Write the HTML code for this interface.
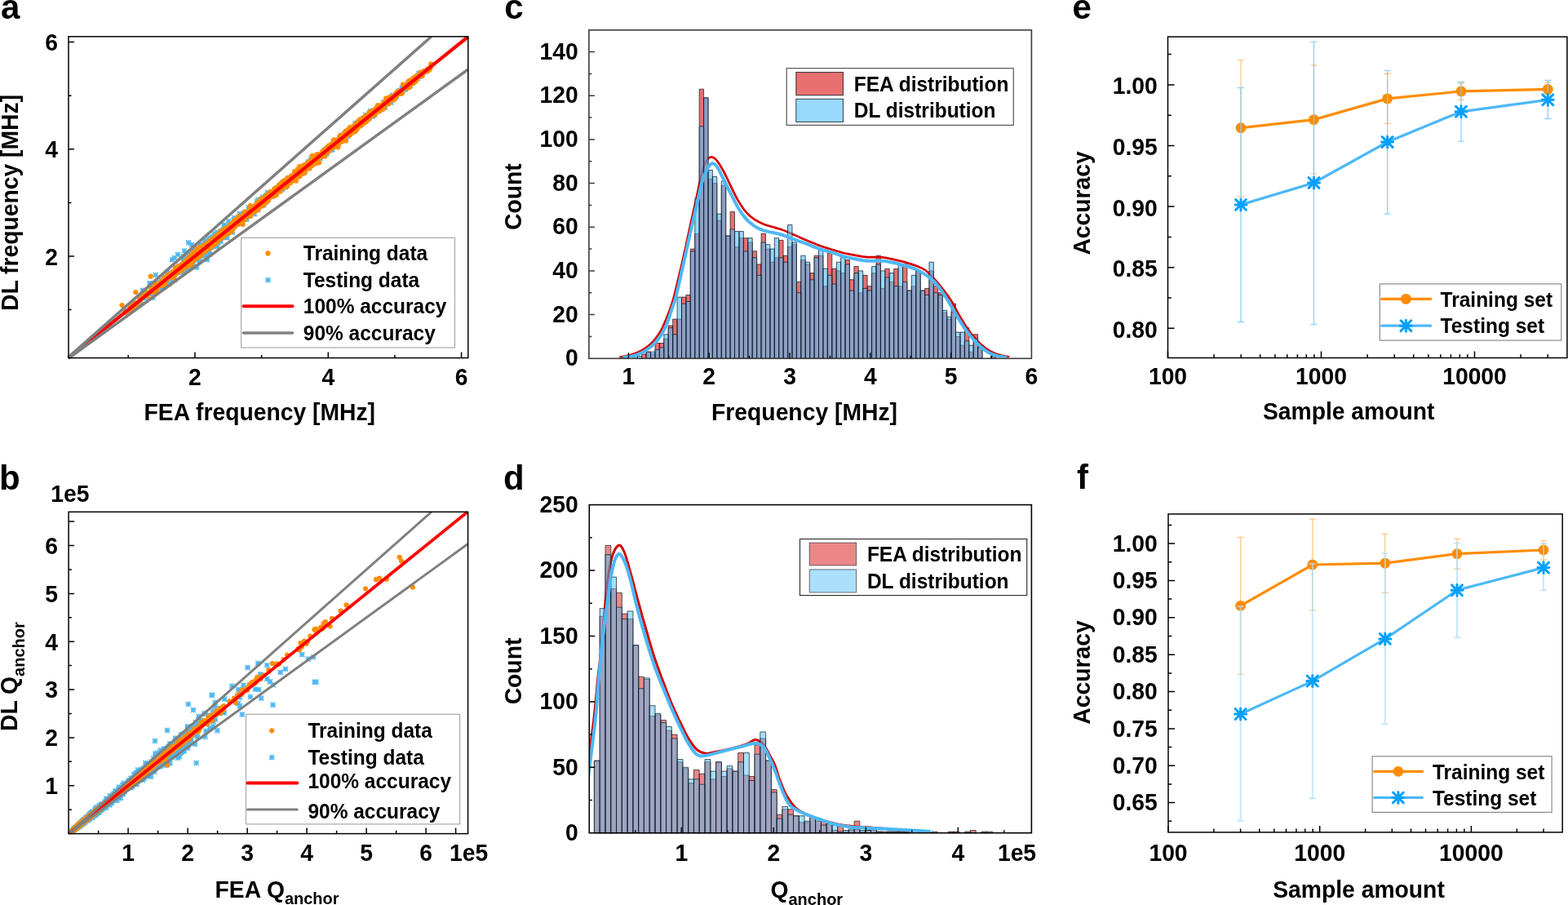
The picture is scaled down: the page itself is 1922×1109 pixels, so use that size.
<!DOCTYPE html>
<html><head><meta charset="utf-8"><title>Figure</title>
<style>html,body{margin:0;padding:0;background:#fff;width:1922px;height:1109px;overflow:hidden}svg{display:block}</style>
</head><body>
<svg width="1922" height="1109" viewBox="0 0 1922 1109" font-family='"Liberation Sans", Arial, Helvetica, sans-serif' font-weight="bold">
<defs><clipPath id="clipC"><rect x="722.7" y="37.6" width="541" height="401"/></clipPath><clipPath id="clipD"><rect x="723.1" y="619.4" width="540.5" height="400.5"/></clipPath></defs>
<rect width="1922" height="1109" fill="#fff"/>
<text font-size="42" text-anchor="start" transform="translate(1 22.7)">a</text>
<text font-size="42" text-anchor="start" transform="translate(-1 599.5)">b</text>
<text font-size="42" text-anchor="start" transform="translate(618.2 22.7)">c</text>
<text font-size="42" text-anchor="start" transform="translate(616.9 599.7)">d</text>
<text font-size="42" text-anchor="start" transform="translate(1314.4 22.7)">e</text>
<text font-size="42" text-anchor="start" transform="translate(1320 599.2)">f</text>
<path d="M432.9 155.4h6.2M436 152.3v6.2M433.1 152.5l5.8 5.8M433.1 158.3l5.8 -5.8M235.5 312.6h6.2M238.6 309.5v6.2M235.7 309.7l5.8 5.8M235.7 315.5l5.8 -5.8M427.5 156.5h6.2M430.6 153.4v6.2M427.7 153.6l5.8 5.8M427.7 159.4l5.8 -5.8M256.5 297.3h6.2M259.6 294.2v6.2M256.7 294.4l5.8 5.8M256.7 300.2l5.8 -5.8M320 247.4h6.2M323.1 244.3v6.2M320.2 244.5l5.8 5.8M320.2 250.3l5.8 -5.8M374.9 198.9h6.2M378 195.8v6.2M375.1 196l5.8 5.8M375.1 201.8l5.8 -5.8M233 319h6.2M236.1 315.9v6.2M233.2 316.1l5.8 5.8M233.2 321.9l5.8 -5.8M465.6 130.5h6.2M468.7 127.4v6.2M465.8 127.6l5.8 5.8M465.8 133.4l5.8 -5.8M471.9 127.1h6.2M475 124v6.2M472.1 124.2l5.8 5.8M472.1 130l5.8 -5.8M477.7 117.6h6.2M480.8 114.5v6.2M477.9 114.7l5.8 5.8M477.9 120.5l5.8 -5.8M177.1 360.3h6.2M180.2 357.2v6.2M177.3 357.4l5.8 5.8M177.3 363.2l5.8 -5.8M356.5 216.1h6.2M359.6 213v6.2M356.7 213.2l5.8 5.8M356.7 219l5.8 -5.8M367 208.3h6.2M370.1 205.2v6.2M367.2 205.4l5.8 5.8M367.2 211.2l5.8 -5.8M437.8 152.1h6.2M440.9 149v6.2M438 149.2l5.8 5.8M438 155l5.8 -5.8M241.3 313.7h6.2M244.4 310.6v6.2M241.5 310.8l5.8 5.8M241.5 316.6l5.8 -5.8M233.4 320.1h6.2M236.5 317v6.2M233.6 317.2l5.8 5.8M233.6 323l5.8 -5.8M415.5 168.9h6.2M418.6 165.8v6.2M415.7 166l5.8 5.8M415.7 171.8l5.8 -5.8M251.2 301.1h6.2M254.3 298v6.2M251.4 298.2l5.8 5.8M251.4 304l5.8 -5.8M221.5 317.4h6.2M224.6 314.3v6.2M221.7 314.5l5.8 5.8M221.7 320.3l5.8 -5.8M228.3 324h6.2M231.4 320.9v6.2M228.5 321.1l5.8 5.8M228.5 326.9l5.8 -5.8M359.9 215.4h6.2M363 212.3v6.2M360.1 212.5l5.8 5.8M360.1 218.3l5.8 -5.8M324.1 245.6h6.2M327.2 242.5v6.2M324.3 242.7l5.8 5.8M324.3 248.5l5.8 -5.8M394.2 184.1h6.2M397.3 181v6.2M394.4 181.2l5.8 5.8M394.4 187l5.8 -5.8M414 173.3h6.2M417.1 170.2v6.2M414.2 170.4l5.8 5.8M414.2 176.2l5.8 -5.8M177.6 358.1h6.2M180.7 355v6.2M177.8 355.2l5.8 5.8M177.8 361l5.8 -5.8M460.2 131h6.2M463.3 127.9v6.2M460.4 128.1l5.8 5.8M460.4 133.9l5.8 -5.8M438.5 151.5h6.2M441.6 148.4v6.2M438.7 148.6l5.8 5.8M438.7 154.4l5.8 -5.8M461.1 131.6h6.2M464.2 128.5v6.2M461.3 128.7l5.8 5.8M461.3 134.5l5.8 -5.8M404.3 182.8h6.2M407.4 179.7v6.2M404.5 179.9l5.8 5.8M404.5 185.7l5.8 -5.8M281.6 278.8h6.2M284.7 275.7v6.2M281.8 275.9l5.8 5.8M281.8 281.7l5.8 -5.8M248.5 312.3h6.2M251.6 309.2v6.2M248.7 309.4l5.8 5.8M248.7 315.2l5.8 -5.8M453 139.2h6.2M456.1 136.1v6.2M453.2 136.3l5.8 5.8M453.2 142.1l5.8 -5.8M289.6 270.8h6.2M292.7 267.7v6.2M289.8 267.9l5.8 5.8M289.8 273.7l5.8 -5.8M310.5 256.2h6.2M313.6 253.1v6.2M310.7 253.3l5.8 5.8M310.7 259.1l5.8 -5.8M374.7 200.6h6.2M377.8 197.5v6.2M374.9 197.7l5.8 5.8M374.9 203.5l5.8 -5.8M370.6 205.1h6.2M373.7 202v6.2M370.8 202.2l5.8 5.8M370.8 208l5.8 -5.8M369.9 207.4h6.2M373 204.3v6.2M370.1 204.5l5.8 5.8M370.1 210.3l5.8 -5.8M348.2 224.8h6.2M351.3 221.7v6.2M348.4 221.9l5.8 5.8M348.4 227.7l5.8 -5.8M318.2 251.7h6.2M321.3 248.6v6.2M318.4 248.8l5.8 5.8M318.4 254.6l5.8 -5.8M401.8 181h6.2M404.9 177.9v6.2M402 178.1l5.8 5.8M402 183.9l5.8 -5.8M284.3 267h6.2M287.4 263.9v6.2M284.5 264.1l5.8 5.8M284.5 269.9l5.8 -5.8M250.9 305.5h6.2M254 302.4v6.2M251.1 302.6l5.8 5.8M251.1 308.4l5.8 -5.8M453.2 138.6h6.2M456.3 135.5v6.2M453.4 135.7l5.8 5.8M453.4 141.5l5.8 -5.8M428 160.7h6.2M431.1 157.6v6.2M428.2 157.8l5.8 5.8M428.2 163.6l5.8 -5.8M380.1 196.5h6.2M383.2 193.4v6.2M380.3 193.6l5.8 5.8M380.3 199.4l5.8 -5.8M235.1 312.4h6.2M238.2 309.3v6.2M235.3 309.5l5.8 5.8M235.3 315.3l5.8 -5.8M217 330.4h6.2M220.1 327.3v6.2M217.2 327.5l5.8 5.8M217.2 333.3l5.8 -5.8M456.1 140.6h6.2M459.2 137.5v6.2M456.3 137.7l5.8 5.8M456.3 143.5l5.8 -5.8M464.6 131.2h6.2M467.7 128.1v6.2M464.8 128.3l5.8 5.8M464.8 134.1l5.8 -5.8M256.7 291.5h6.2M259.8 288.4v6.2M256.9 288.6l5.8 5.8M256.9 294.4l5.8 -5.8M351.4 221.7h6.2M354.5 218.6v6.2M351.6 218.8l5.8 5.8M351.6 224.6l5.8 -5.8M206.3 334.8h6.2M209.4 331.7v6.2M206.5 331.9l5.8 5.8M206.5 337.7l5.8 -5.8M287.4 274.4h6.2M290.5 271.3v6.2M287.6 271.5l5.8 5.8M287.6 277.3l5.8 -5.8M375.6 205.4h6.2M378.7 202.3v6.2M375.8 202.5l5.8 5.8M375.8 208.3l5.8 -5.8M277.4 278.9h6.2M280.5 275.8v6.2M277.6 276l5.8 5.8M277.6 281.8l5.8 -5.8M410.7 172.9h6.2M413.8 169.8v6.2M410.9 170l5.8 5.8M410.9 175.8l5.8 -5.8M451 142.3h6.2M454.1 139.2v6.2M451.2 139.4l5.8 5.8M451.2 145.2l5.8 -5.8M230.6 320.2h6.2M233.7 317.1v6.2M230.8 317.3l5.8 5.8M230.8 323.1l5.8 -5.8M373.3 203h6.2M376.4 199.9v6.2M373.5 200.1l5.8 5.8M373.5 205.9l5.8 -5.8M275.3 284.8h6.2M278.4 281.7v6.2M275.5 281.9l5.8 5.8M275.5 287.7l5.8 -5.8M235.4 312.6h6.2M238.5 309.5v6.2M235.6 309.7l5.8 5.8M235.6 315.5l5.8 -5.8M273.9 284.3h6.2M277 281.2v6.2M274.1 281.4l5.8 5.8M274.1 287.2l5.8 -5.8M308.6 262.4h6.2M311.7 259.3v6.2M308.8 259.5l5.8 5.8M308.8 265.3l5.8 -5.8M447.7 144.1h6.2M450.8 141v6.2M447.9 141.2l5.8 5.8M447.9 147l5.8 -5.8M397.4 185.3h6.2M400.5 182.2v6.2M397.6 182.4l5.8 5.8M397.6 188.2l5.8 -5.8M186.2 357h6.2M189.3 353.9v6.2M186.4 354.1l5.8 5.8M186.4 359.9l5.8 -5.8M220.5 324.4h6.2M223.6 321.3v6.2M220.7 321.5l5.8 5.8M220.7 327.3l5.8 -5.8M499.7 103h6.2M502.8 99.9v6.2M499.9 100.1l5.8 5.8M499.9 105.9l5.8 -5.8M330.2 236.9h6.2M333.3 233.8v6.2M330.4 234l5.8 5.8M330.4 239.8l5.8 -5.8M345.7 223.4h6.2M348.8 220.3v6.2M345.9 220.5l5.8 5.8M345.9 226.3l5.8 -5.8M272 284.4h6.2M275.1 281.3v6.2M272.2 281.5l5.8 5.8M272.2 287.3l5.8 -5.8M422.8 166.8h6.2M425.9 163.7v6.2M423 163.9l5.8 5.8M423 169.7l5.8 -5.8M329.7 240.3h6.2M332.8 237.2v6.2M329.9 237.4l5.8 5.8M329.9 243.2l5.8 -5.8M340.2 228.1h6.2M343.3 225v6.2M340.4 225.2l5.8 5.8M340.4 231l5.8 -5.8M250.7 303.4h6.2M253.8 300.3v6.2M250.9 300.5l5.8 5.8M250.9 306.3l5.8 -5.8M402.8 181.4h6.2M405.9 178.3v6.2M403 178.5l5.8 5.8M403 184.3l5.8 -5.8M242.8 308.9h6.2M245.9 305.8v6.2M243 306l5.8 5.8M243 311.8l5.8 -5.8M230.5 315.7h6.2M233.6 312.6v6.2M230.7 312.8l5.8 5.8M230.7 318.6l5.8 -5.8M344.8 225.9h6.2M347.9 222.8v6.2M345 223l5.8 5.8M345 228.8l5.8 -5.8M422.1 163.1h6.2M425.2 160v6.2M422.3 160.2l5.8 5.8M422.3 166l5.8 -5.8M257.4 300.7h6.2M260.5 297.6v6.2M257.6 297.8l5.8 5.8M257.6 303.6l5.8 -5.8M259.7 296.2h6.2M262.8 293.1v6.2M259.9 293.3l5.8 5.8M259.9 299.1l5.8 -5.8M232.3 318.2h6.2M235.4 315.1v6.2M232.5 315.3l5.8 5.8M232.5 321.1l5.8 -5.8M344.2 227h6.2M347.3 223.9v6.2M344.4 224.1l5.8 5.8M344.4 229.9l5.8 -5.8M403 183.8h6.2M406.1 180.7v6.2M403.2 180.9l5.8 5.8M403.2 186.7l5.8 -5.8M233.1 317.4h6.2M236.2 314.3v6.2M233.3 314.5l5.8 5.8M233.3 320.3l5.8 -5.8M323.1 247.2h6.2M326.2 244.1v6.2M323.3 244.3l5.8 5.8M323.3 250.1l5.8 -5.8M324 239.8h6.2M327.1 236.7v6.2M324.2 236.9l5.8 5.8M324.2 242.7l5.8 -5.8M228.8 311.7h6.2M231.9 308.6v6.2M229 308.8l5.8 5.8M229 314.6l5.8 -5.8M324.4 238.7h6.2M327.5 235.6v6.2M324.6 235.8l5.8 5.8M324.6 241.6l5.8 -5.8M255.7 294.1h6.2M258.8 291v6.2M255.9 291.2l5.8 5.8M255.9 297l5.8 -5.8M240.5 312.8h6.2M243.6 309.7v6.2M240.7 309.9l5.8 5.8M240.7 315.7l5.8 -5.8M486.4 110.9h6.2M489.5 107.8v6.2M486.6 108l5.8 5.8M486.6 113.8l5.8 -5.8M226.2 322.8h6.2M229.3 319.7v6.2M226.4 319.9l5.8 5.8M226.4 325.7l5.8 -5.8M271.9 282.4h6.2M275 279.3v6.2M272.1 279.5l5.8 5.8M272.1 285.3l5.8 -5.8M347.4 226.3h6.2M350.5 223.2v6.2M347.6 223.4l5.8 5.8M347.6 229.2l5.8 -5.8M287.2 274.9h6.2M290.3 271.8v6.2M287.4 272l5.8 5.8M287.4 277.8l5.8 -5.8M202.1 339.1h6.2M205.2 336v6.2M202.3 336.2l5.8 5.8M202.3 342l5.8 -5.8M434.7 150.8h6.2M437.8 147.7v6.2M434.9 147.9l5.8 5.8M434.9 153.7l5.8 -5.8M250 302.8h6.2M253.1 299.7v6.2M250.2 299.9l5.8 5.8M250.2 305.7l5.8 -5.8M290.7 262h6.2M293.8 258.9v6.2M290.9 259.1l5.8 5.8M290.9 264.9l5.8 -5.8M451.1 136h6.2M454.2 132.9v6.2M451.3 133.1l5.8 5.8M451.3 138.9l5.8 -5.8M480.9 119.6h6.2M484 116.5v6.2M481.1 116.7l5.8 5.8M481.1 122.5l5.8 -5.8M450 142h6.2M453.1 138.9v6.2M450.2 139.1l5.8 5.8M450.2 144.9l5.8 -5.8M290 273.9h6.2M293.1 270.8v6.2M290.2 271l5.8 5.8M290.2 276.8l5.8 -5.8M389.7 190.6h6.2M392.8 187.5v6.2M389.9 187.7l5.8 5.8M389.9 193.5l5.8 -5.8M428.3 160.4h6.2M431.4 157.3v6.2M428.5 157.5l5.8 5.8M428.5 163.3l5.8 -5.8M243.1 308.5h6.2M246.2 305.4v6.2M243.3 305.6l5.8 5.8M243.3 311.4l5.8 -5.8M478.9 116.8h6.2M482 113.7v6.2M479.1 113.9l5.8 5.8M479.1 119.7l5.8 -5.8M227.5 315.9h6.2M230.6 312.8v6.2M227.7 313l5.8 5.8M227.7 318.8l5.8 -5.8M360.6 213.3h6.2M363.7 210.2v6.2M360.8 210.4l5.8 5.8M360.8 216.2l5.8 -5.8M249.5 303h6.2M252.6 299.9v6.2M249.7 300.1l5.8 5.8M249.7 305.9l5.8 -5.8M241.9 308.5h6.2M245 305.4v6.2M242.1 305.6l5.8 5.8M242.1 311.4l5.8 -5.8M231.6 316.8h6.2M234.7 313.7v6.2M231.8 313.9l5.8 5.8M231.8 319.7l5.8 -5.8M463.5 130h6.2M466.6 126.9v6.2M463.7 127.1l5.8 5.8M463.7 132.9l5.8 -5.8M232.9 316.3h6.2M236 313.2v6.2M233.1 313.4l5.8 5.8M233.1 319.2l5.8 -5.8M451.3 140h6.2M454.4 136.9v6.2M451.5 137.1l5.8 5.8M451.5 142.9l5.8 -5.8M238.6 318.6h6.2M241.7 315.5v6.2M238.8 315.7l5.8 5.8M238.8 321.5l5.8 -5.8M269.3 283.6h6.2M272.4 280.5v6.2M269.5 280.7l5.8 5.8M269.5 286.5l5.8 -5.8M242.5 299.6h6.2M245.6 296.5v6.2M242.7 296.7l5.8 5.8M242.7 302.5l5.8 -5.8M494.2 106.1h6.2M497.3 103v6.2M494.4 103.2l5.8 5.8M494.4 109l5.8 -5.8M229.5 326.4h6.2M232.6 323.3v6.2M229.7 323.5l5.8 5.8M229.7 329.3l5.8 -5.8M433.4 152.6h6.2M436.5 149.5v6.2M433.6 149.7l5.8 5.8M433.6 155.5l5.8 -5.8M259.8 296.3h6.2M262.9 293.2v6.2M260 293.4l5.8 5.8M260 299.2l5.8 -5.8M469 131.8h6.2M472.1 128.7v6.2M469.2 128.9l5.8 5.8M469.2 134.7l5.8 -5.8M392.5 188.5h6.2M395.6 185.4v6.2M392.7 185.6l5.8 5.8M392.7 191.4l5.8 -5.8M249.2 300.2h6.2M252.3 297.1v6.2M249.4 297.3l5.8 5.8M249.4 303.1l5.8 -5.8M316 248.6h6.2M319.1 245.5v6.2M316.2 245.7l5.8 5.8M316.2 251.5l5.8 -5.8M235.9 307.5h6.2M239 304.4v6.2M236.1 304.6l5.8 5.8M236.1 310.4l5.8 -5.8M289.6 268.6h6.2M292.7 265.5v6.2M289.8 265.7l5.8 5.8M289.8 271.5l5.8 -5.8M206.5 337h6.2M209.6 333.9v6.2M206.7 334.1l5.8 5.8M206.7 339.9l5.8 -5.8M370.4 209.8h6.2M373.5 206.7v6.2M370.6 206.9l5.8 5.8M370.6 212.7l5.8 -5.8M338.1 234.3h6.2M341.2 231.2v6.2M338.3 231.4l5.8 5.8M338.3 237.2l5.8 -5.8M254.6 298h6.2M257.7 294.9v6.2M254.8 295.1l5.8 5.8M254.8 300.9l5.8 -5.8M195.4 343.6h6.2M198.5 340.5v6.2M195.6 340.7l5.8 5.8M195.6 346.5l5.8 -5.8M461.9 134.4h6.2M465 131.3v6.2M462.1 131.5l5.8 5.8M462.1 137.3l5.8 -5.8M231.3 320.8h6.2M234.4 317.7v6.2M231.5 317.9l5.8 5.8M231.5 323.7l5.8 -5.8M268.7 285.5h6.2M271.8 282.4v6.2M268.9 282.6l5.8 5.8M268.9 288.4l5.8 -5.8M204.2 348h6.2M207.3 344.9v6.2M204.4 345.1l5.8 5.8M204.4 350.9l5.8 -5.8M281.8 284.7h6.2M284.9 281.6v6.2M282 281.8l5.8 5.8M282 287.6l5.8 -5.8M288 272.9h6.2M291.1 269.8v6.2M288.2 270l5.8 5.8M288.2 275.8l5.8 -5.8M321.3 244.7h6.2M324.4 241.6v6.2M321.5 241.8l5.8 5.8M321.5 247.6l5.8 -5.8M268.5 289.9h6.2M271.6 286.8v6.2M268.7 287l5.8 5.8M268.7 292.8l5.8 -5.8M250.2 314h6.2M253.3 310.9v6.2M250.4 311.1l5.8 5.8M250.4 316.9l5.8 -5.8M405.4 177.7h6.2M408.5 174.6v6.2M405.6 174.8l5.8 5.8M405.6 180.6l5.8 -5.8M252.8 307h6.2M255.9 303.9v6.2M253 304.1l5.8 5.8M253 309.9l5.8 -5.8M270 283.7h6.2M273.1 280.6v6.2M270.2 280.8l5.8 5.8M270.2 286.6l5.8 -5.8M312.5 252.7h6.2M315.6 249.6v6.2M312.7 249.8l5.8 5.8M312.7 255.6l5.8 -5.8M255.8 296.6h6.2M258.9 293.5v6.2M256 293.7l5.8 5.8M256 299.5l5.8 -5.8M384.5 193.3h6.2M387.6 190.2v6.2M384.7 190.4l5.8 5.8M384.7 196.2l5.8 -5.8M225.1 325.3h6.2M228.2 322.2v6.2M225.3 322.4l5.8 5.8M225.3 328.2l5.8 -5.8M267.1 285.2h6.2M270.2 282.1v6.2M267.3 282.3l5.8 5.8M267.3 288.1l5.8 -5.8M290.8 265.5h6.2M293.9 262.4v6.2M291 262.6l5.8 5.8M291 268.4l5.8 -5.8M250.7 300h6.2M253.8 296.9v6.2M250.9 297.1l5.8 5.8M250.9 302.9l5.8 -5.8M426.6 158.2h6.2M429.7 155.1v6.2M426.8 155.3l5.8 5.8M426.8 161.1l5.8 -5.8M270.8 288.6h6.2M273.9 285.5v6.2M271 285.7l5.8 5.8M271 291.5l5.8 -5.8M290.2 267h6.2M293.3 263.9v6.2M290.4 264.1l5.8 5.8M290.4 269.9l5.8 -5.8M304.2 258.3h6.2M307.3 255.2v6.2M304.4 255.4l5.8 5.8M304.4 261.2l5.8 -5.8M421.2 167h6.2M424.3 163.9v6.2M421.4 164.1l5.8 5.8M421.4 169.9l5.8 -5.8M244.4 307.5h6.2M247.5 304.4v6.2M244.6 304.6l5.8 5.8M244.6 310.4l5.8 -5.8M421 166.3h6.2M424.1 163.2v6.2M421.2 163.4l5.8 5.8M421.2 169.2l5.8 -5.8M466.4 129.8h6.2M469.5 126.7v6.2M466.6 126.9l5.8 5.8M466.6 132.7l5.8 -5.8M256 297.3h6.2M259.1 294.2v6.2M256.2 294.4l5.8 5.8M256.2 300.2l5.8 -5.8M235.8 308.5h6.2M238.9 305.4v6.2M236 305.6l5.8 5.8M236 311.4l5.8 -5.8M407.1 177h6.2M410.2 173.9v6.2M407.3 174.1l5.8 5.8M407.3 179.9l5.8 -5.8M263 291.6h6.2M266.1 288.5v6.2M263.2 288.7l5.8 5.8M263.2 294.5l5.8 -5.8M245.5 313.7h6.2M248.6 310.6v6.2M245.7 310.8l5.8 5.8M245.7 316.6l5.8 -5.8M223 323.8h6.2M226.1 320.7v6.2M223.2 320.9l5.8 5.8M223.2 326.7l5.8 -5.8M351.1 219h6.2M354.2 215.9v6.2M351.3 216.1l5.8 5.8M351.3 221.9l5.8 -5.8M458.9 133.2h6.2M462 130.1v6.2M459.1 130.3l5.8 5.8M459.1 136.1l5.8 -5.8M440.7 148.5h6.2M443.8 145.4v6.2M440.9 145.6l5.8 5.8M440.9 151.4l5.8 -5.8M338 233.1h6.2M341.1 230v6.2M338.2 230.2l5.8 5.8M338.2 236l5.8 -5.8M293.4 271.1h6.2M296.5 268v6.2M293.6 268.2l5.8 5.8M293.6 274l5.8 -5.8M482.2 116.3h6.2M485.3 113.2v6.2M482.4 113.4l5.8 5.8M482.4 119.2l5.8 -5.8M361.6 215.7h6.2M364.7 212.6v6.2M361.8 212.8l5.8 5.8M361.8 218.6l5.8 -5.8M471.7 127h6.2M474.8 123.9v6.2M471.9 124.1l5.8 5.8M471.9 129.9l5.8 -5.8M373 201.9h6.2M376.1 198.8v6.2M373.2 199l5.8 5.8M373.2 204.8l5.8 -5.8M377.9 201.7h6.2M381 198.6v6.2M378.1 198.8l5.8 5.8M378.1 204.6l5.8 -5.8M375.5 198.2h6.2M378.6 195.1v6.2M375.7 195.3l5.8 5.8M375.7 201.1l5.8 -5.8M230.4 325.7h6.2M233.5 322.6v6.2M230.6 322.8l5.8 5.8M230.6 328.6l5.8 -5.8M251.1 299.6h6.2M254.2 296.5v6.2M251.3 296.7l5.8 5.8M251.3 302.5l5.8 -5.8M225.4 328.4h6.2M228.5 325.3v6.2M225.6 325.5l5.8 5.8M225.6 331.3l5.8 -5.8M459.3 134.1h6.2M462.4 131v6.2M459.5 131.2l5.8 5.8M459.5 137l5.8 -5.8M502.9 101.5h6.2M506 98.4v6.2M503.1 98.6l5.8 5.8M503.1 104.4l5.8 -5.8M342.4 228.3h6.2M345.5 225.2v6.2M342.6 225.4l5.8 5.8M342.6 231.2l5.8 -5.8M233.6 316.6h6.2M236.7 313.5v6.2M233.8 313.7l5.8 5.8M233.8 319.5l5.8 -5.8M232.5 319h6.2M235.6 315.9v6.2M232.7 316.1l5.8 5.8M232.7 321.9l5.8 -5.8M301.6 259.5h6.2M304.7 256.4v6.2M301.8 256.6l5.8 5.8M301.8 262.4l5.8 -5.8M283.5 269.8h6.2M286.6 266.7v6.2M283.7 266.9l5.8 5.8M283.7 272.7l5.8 -5.8M239.5 314.1h6.2M242.6 311v6.2M239.7 311.2l5.8 5.8M239.7 317l5.8 -5.8M228.1 315.7h6.2M231.2 312.6v6.2M228.3 312.8l5.8 5.8M228.3 318.6l5.8 -5.8M356.9 216.6h6.2M360 213.5v6.2M357.1 213.7l5.8 5.8M357.1 219.5l5.8 -5.8M407.1 176.5h6.2M410.2 173.4v6.2M407.3 173.6l5.8 5.8M407.3 179.4l5.8 -5.8M221.7 314.3h6.2M224.8 311.2v6.2M221.9 311.4l5.8 5.8M221.9 317.2l5.8 -5.8M263.3 302h6.2M266.4 298.9v6.2M263.5 299.1l5.8 5.8M263.5 304.9l5.8 -5.8M259.1 298.6h6.2M262.2 295.5v6.2M259.3 295.7l5.8 5.8M259.3 301.5l5.8 -5.8M320 251h6.2M323.1 247.9v6.2M320.2 248.1l5.8 5.8M320.2 253.9l5.8 -5.8M344.5 227.4h6.2M347.6 224.3v6.2M344.7 224.5l5.8 5.8M344.7 230.3l5.8 -5.8M292.6 269.2h6.2M295.7 266.1v6.2M292.8 266.3l5.8 5.8M292.8 272.1l5.8 -5.8M432.2 151.1h6.2M435.3 148v6.2M432.4 148.2l5.8 5.8M432.4 154l5.8 -5.8M283.9 274.1h6.2M287 271v6.2M284.1 271.2l5.8 5.8M284.1 277l5.8 -5.8M259.4 286.4h6.2M262.5 283.3v6.2M259.6 283.5l5.8 5.8M259.6 289.3l5.8 -5.8M397.1 181.9h6.2M400.2 178.8v6.2M397.3 179l5.8 5.8M397.3 184.8l5.8 -5.8M427.4 161h6.2M430.5 157.9v6.2M427.6 158.1l5.8 5.8M427.6 163.9l5.8 -5.8M438.6 150.2h6.2M441.7 147.1v6.2M438.8 147.3l5.8 5.8M438.8 153.1l5.8 -5.8M236.8 304.6h6.2M239.9 301.5v6.2M237 301.7l5.8 5.8M237 307.5l5.8 -5.8M241 309h6.2M244.1 305.9v6.2M241.2 306.1l5.8 5.8M241.2 311.9l5.8 -5.8M306 257h6.2M309.1 253.9v6.2M306.2 254.1l5.8 5.8M306.2 259.9l5.8 -5.8M472.9 122.6h6.2M476 119.5v6.2M473.1 119.7l5.8 5.8M473.1 125.5l5.8 -5.8M347.8 227.2h6.2M350.9 224.1v6.2M348 224.3l5.8 5.8M348 230.1l5.8 -5.8M348.1 225.5h6.2M351.2 222.4v6.2M348.3 222.6l5.8 5.8M348.3 228.4l5.8 -5.8M266.5 287.8h6.2M269.6 284.7v6.2M266.7 284.9l5.8 5.8M266.7 290.7l5.8 -5.8M498.5 101.9h6.2M501.6 98.8v6.2M498.7 99l5.8 5.8M498.7 104.8l5.8 -5.8M237 317.8h6.2M240.1 314.7v6.2M237.2 314.9l5.8 5.8M237.2 320.7l5.8 -5.8M331.6 237.8h6.2M334.7 234.7v6.2M331.8 234.9l5.8 5.8M331.8 240.7l5.8 -5.8M368.7 207.5h6.2M371.8 204.4v6.2M368.9 204.6l5.8 5.8M368.9 210.4l5.8 -5.8M416.3 169.3h6.2M419.4 166.2v6.2M416.5 166.4l5.8 5.8M416.5 172.2l5.8 -5.8M415.3 168.5h6.2M418.4 165.4v6.2M415.5 165.6l5.8 5.8M415.5 171.4l5.8 -5.8M282 276.5h6.2M285.1 273.4v6.2M282.2 273.6l5.8 5.8M282.2 279.4l5.8 -5.8M255 297.8h6.2M258.1 294.7v6.2M255.2 294.9l5.8 5.8M255.2 300.7l5.8 -5.8M482.6 118.5h6.2M485.7 115.4v6.2M482.8 115.6l5.8 5.8M482.8 121.4l5.8 -5.8M325.5 244.5h6.2M328.6 241.4v6.2M325.7 241.6l5.8 5.8M325.7 247.4l5.8 -5.8M254.3 297.5h6.2M257.4 294.4v6.2M254.5 294.6l5.8 5.8M254.5 300.4l5.8 -5.8M233.6 324.1h6.2M236.7 321v6.2M233.8 321.2l5.8 5.8M233.8 327l5.8 -5.8M410.3 173.3h6.2M413.4 170.2v6.2M410.5 170.4l5.8 5.8M410.5 176.2l5.8 -5.8M432 157.7h6.2M435.1 154.6v6.2M432.2 154.8l5.8 5.8M432.2 160.6l5.8 -5.8M334.4 236.6h6.2M337.5 233.5v6.2M334.6 233.7l5.8 5.8M334.6 239.5l5.8 -5.8M280.8 275.3h6.2M283.9 272.2v6.2M281 272.4l5.8 5.8M281 278.2l5.8 -5.8M360.8 214.9h6.2M363.9 211.8v6.2M361 212l5.8 5.8M361 217.8l5.8 -5.8M483 117.1h6.2M486.1 114v6.2M483.2 114.2l5.8 5.8M483.2 120l5.8 -5.8M335.1 235.8h6.2M338.2 232.7v6.2M335.3 232.9l5.8 5.8M335.3 238.7l5.8 -5.8M408.1 175.5h6.2M411.2 172.4v6.2M408.3 172.6l5.8 5.8M408.3 178.4l5.8 -5.8M444.9 140.9h6.2M448 137.8v6.2M445.1 138l5.8 5.8M445.1 143.8l5.8 -5.8M397.2 188.5h6.2M400.3 185.4v6.2M397.4 185.6l5.8 5.8M397.4 191.4l5.8 -5.8M310.1 254.4h6.2M313.2 251.3v6.2M310.3 251.5l5.8 5.8M310.3 257.3l5.8 -5.8M236.2 315h6.2M239.3 311.9v6.2M236.4 312.1l5.8 5.8M236.4 317.9l5.8 -5.8M375.5 199.9h6.2M378.6 196.8v6.2M375.7 197l5.8 5.8M375.7 202.8l5.8 -5.8M419.1 167.5h6.2M422.2 164.4v6.2M419.3 164.6l5.8 5.8M419.3 170.4l5.8 -5.8M476.3 125.7h6.2M479.4 122.6v6.2M476.5 122.8l5.8 5.8M476.5 128.6l5.8 -5.8M232 310.2h6.2M235.1 307.1v6.2M232.2 307.3l5.8 5.8M232.2 313.1l5.8 -5.8M229 325.2h6.2M232.1 322.1v6.2M229.2 322.3l5.8 5.8M229.2 328.1l5.8 -5.8M351.4 221.2h6.2M354.5 218.1v6.2M351.6 218.3l5.8 5.8M351.6 224.1l5.8 -5.8M421.7 167.4h6.2M424.8 164.3v6.2M421.9 164.5l5.8 5.8M421.9 170.3l5.8 -5.8M222.4 330.4h6.2M225.5 327.3v6.2M222.6 327.5l5.8 5.8M222.6 333.3l5.8 -5.8M348.9 224.2h6.2M352 221.1v6.2M349.1 221.3l5.8 5.8M349.1 227.1l5.8 -5.8M255.8 293.8h6.2M258.9 290.7v6.2M256 290.9l5.8 5.8M256 296.7l5.8 -5.8M508.9 93h6.2M512 89.9v6.2M509.1 90.1l5.8 5.8M509.1 95.9l5.8 -5.8M277.5 283h6.2M280.6 279.9v6.2M277.7 280.1l5.8 5.8M277.7 285.9l5.8 -5.8M225.1 320.1h6.2M228.2 317v6.2M225.3 317.2l5.8 5.8M225.3 323l5.8 -5.8M405.8 178.2h6.2M408.9 175.1v6.2M406 175.3l5.8 5.8M406 181.1l5.8 -5.8M259.3 294.6h6.2M262.4 291.5v6.2M259.5 291.7l5.8 5.8M259.5 297.5l5.8 -5.8M289.4 270.4h6.2M292.5 267.3v6.2M289.6 267.5l5.8 5.8M289.6 273.3l5.8 -5.8M231 314.7h6.2M234.1 311.6v6.2M231.2 311.8l5.8 5.8M231.2 317.6l5.8 -5.8M268.4 290.7h6.2M271.5 287.6v6.2M268.6 287.8l5.8 5.8M268.6 293.6l5.8 -5.8M232.4 317.5h6.2M235.5 314.4v6.2M232.6 314.6l5.8 5.8M232.6 320.4l5.8 -5.8M251.1 300.7h6.2M254.2 297.6v6.2M251.3 297.8l5.8 5.8M251.3 303.6l5.8 -5.8M337.2 232.3h6.2M340.3 229.2v6.2M337.4 229.4l5.8 5.8M337.4 235.2l5.8 -5.8M260.4 298.1h6.2M263.5 295v6.2M260.6 295.2l5.8 5.8M260.6 301l5.8 -5.8M366.3 205.8h6.2M369.4 202.7v6.2M366.5 202.9l5.8 5.8M366.5 208.7l5.8 -5.8M447.6 144.8h6.2M450.7 141.7v6.2M447.8 141.9l5.8 5.8M447.8 147.7l5.8 -5.8M336.4 231.5h6.2M339.5 228.4v6.2M336.6 228.6l5.8 5.8M336.6 234.4l5.8 -5.8M211.7 332.5h6.2M214.8 329.4v6.2M211.9 329.6l5.8 5.8M211.9 335.4l5.8 -5.8M470.9 122.8h6.2M474 119.7v6.2M471.1 119.9l5.8 5.8M471.1 125.7l5.8 -5.8M241.5 320.8h6.2M244.6 317.7v6.2M241.7 317.9l5.8 5.8M241.7 323.7l5.8 -5.8M271.3 276.6h6.2M274.4 273.5v6.2M271.5 273.7l5.8 5.8M271.5 279.5l5.8 -5.8M323.8 243.8h6.2M326.9 240.7v6.2M324 240.9l5.8 5.8M324 246.7l5.8 -5.8M348.1 226.4h6.2M351.2 223.3v6.2M348.3 223.5l5.8 5.8M348.3 229.3l5.8 -5.8M268 287.6h6.2M271.1 284.5v6.2M268.2 284.7l5.8 5.8M268.2 290.5l5.8 -5.8M301.5 254.2h6.2M304.6 251.1v6.2M301.7 251.3l5.8 5.8M301.7 257.1l5.8 -5.8M347.8 223h6.2M350.9 219.9v6.2M348 220.1l5.8 5.8M348 225.9l5.8 -5.8M306.1 261.2h6.2M309.2 258.1v6.2M306.3 258.3l5.8 5.8M306.3 264.1l5.8 -5.8M253.8 302h6.2M256.9 298.9v6.2M254 299.1l5.8 5.8M254 304.9l5.8 -5.8M289 266.5h6.2M292.1 263.4v6.2M289.2 263.6l5.8 5.8M289.2 269.4l5.8 -5.8M281.9 282.5h6.2M285 279.4v6.2M282.1 279.6l5.8 5.8M282.1 285.4l5.8 -5.8M260.8 294.9h6.2M263.9 291.8v6.2M261 292l5.8 5.8M261 297.8l5.8 -5.8M344.2 227.6h6.2M347.3 224.5v6.2M344.4 224.7l5.8 5.8M344.4 230.5l5.8 -5.8M319.2 241.4h6.2M322.3 238.3v6.2M319.4 238.5l5.8 5.8M319.4 244.3l5.8 -5.8M290.4 271.3h6.2M293.5 268.2v6.2M290.6 268.4l5.8 5.8M290.6 274.2l5.8 -5.8M381.9 194.1h6.2M385 191v6.2M382.1 191.2l5.8 5.8M382.1 197l5.8 -5.8M414.6 171.8h6.2M417.7 168.7v6.2M414.8 168.9l5.8 5.8M414.8 174.7l5.8 -5.8M357.1 218.3h6.2M360.2 215.2v6.2M357.3 215.4l5.8 5.8M357.3 221.2l5.8 -5.8M266.7 284.7h6.2M269.8 281.6v6.2M266.9 281.8l5.8 5.8M266.9 287.6l5.8 -5.8M462.2 131h6.2M465.3 127.9v6.2M462.4 128.1l5.8 5.8M462.4 133.9l5.8 -5.8M228 329.3h6.2M231.1 326.2v6.2M228.2 326.4l5.8 5.8M228.2 332.2l5.8 -5.8M412.5 170.8h6.2M415.6 167.7v6.2M412.7 167.9l5.8 5.8M412.7 173.7l5.8 -5.8M289.7 268.5h6.2M292.8 265.4v6.2M289.9 265.6l5.8 5.8M289.9 271.4l5.8 -5.8M287.4 274.9h6.2M290.5 271.8v6.2M287.6 272l5.8 5.8M287.6 277.8l5.8 -5.8M427.5 159.7h6.2M430.6 156.6v6.2M427.7 156.8l5.8 5.8M427.7 162.6l5.8 -5.8M360.6 213.2h6.2M363.7 210.1v6.2M360.8 210.3l5.8 5.8M360.8 216.1l5.8 -5.8M478.2 120.3h6.2M481.3 117.2v6.2M478.4 117.4l5.8 5.8M478.4 123.2l5.8 -5.8M440.3 150.9h6.2M443.4 147.8v6.2M440.5 148l5.8 5.8M440.5 153.8l5.8 -5.8M229.7 322.5h6.2M232.8 319.4v6.2M229.9 319.6l5.8 5.8M229.9 325.4l5.8 -5.8M314.9 251.2h6.2M318 248.1v6.2M315.1 248.3l5.8 5.8M315.1 254.1l5.8 -5.8M401.6 183.4h6.2M404.7 180.3v6.2M401.8 180.5l5.8 5.8M401.8 186.3l5.8 -5.8M223.9 323.9h6.2M227 320.8v6.2M224.1 321l5.8 5.8M224.1 326.8l5.8 -5.8M320.3 250h6.2M323.4 246.9v6.2M320.5 247.1l5.8 5.8M320.5 252.9l5.8 -5.8M496.6 104.4h6.2M499.7 101.3v6.2M496.8 101.5l5.8 5.8M496.8 107.3l5.8 -5.8M250.8 302.5h6.2M253.9 299.4v6.2M251 299.6l5.8 5.8M251 305.4l5.8 -5.8M227 326.5h6.2M230.1 323.4v6.2M227.2 323.6l5.8 5.8M227.2 329.4l5.8 -5.8M259.1 291.3h6.2M262.2 288.2v6.2M259.3 288.4l5.8 5.8M259.3 294.2l5.8 -5.8M272.3 276.4h6.2M275.4 273.3v6.2M272.5 273.5l5.8 5.8M272.5 279.3l5.8 -5.8M257.6 290.2h6.2M260.7 287.1v6.2M257.8 287.3l5.8 5.8M257.8 293.1l5.8 -5.8M293.4 272.5h6.2M296.5 269.4v6.2M293.6 269.6l5.8 5.8M293.6 275.4l5.8 -5.8M422 162h6.2M425.1 158.9v6.2M422.2 159.1l5.8 5.8M422.2 164.9l5.8 -5.8M315.5 249.5h6.2M318.6 246.4v6.2M315.7 246.6l5.8 5.8M315.7 252.4l5.8 -5.8M342.3 228.6h6.2M345.4 225.5v6.2M342.5 225.7l5.8 5.8M342.5 231.5l5.8 -5.8M229.9 322h6.2M233 318.9v6.2M230.1 319.1l5.8 5.8M230.1 324.9l5.8 -5.8M225.8 322.2h6.2M228.9 319.1v6.2M226 319.3l5.8 5.8M226 325.1l5.8 -5.8M466.9 125.7h6.2M470 122.6v6.2M467.1 122.8l5.8 5.8M467.1 128.6l5.8 -5.8M270.7 283.7h6.2M273.8 280.6v6.2M270.9 280.8l5.8 5.8M270.9 286.6l5.8 -5.8M463.9 131.7h6.2M467 128.6v6.2M464.1 128.8l5.8 5.8M464.1 134.6l5.8 -5.8M267.6 291.6h6.2M270.7 288.5v6.2M267.8 288.7l5.8 5.8M267.8 294.5l5.8 -5.8M352.1 221.5h6.2M355.2 218.4v6.2M352.3 218.6l5.8 5.8M352.3 224.4l5.8 -5.8M360.6 212.6h6.2M363.7 209.5v6.2M360.8 209.7l5.8 5.8M360.8 215.5l5.8 -5.8M230 309.1h6.2M233.1 306v6.2M230.2 306.2l5.8 5.8M230.2 312l5.8 -5.8M225.5 327.9h6.2M228.6 324.8v6.2M225.7 325l5.8 5.8M225.7 330.8l5.8 -5.8M301 261.7h6.2M304.1 258.6v6.2M301.2 258.8l5.8 5.8M301.2 264.6l5.8 -5.8M231.5 319.6h6.2M234.6 316.5v6.2M231.7 316.7l5.8 5.8M231.7 322.5l5.8 -5.8M261 297.4h6.2M264.1 294.3v6.2M261.2 294.5l5.8 5.8M261.2 300.3l5.8 -5.8M243 306.3h6.2M246.1 303.2v6.2M243.2 303.4l5.8 5.8M243.2 309.2l5.8 -5.8M263.2 289.6h6.2M266.3 286.5v6.2M263.4 286.7l5.8 5.8M263.4 292.5l5.8 -5.8M298.1 268.6h6.2M301.2 265.5v6.2M298.3 265.7l5.8 5.8M298.3 271.5l5.8 -5.8M262.3 297.7h6.2M265.4 294.6v6.2M262.5 294.8l5.8 5.8M262.5 300.6l5.8 -5.8M268 282.9h6.2M271.1 279.8v6.2M268.2 280l5.8 5.8M268.2 285.8l5.8 -5.8M310.2 253.4h6.2M313.3 250.3v6.2M310.4 250.5l5.8 5.8M310.4 256.3l5.8 -5.8M369.6 205.5h6.2M372.7 202.4v6.2M369.8 202.6l5.8 5.8M369.8 208.4l5.8 -5.8M214.3 333.8h6.2M217.4 330.7v6.2M214.5 330.9l5.8 5.8M214.5 336.7l5.8 -5.8M505.3 98.4h6.2M508.4 95.3v6.2M505.5 95.5l5.8 5.8M505.5 101.3l5.8 -5.8M297.1 263.3h6.2M300.2 260.2v6.2M297.3 260.4l5.8 5.8M297.3 266.2l5.8 -5.8M455.1 138.9h6.2M458.2 135.8v6.2M455.3 136l5.8 5.8M455.3 141.8l5.8 -5.8M192.9 353h6.2M196 349.9v6.2M193.1 350.1l5.8 5.8M193.1 355.9l5.8 -5.8M218.3 328.1h6.2M221.4 325v6.2M218.5 325.2l5.8 5.8M218.5 331l5.8 -5.8M228.8 315.1h6.2M231.9 312v6.2M229 312.2l5.8 5.8M229 318l5.8 -5.8M453.6 141.1h6.2M456.7 138v6.2M453.8 138.2l5.8 5.8M453.8 144l5.8 -5.8M292.3 265h6.2M295.4 261.9v6.2M292.5 262.1l5.8 5.8M292.5 267.9l5.8 -5.8M431.3 155.7h6.2M434.4 152.6v6.2M431.5 152.8l5.8 5.8M431.5 158.6l5.8 -5.8M370.6 207.5h6.2M373.7 204.4v6.2M370.8 204.6l5.8 5.8M370.8 210.4l5.8 -5.8M227.1 321.1h6.2M230.2 318v6.2M227.3 318.2l5.8 5.8M227.3 324l5.8 -5.8M275.7 282.2h6.2M278.8 279.1v6.2M275.9 279.3l5.8 5.8M275.9 285.1l5.8 -5.8M267.3 285.9h6.2M270.4 282.8v6.2M267.5 283l5.8 5.8M267.5 288.8l5.8 -5.8M298.1 261.9h6.2M301.2 258.8v6.2M298.3 259l5.8 5.8M298.3 264.8l5.8 -5.8M395.2 188.6h6.2M398.3 185.5v6.2M395.4 185.7l5.8 5.8M395.4 191.5l5.8 -5.8M221.6 332.3h6.2M224.7 329.2v6.2M221.8 329.4l5.8 5.8M221.8 335.2l5.8 -5.8M455.2 135.8h6.2M458.3 132.7v6.2M455.4 132.9l5.8 5.8M455.4 138.7l5.8 -5.8M310.1 254.1h6.2M313.2 251v6.2M310.3 251.2l5.8 5.8M310.3 257l5.8 -5.8M278.6 278h6.2M281.7 274.9v6.2M278.8 275.1l5.8 5.8M278.8 280.9l5.8 -5.8M378.1 199.1h6.2M381.2 196v6.2M378.3 196.2l5.8 5.8M378.3 202l5.8 -5.8M254.5 291.6h6.2M257.6 288.5v6.2M254.7 288.7l5.8 5.8M254.7 294.5l5.8 -5.8M378.4 201.9h6.2M381.5 198.8v6.2M378.6 199l5.8 5.8M378.6 204.8l5.8 -5.8M292.2 265h6.2M295.3 261.9v6.2M292.4 262.1l5.8 5.8M292.4 267.9l5.8 -5.8M307.8 258.6h6.2M310.9 255.5v6.2M308 255.7l5.8 5.8M308 261.5l5.8 -5.8M242.8 304.8h6.2M245.9 301.7v6.2M243 301.9l5.8 5.8M243 307.7l5.8 -5.8M239.4 304.3h6.2M242.5 301.2v6.2M239.6 301.4l5.8 5.8M239.6 307.2l5.8 -5.8M432.1 159h6.2M435.2 155.9v6.2M432.3 156.1l5.8 5.8M432.3 161.9l5.8 -5.8M336.1 232.6h6.2M339.2 229.5v6.2M336.3 229.7l5.8 5.8M336.3 235.5l5.8 -5.8M291.7 270.2h6.2M294.8 267.1v6.2M291.9 267.3l5.8 5.8M291.9 273.1l5.8 -5.8M403.1 180.2h6.2M406.2 177.1v6.2M403.3 177.3l5.8 5.8M403.3 183.1l5.8 -5.8M452.3 140.1h6.2M455.4 137v6.2M452.5 137.2l5.8 5.8M452.5 143l5.8 -5.8M233 321.8h6.2M236.1 318.7v6.2M233.2 318.9l5.8 5.8M233.2 324.7l5.8 -5.8M504.3 100.3h6.2M507.4 97.2v6.2M504.5 97.4l5.8 5.8M504.5 103.2l5.8 -5.8M194.8 344.3h6.2M197.9 341.2v6.2M195 341.4l5.8 5.8M195 347.2l5.8 -5.8M348.4 221.8h6.2M351.5 218.7v6.2M348.6 218.9l5.8 5.8M348.6 224.7l5.8 -5.8M250.7 305h6.2M253.8 301.9v6.2M250.9 302.1l5.8 5.8M250.9 307.9l5.8 -5.8M249.4 310.6h6.2M252.5 307.5v6.2M249.6 307.7l5.8 5.8M249.6 313.5l5.8 -5.8M311.8 246.6h6.2M314.9 243.5v6.2M312 243.7l5.8 5.8M312 249.5l5.8 -5.8M344.4 224.5h6.2M347.5 221.4v6.2M344.6 221.6l5.8 5.8M344.6 227.4l5.8 -5.8M294.9 265.4h6.2M298 262.3v6.2M295.1 262.5l5.8 5.8M295.1 268.3l5.8 -5.8M379.4 200.7h6.2M382.5 197.6v6.2M379.6 197.8l5.8 5.8M379.6 203.6l5.8 -5.8M467.5 129.1h6.2M470.6 126v6.2M467.7 126.2l5.8 5.8M467.7 132l5.8 -5.8M239 310.3h6.2M242.1 307.2v6.2M239.2 307.4l5.8 5.8M239.2 313.2l5.8 -5.8M244 312.5h6.2M247.1 309.4v6.2M244.2 309.6l5.8 5.8M244.2 315.4l5.8 -5.8M344.5 223.3h6.2M347.6 220.2v6.2M344.7 220.4l5.8 5.8M344.7 226.2l5.8 -5.8M289.7 270.3h6.2M292.8 267.2v6.2M289.9 267.4l5.8 5.8M289.9 273.2l5.8 -5.8M263.2 290.3h6.2M266.3 287.2v6.2M263.4 287.4l5.8 5.8M263.4 293.2l5.8 -5.8M311.1 256.4h6.2M314.2 253.3v6.2M311.3 253.5l5.8 5.8M311.3 259.3l5.8 -5.8M374.1 204.8h6.2M377.2 201.7v6.2M374.3 201.9l5.8 5.8M374.3 207.7l5.8 -5.8M450 143.5h6.2M453.1 140.4v6.2M450.2 140.6l5.8 5.8M450.2 146.4l5.8 -5.8M459.4 133.9h6.2M462.5 130.8v6.2M459.6 131l5.8 5.8M459.6 136.8l5.8 -5.8M417 169h6.2M420.1 165.9v6.2M417.2 166.1l5.8 5.8M417.2 171.9l5.8 -5.8M271 287.1h6.2M274.1 284v6.2M271.2 284.2l5.8 5.8M271.2 290l5.8 -5.8M444.9 145.5h6.2M448 142.4v6.2M445.1 142.6l5.8 5.8M445.1 148.4l5.8 -5.8M381.8 196.3h6.2M384.9 193.2v6.2M382 193.4l5.8 5.8M382 199.2l5.8 -5.8M236 306.3h6.2M239.1 303.2v6.2M236.2 303.4l5.8 5.8M236.2 309.2l5.8 -5.8M470.9 125.6h6.2M474 122.5v6.2M471.1 122.7l5.8 5.8M471.1 128.5l5.8 -5.8M252.5 305.7h6.2M255.6 302.6v6.2M252.7 302.8l5.8 5.8M252.7 308.6l5.8 -5.8M369.8 206.5h6.2M372.9 203.4v6.2M370 203.6l5.8 5.8M370 209.4l5.8 -5.8M371.8 201.9h6.2M374.9 198.8v6.2M372 199l5.8 5.8M372 204.8l5.8 -5.8M452 141.5h6.2M455.1 138.4v6.2M452.2 138.6l5.8 5.8M452.2 144.4l5.8 -5.8M366.2 209.2h6.2M369.3 206.1v6.2M366.4 206.3l5.8 5.8M366.4 212.1l5.8 -5.8M487 112.9h6.2M490.1 109.8v6.2M487.2 110l5.8 5.8M487.2 115.8l5.8 -5.8M217.3 327h6.2M220.4 323.9v6.2M217.5 324.1l5.8 5.8M217.5 329.9l5.8 -5.8M215.3 329.3h6.2M218.4 326.2v6.2M215.5 326.4l5.8 5.8M215.5 332.2l5.8 -5.8M240.2 314.8h6.2M243.3 311.7v6.2M240.4 311.9l5.8 5.8M240.4 317.7l5.8 -5.8M335.3 234.6h6.2M338.4 231.5v6.2M335.5 231.7l5.8 5.8M335.5 237.5l5.8 -5.8M297.2 261.7h6.2M300.3 258.6v6.2M297.4 258.8l5.8 5.8M297.4 264.6l5.8 -5.8M222.9 318.9h6.2M226 315.8v6.2M223.1 316l5.8 5.8M223.1 321.8l5.8 -5.8M240.7 305.4h6.2M243.8 302.3v6.2M240.9 302.5l5.8 5.8M240.9 308.3l5.8 -5.8M337.6 230.4h6.2M340.7 227.3v6.2M337.8 227.5l5.8 5.8M337.8 233.3l5.8 -5.8M286.7 274.4h6.2M289.8 271.3v6.2M286.9 271.5l5.8 5.8M286.9 277.3l5.8 -5.8M398.7 183.9h6.2M401.8 180.8v6.2M398.9 181l5.8 5.8M398.9 186.8l5.8 -5.8M303 257.2h6.2M306.1 254.1v6.2M303.2 254.3l5.8 5.8M303.2 260.1l5.8 -5.8M439.3 152.8h6.2M442.4 149.7v6.2M439.5 149.9l5.8 5.8M439.5 155.7l5.8 -5.8M397.8 184h6.2M400.9 180.9v6.2M398 181.1l5.8 5.8M398 186.9l5.8 -5.8M313.4 256.8h6.2M316.5 253.7v6.2M313.6 253.9l5.8 5.8M313.6 259.7l5.8 -5.8M272.4 286.3h6.2M275.5 283.2v6.2M272.6 283.4l5.8 5.8M272.6 289.2l5.8 -5.8M239.7 314.7h6.2M242.8 311.6v6.2M239.9 311.8l5.8 5.8M239.9 317.6l5.8 -5.8M261.2 299.4h6.2M264.3 296.3v6.2M261.4 296.5l5.8 5.8M261.4 302.3l5.8 -5.8M273.8 281.2h6.2M276.9 278.1v6.2M274 278.3l5.8 5.8M274 284.1l5.8 -5.8M279.4 282h6.2M282.5 278.9v6.2M279.6 279.1l5.8 5.8M279.6 284.9l5.8 -5.8M236.2 315.7h6.2M239.3 312.6v6.2M236.4 312.8l5.8 5.8M236.4 318.6l5.8 -5.8M303.3 260.6h6.2M306.4 257.5v6.2M303.5 257.7l5.8 5.8M303.5 263.5l5.8 -5.8M226.5 325.4h6.2M229.6 322.3v6.2M226.7 322.5l5.8 5.8M226.7 328.3l5.8 -5.8M433.3 152.6h6.2M436.4 149.5v6.2M433.5 149.7l5.8 5.8M433.5 155.5l5.8 -5.8M325.9 242.9h6.2M329 239.8v6.2M326.1 240l5.8 5.8M326.1 245.8l5.8 -5.8M226.7 320.4h6.2M229.8 317.3v6.2M226.9 317.5l5.8 5.8M226.9 323.3l5.8 -5.8M267.4 294.6h6.2M270.5 291.5v6.2M267.6 291.7l5.8 5.8M267.6 297.5l5.8 -5.8M249.6 305.4h6.2M252.7 302.3v6.2M249.8 302.5l5.8 5.8M249.8 308.3l5.8 -5.8M234.2 317.1h6.2M237.3 314v6.2M234.4 314.2l5.8 5.8M234.4 320l5.8 -5.8M308.5 256.5h6.2M311.6 253.4v6.2M308.7 253.6l5.8 5.8M308.7 259.4l5.8 -5.8M238.5 315h6.2M241.6 311.9v6.2M238.7 312.1l5.8 5.8M238.7 317.9l5.8 -5.8M230.6 317.6h6.2M233.7 314.5v6.2M230.8 314.7l5.8 5.8M230.8 320.5l5.8 -5.8M374.6 199.5h6.2M377.7 196.4v6.2M374.8 196.6l5.8 5.8M374.8 202.4l5.8 -5.8M297.3 265.1h6.2M300.4 262v6.2M297.5 262.2l5.8 5.8M297.5 268l5.8 -5.8M365 210.5h6.2M368.1 207.4v6.2M365.2 207.6l5.8 5.8M365.2 213.4l5.8 -5.8M302.3 261.8h6.2M305.4 258.7v6.2M302.5 258.9l5.8 5.8M302.5 264.7l5.8 -5.8M313.3 244.9h6.2M316.4 241.8v6.2M313.5 242l5.8 5.8M313.5 247.8l5.8 -5.8M263 284.8h6.2M266.1 281.7v6.2M263.2 281.9l5.8 5.8M263.2 287.7l5.8 -5.8M293.9 265.5h6.2M297 262.4v6.2M294.1 262.6l5.8 5.8M294.1 268.4l5.8 -5.8M309.2 253.1h6.2M312.3 250v6.2M309.4 250.2l5.8 5.8M309.4 256l5.8 -5.8M273.4 286.9h6.2M276.5 283.8v6.2M273.6 284l5.8 5.8M273.6 289.8l5.8 -5.8M419.4 166.9h6.2M422.5 163.8v6.2M419.6 164l5.8 5.8M419.6 169.8l5.8 -5.8M250.7 301.1h6.2M253.8 298v6.2M250.9 298.2l5.8 5.8M250.9 304l5.8 -5.8M245.8 305.5h6.2M248.9 302.4v6.2M246 302.6l5.8 5.8M246 308.4l5.8 -5.8M274.5 286.6h6.2M277.6 283.5v6.2M274.7 283.7l5.8 5.8M274.7 289.5l5.8 -5.8M405.4 179.3h6.2M408.5 176.2v6.2M405.6 176.4l5.8 5.8M405.6 182.2l5.8 -5.8M428.5 158.2h6.2M431.6 155.1v6.2M428.7 155.3l5.8 5.8M428.7 161.1l5.8 -5.8M331.4 236.5h6.2M334.5 233.4v6.2M331.6 233.6l5.8 5.8M331.6 239.4l5.8 -5.8M275.3 291.1h6.2M278.4 288v6.2M275.5 288.2l5.8 5.8M275.5 294l5.8 -5.8M359.6 214.4h6.2M362.7 211.3v6.2M359.8 211.5l5.8 5.8M359.8 217.3l5.8 -5.8M422.9 161.3h6.2M426 158.2v6.2M423.1 158.4l5.8 5.8M423.1 164.2l5.8 -5.8M249.7 306.2h6.2M252.8 303.1v6.2M249.9 303.3l5.8 5.8M249.9 309.1l5.8 -5.8M368.2 207.2h6.2M371.3 204.1v6.2M368.4 204.3l5.8 5.8M368.4 210.1l5.8 -5.8M379.3 201.6h6.2M382.4 198.5v6.2M379.5 198.7l5.8 5.8M379.5 204.5l5.8 -5.8M283.9 272.3h6.2M287 269.2v6.2M284.1 269.4l5.8 5.8M284.1 275.2l5.8 -5.8M231.3 323.5h6.2M234.4 320.4v6.2M231.5 320.6l5.8 5.8M231.5 326.4l5.8 -5.8M342.4 231.1h6.2M345.5 228v6.2M342.6 228.2l5.8 5.8M342.6 234l5.8 -5.8M239.6 312.7h6.2M242.7 309.6v6.2M239.8 309.8l5.8 5.8M239.8 315.6l5.8 -5.8M277.2 271.2h6.2M280.3 268.1v6.2M277.4 268.3l5.8 5.8M277.4 274.1l5.8 -5.8M324.6 244.2h6.2M327.7 241.1v6.2M324.8 241.3l5.8 5.8M324.8 247.1l5.8 -5.8M476.7 123h6.2M479.8 119.9v6.2M476.9 120.1l5.8 5.8M476.9 125.9l5.8 -5.8M233.2 313.9h6.2M236.3 310.8v6.2M233.4 311l5.8 5.8M233.4 316.8l5.8 -5.8M223.9 322.5h6.2M227 319.4v6.2M224.1 319.6l5.8 5.8M224.1 325.4l5.8 -5.8M322.8 240.1h6.2M325.9 237v6.2M323 237.2l5.8 5.8M323 243l5.8 -5.8M465.2 132.2h6.2M468.3 129.1v6.2M465.4 129.3l5.8 5.8M465.4 135.1l5.8 -5.8M220.9 334h6.2M224 330.9v6.2M221.1 331.1l5.8 5.8M221.1 336.9l5.8 -5.8M359 215.7h6.2M362.1 212.6v6.2M359.2 212.8l5.8 5.8M359.2 218.6l5.8 -5.8M205.4 336.8h6.2M208.5 333.7v6.2M205.6 333.9l5.8 5.8M205.6 339.7l5.8 -5.8M325.7 241h6.2M328.8 237.9v6.2M325.9 238.1l5.8 5.8M325.9 243.9l5.8 -5.8M226.5 316.1h6.2M229.6 313v6.2M226.7 313.2l5.8 5.8M226.7 319l5.8 -5.8M361.7 215.9h6.2M364.8 212.8v6.2M361.9 213l5.8 5.8M361.9 218.8l5.8 -5.8M276.7 284.6h6.2M279.8 281.5v6.2M276.9 281.7l5.8 5.8M276.9 287.5l5.8 -5.8M360.6 214h6.2M363.7 210.9v6.2M360.8 211.1l5.8 5.8M360.8 216.9l5.8 -5.8M252.4 296.6h6.2M255.5 293.5v6.2M252.6 293.7l5.8 5.8M252.6 299.5l5.8 -5.8M222.5 322.4h6.2M225.6 319.3v6.2M222.7 319.5l5.8 5.8M222.7 325.3l5.8 -5.8M237.2 315.1h6.2M240.3 312v6.2M237.4 312.2l5.8 5.8M237.4 318l5.8 -5.8M253 305.3h6.2M256.1 302.2v6.2M253.2 302.4l5.8 5.8M253.2 308.2l5.8 -5.8M237.3 308.4h6.2M240.4 305.3v6.2M237.5 305.5l5.8 5.8M237.5 311.3l5.8 -5.8M242.2 304.1h6.2M245.3 301v6.2M242.4 301.2l5.8 5.8M242.4 307l5.8 -5.8M324.8 236h6.2M327.9 232.9v6.2M325 233.1l5.8 5.8M325 238.9l5.8 -5.8M297.4 265.1h6.2M300.5 262v6.2M297.6 262.2l5.8 5.8M297.6 268l5.8 -5.8M419.3 163.5h6.2M422.4 160.4v6.2M419.5 160.6l5.8 5.8M419.5 166.4l5.8 -5.8M312.2 256h6.2M315.3 252.9v6.2M312.4 253.1l5.8 5.8M312.4 258.9l5.8 -5.8M323.3 245.1h6.2M326.4 242v6.2M323.5 242.2l5.8 5.8M323.5 248l5.8 -5.8M379.7 199.8h6.2M382.8 196.7v6.2M379.9 196.9l5.8 5.8M379.9 202.7l5.8 -5.8M431.4 157.8h6.2M434.5 154.7v6.2M431.6 154.9l5.8 5.8M431.6 160.7l5.8 -5.8M338.9 233.1h6.2M342 230v6.2M339.1 230.2l5.8 5.8M339.1 236l5.8 -5.8M213.8 334.4h6.2M216.9 331.3v6.2M214 331.5l5.8 5.8M214 337.3l5.8 -5.8M305.1 258.5h6.2M308.2 255.4v6.2M305.3 255.6l5.8 5.8M305.3 261.4l5.8 -5.8M211.8 335.5h6.2M214.9 332.4v6.2M212 332.6l5.8 5.8M212 338.4l5.8 -5.8M346.3 223.9h6.2M349.4 220.8v6.2M346.5 221l5.8 5.8M346.5 226.8l5.8 -5.8M222.7 325.1h6.2M225.8 322v6.2M222.9 322.2l5.8 5.8M222.9 328l5.8 -5.8M322.3 244.5h6.2M325.4 241.4v6.2M322.5 241.6l5.8 5.8M322.5 247.4l5.8 -5.8M232.2 309.5h6.2M235.3 306.4v6.2M232.4 306.6l5.8 5.8M232.4 312.4l5.8 -5.8M430.5 157h6.2M433.6 153.9v6.2M430.7 154.1l5.8 5.8M430.7 159.9l5.8 -5.8M226.9 320.5h6.2M230 317.4v6.2M227.1 317.6l5.8 5.8M227.1 323.4l5.8 -5.8M364 211.1h6.2M367.1 208v6.2M364.2 208.2l5.8 5.8M364.2 214l5.8 -5.8M376.9 200.6h6.2M380 197.5v6.2M377.1 197.7l5.8 5.8M377.1 203.5l5.8 -5.8M253.5 297h6.2M256.6 293.9v6.2M253.7 294.1l5.8 5.8M253.7 299.9l5.8 -5.8M339.3 232.7h6.2M342.4 229.6v6.2M339.5 229.8l5.8 5.8M339.5 235.6l5.8 -5.8M267.7 283.4h6.2M270.8 280.3v6.2M267.9 280.5l5.8 5.8M267.9 286.3l5.8 -5.8M252.4 293h6.2M255.5 289.9v6.2M252.6 290.1l5.8 5.8M252.6 295.9l5.8 -5.8M250.3 296.7h6.2M253.4 293.6v6.2M250.5 293.8l5.8 5.8M250.5 299.6l5.8 -5.8M201.7 343.6h6.2M204.8 340.5v6.2M201.9 340.7l5.8 5.8M201.9 346.5l5.8 -5.8M368.9 210.2h6.2M372 207.1v6.2M369.1 207.3l5.8 5.8M369.1 213.1l5.8 -5.8M223.2 326.5h6.2M226.3 323.4v6.2M223.4 323.6l5.8 5.8M223.4 329.4l5.8 -5.8M243.5 307.1h6.2M246.6 304v6.2M243.7 304.2l5.8 5.8M243.7 310l5.8 -5.8M227.2 316.8h6.2M230.3 313.7v6.2M227.4 313.9l5.8 5.8M227.4 319.7l5.8 -5.8M409.6 174.8h6.2M412.7 171.7v6.2M409.8 171.9l5.8 5.8M409.8 177.7l5.8 -5.8M320.4 246.8h6.2M323.5 243.7v6.2M320.6 243.9l5.8 5.8M320.6 249.7l5.8 -5.8M305.1 253.8h6.2M308.2 250.7v6.2M305.3 250.9l5.8 5.8M305.3 256.7l5.8 -5.8M335.1 235.8h6.2M338.2 232.7v6.2M335.3 232.9l5.8 5.8M335.3 238.7l5.8 -5.8M413.3 169.4h6.2M416.4 166.3v6.2M413.5 166.5l5.8 5.8M413.5 172.3l5.8 -5.8M349.2 221h6.2M352.3 217.9v6.2M349.4 218.1l5.8 5.8M349.4 223.9l5.8 -5.8M318.5 251h6.2M321.6 247.9v6.2M318.7 248.1l5.8 5.8M318.7 253.9l5.8 -5.8M263.3 290.7h6.2M266.4 287.6v6.2M263.5 287.8l5.8 5.8M263.5 293.6l5.8 -5.8M318.1 249.4h6.2M321.2 246.3v6.2M318.3 246.5l5.8 5.8M318.3 252.3l5.8 -5.8M493.4 109h6.2M496.5 105.9v6.2M493.6 106.1l5.8 5.8M493.6 111.9l5.8 -5.8M335.1 238.4h6.2M338.2 235.3v6.2M335.3 235.5l5.8 5.8M335.3 241.3l5.8 -5.8M308.7 260h6.2M311.8 256.9v6.2M308.9 257.1l5.8 5.8M308.9 262.9l5.8 -5.8M444.7 145.4h6.2M447.8 142.3v6.2M444.9 142.5l5.8 5.8M444.9 148.3l5.8 -5.8M221.1 327.9h6.2M224.2 324.8v6.2M221.3 325l5.8 5.8M221.3 330.8l5.8 -5.8M222.9 323.1h6.2M226 320v6.2M223.1 320.2l5.8 5.8M223.1 326l5.8 -5.8M405.4 179.9h6.2M408.5 176.8v6.2M405.6 177l5.8 5.8M405.6 182.8l5.8 -5.8M467.1 128.9h6.2M470.2 125.8v6.2M467.3 126l5.8 5.8M467.3 131.8l5.8 -5.8M218.9 329h6.2M222 325.9v6.2M219.1 326.1l5.8 5.8M219.1 331.9l5.8 -5.8M207.8 343.7h6.2M210.9 340.6v6.2M208 340.8l5.8 5.8M208 346.6l5.8 -5.8M197.9 351.5h6.2M201 348.4v6.2M198.1 348.6l5.8 5.8M198.1 354.4l5.8 -5.8M335 233.3h6.2M338.1 230.2v6.2M335.2 230.4l5.8 5.8M335.2 236.2l5.8 -5.8M234.1 314.7h6.2M237.2 311.6v6.2M234.3 311.8l5.8 5.8M234.3 317.6l5.8 -5.8M331.4 239.4h6.2M334.5 236.3v6.2M331.6 236.5l5.8 5.8M331.6 242.3l5.8 -5.8M363.5 211.7h6.2M366.6 208.6v6.2M363.7 208.8l5.8 5.8M363.7 214.6l5.8 -5.8M202.9 337.5h6.2M206 334.4v6.2M203.1 334.6l5.8 5.8M203.1 340.4l5.8 -5.8M434.6 150.8h6.2M437.7 147.7v6.2M434.8 147.9l5.8 5.8M434.8 153.7l5.8 -5.8M252.5 305.1h6.2M255.6 302v6.2M252.7 302.2l5.8 5.8M252.7 308l5.8 -5.8M330.7 236.4h6.2M333.8 233.3v6.2M330.9 233.5l5.8 5.8M330.9 239.3l5.8 -5.8M272.4 275.7h6.2M275.5 272.6v6.2M272.6 272.8l5.8 5.8M272.6 278.6l5.8 -5.8M273.5 283.5h6.2M276.6 280.4v6.2M273.7 280.6l5.8 5.8M273.7 286.4l5.8 -5.8M285.9 268.4h6.2M289 265.3v6.2M286.1 265.5l5.8 5.8M286.1 271.3l5.8 -5.8M184.2 364.9h6.2M187.3 361.8v6.2M184.4 362l5.8 5.8M184.4 367.8l5.8 -5.8M295.4 261.3h6.2M298.5 258.2v6.2M295.6 258.4l5.8 5.8M295.6 264.2l5.8 -5.8M251.6 301.5h6.2M254.7 298.4v6.2M251.8 298.6l5.8 5.8M251.8 304.4l5.8 -5.8M274.4 291h6.2M277.5 287.9v6.2M274.6 288.1l5.8 5.8M274.6 293.9l5.8 -5.8M237.4 308.8h6.2M240.5 305.7v6.2M237.6 305.9l5.8 5.8M237.6 311.7l5.8 -5.8M270.3 281.8h6.2M273.4 278.7v6.2M270.5 278.9l5.8 5.8M270.5 284.7l5.8 -5.8M377.2 198.1h6.2M380.3 195v6.2M377.4 195.2l5.8 5.8M377.4 201l5.8 -5.8M489.6 107.9h6.2M492.7 104.8v6.2M489.8 105l5.8 5.8M489.8 110.8l5.8 -5.8M239.4 311.4h6.2M242.5 308.3v6.2M239.6 308.5l5.8 5.8M239.6 314.3l5.8 -5.8M432 157.8h6.2M435.1 154.7v6.2M432.2 154.9l5.8 5.8M432.2 160.7l5.8 -5.8M349.7 223.5h6.2M352.8 220.4v6.2M349.9 220.6l5.8 5.8M349.9 226.4l5.8 -5.8M227.3 321.1h6.2M230.4 318v6.2M227.5 318.2l5.8 5.8M227.5 324l5.8 -5.8M202.9 338.7h6.2M206 335.6v6.2M203.1 335.8l5.8 5.8M203.1 341.6l5.8 -5.8M442.7 148.8h6.2M445.8 145.7v6.2M442.9 145.9l5.8 5.8M442.9 151.7l5.8 -5.8M247.1 304.8h6.2M250.2 301.7v6.2M247.3 301.9l5.8 5.8M247.3 307.7l5.8 -5.8M227 316.7h6.2M230.1 313.6v6.2M227.2 313.8l5.8 5.8M227.2 319.6l5.8 -5.8M363.1 211.1h6.2M366.2 208v6.2M363.3 208.2l5.8 5.8M363.3 214l5.8 -5.8M377.8 195.5h6.2M380.9 192.4v6.2M378 192.6l5.8 5.8M378 198.4l5.8 -5.8M449.3 138.4h6.2M452.4 135.3v6.2M449.5 135.5l5.8 5.8M449.5 141.3l5.8 -5.8M312.6 255.5h6.2M315.7 252.4v6.2M312.8 252.6l5.8 5.8M312.8 258.4l5.8 -5.8M263.9 294.2h6.2M267 291.1v6.2M264.1 291.3l5.8 5.8M264.1 297.1l5.8 -5.8M264.1 297.4h6.2M267.2 294.3v6.2M264.3 294.5l5.8 5.8M264.3 300.3l5.8 -5.8M240.8 316h6.2M243.9 312.9v6.2M241 313.1l5.8 5.8M241 318.9l5.8 -5.8M353.5 218.4h6.2M356.6 215.3v6.2M353.7 215.5l5.8 5.8M353.7 221.3l5.8 -5.8M467.7 129.7h6.2M470.8 126.6v6.2M467.9 126.8l5.8 5.8M467.9 132.6l5.8 -5.8M225.3 327.8h6.2M228.4 324.7v6.2M225.5 324.9l5.8 5.8M225.5 330.7l5.8 -5.8M281 278.8h6.2M284.1 275.7v6.2M281.2 275.9l5.8 5.8M281.2 281.7l5.8 -5.8M273.7 280.2h6.2M276.8 277.1v6.2M273.9 277.3l5.8 5.8M273.9 283.1l5.8 -5.8M225.6 324.1h6.2M228.7 321v6.2M225.8 321.2l5.8 5.8M225.8 327l5.8 -5.8M339.5 231.5h6.2M342.6 228.4v6.2M339.7 228.6l5.8 5.8M339.7 234.4l5.8 -5.8M489.5 108.4h6.2M492.6 105.3v6.2M489.7 105.5l5.8 5.8M489.7 111.3l5.8 -5.8M256.3 295.3h6.2M259.4 292.2v6.2M256.5 292.4l5.8 5.8M256.5 298.2l5.8 -5.8M386.7 192h6.2M389.8 188.9v6.2M386.9 189.1l5.8 5.8M386.9 194.9l5.8 -5.8M445.8 143.5h6.2M448.9 140.4v6.2M446 140.6l5.8 5.8M446 146.4l5.8 -5.8M256.9 302.1h6.2M260 299v6.2M257.1 299.2l5.8 5.8M257.1 305l5.8 -5.8M458.8 134.5h6.2M461.9 131.4v6.2M459 131.6l5.8 5.8M459 137.4l5.8 -5.8M392.7 189.2h6.2M395.8 186.1v6.2M392.9 186.3l5.8 5.8M392.9 192.1l5.8 -5.8M358.6 213.3h6.2M361.7 210.2v6.2M358.8 210.4l5.8 5.8M358.8 216.2l5.8 -5.8M239.7 306.8h6.2M242.8 303.7v6.2M239.9 303.9l5.8 5.8M239.9 309.7l5.8 -5.8M255.4 303.4h6.2M258.5 300.3v6.2M255.6 300.5l5.8 5.8M255.6 306.3l5.8 -5.8M229 312.7h6.2M232.1 309.6v6.2M229.2 309.8l5.8 5.8M229.2 315.6l5.8 -5.8M448.8 145.2h6.2M451.9 142.1v6.2M449 142.3l5.8 5.8M449 148.1l5.8 -5.8M417.9 165.5h6.2M421 162.4v6.2M418.1 162.6l5.8 5.8M418.1 168.4l5.8 -5.8M227.2 320h6.2M230.3 316.9v6.2M227.4 317.1l5.8 5.8M227.4 322.9l5.8 -5.8M320.5 248.2h6.2M323.6 245.1v6.2M320.7 245.3l5.8 5.8M320.7 251.1l5.8 -5.8M243 314.1h6.2M246.1 311v6.2M243.2 311.2l5.8 5.8M243.2 317l5.8 -5.8M396.2 185.7h6.2M399.3 182.6v6.2M396.4 182.8l5.8 5.8M396.4 188.6l5.8 -5.8M334.4 234.9h6.2M337.5 231.8v6.2M334.6 232l5.8 5.8M334.6 237.8l5.8 -5.8M464.4 131.8h6.2M467.5 128.7v6.2M464.6 128.9l5.8 5.8M464.6 134.7l5.8 -5.8M386.2 192.2h6.2M389.3 189.1v6.2M386.4 189.3l5.8 5.8M386.4 195.1l5.8 -5.8M227.8 327.7h6.2M230.9 324.6v6.2M228 324.8l5.8 5.8M228 330.6l5.8 -5.8M278.9 279.5h6.2M282 276.4v6.2M279.1 276.6l5.8 5.8M279.1 282.4l5.8 -5.8M336.4 233.2h6.2M339.5 230.1v6.2M336.6 230.3l5.8 5.8M336.6 236.1l5.8 -5.8M453.7 142.7h6.2M456.8 139.6v6.2M453.9 139.8l5.8 5.8M453.9 145.6l5.8 -5.8M278.7 278.4h6.2M281.8 275.3v6.2M278.9 275.5l5.8 5.8M278.9 281.3l5.8 -5.8M238.8 318.2h6.2M241.9 315.1v6.2M239 315.3l5.8 5.8M239 321.1l5.8 -5.8M254 311.8h6.2M257.1 308.7v6.2M254.2 308.9l5.8 5.8M254.2 314.7l5.8 -5.8M249.9 305.9h6.2M253 302.8v6.2M250.1 303l5.8 5.8M250.1 308.8l5.8 -5.8M233.2 317.4h6.2M236.3 314.3v6.2M233.4 314.5l5.8 5.8M233.4 320.3l5.8 -5.8M273.3 280.1h6.2M276.4 277v6.2M273.5 277.2l5.8 5.8M273.5 283l5.8 -5.8M251.7 303.7h6.2M254.8 300.6v6.2M251.9 300.8l5.8 5.8M251.9 306.6l5.8 -5.8M319.1 243.3h6.2M322.2 240.2v6.2M319.3 240.4l5.8 5.8M319.3 246.2l5.8 -5.8M446.8 141.8h6.2M449.9 138.7v6.2M447 138.9l5.8 5.8M447 144.7l5.8 -5.8M468.4 125.1h6.2M471.5 122v6.2M468.6 122.2l5.8 5.8M468.6 128l5.8 -5.8M233.7 309h6.2M236.8 305.9v6.2M233.9 306.1l5.8 5.8M233.9 311.9l5.8 -5.8M336.5 232.4h6.2M339.6 229.3v6.2M336.7 229.5l5.8 5.8M336.7 235.3l5.8 -5.8M366 210.6h6.2M369.1 207.5v6.2M366.2 207.7l5.8 5.8M366.2 213.5l5.8 -5.8M230.6 315h6.2M233.7 311.9v6.2M230.8 312.1l5.8 5.8M230.8 317.9l5.8 -5.8M320.1 243.9h6.2M323.2 240.8v6.2M320.3 241l5.8 5.8M320.3 246.8l5.8 -5.8M240.4 309.2h6.2M243.5 306.1v6.2M240.6 306.3l5.8 5.8M240.6 312.1l5.8 -5.8M276.4 282.5h6.2M279.5 279.4v6.2M276.6 279.6l5.8 5.8M276.6 285.4l5.8 -5.8M267.1 296h6.2M270.2 292.9v6.2M267.3 293.1l5.8 5.8M267.3 298.9l5.8 -5.8M414.3 169.4h6.2M417.4 166.3v6.2M414.5 166.5l5.8 5.8M414.5 172.3l5.8 -5.8M244.5 305.3h6.2M247.6 302.2v6.2M244.7 302.4l5.8 5.8M244.7 308.2l5.8 -5.8M321.5 248.5h6.2M324.6 245.4v6.2M321.7 245.6l5.8 5.8M321.7 251.4l5.8 -5.8M338.3 231.5h6.2M341.4 228.4v6.2M338.5 228.6l5.8 5.8M338.5 234.4l5.8 -5.8M267.1 285.7h6.2M270.2 282.6v6.2M267.3 282.8l5.8 5.8M267.3 288.6l5.8 -5.8M460.8 133.5h6.2M463.9 130.4v6.2M461 130.6l5.8 5.8M461 136.4l5.8 -5.8M270 283.2h6.2M273.1 280.1v6.2M270.2 280.3l5.8 5.8M270.2 286.1l5.8 -5.8M270.1 283.2h6.2M273.2 280.1v6.2M270.3 280.3l5.8 5.8M270.3 286.1l5.8 -5.8M371.1 208.3h6.2M374.2 205.2v6.2M371.3 205.4l5.8 5.8M371.3 211.2l5.8 -5.8M307.1 257.7h6.2M310.2 254.6v6.2M307.3 254.8l5.8 5.8M307.3 260.6l5.8 -5.8M383.9 194.1h6.2M387 191v6.2M384.1 191.2l5.8 5.8M384.1 197l5.8 -5.8M233.4 311.3h6.2M236.5 308.2v6.2M233.6 308.4l5.8 5.8M233.6 314.2l5.8 -5.8M232.2 309.7h6.2M235.3 306.6v6.2M232.4 306.8l5.8 5.8M232.4 312.6l5.8 -5.8M389.7 194.1h6.2M392.8 191v6.2M389.9 191.2l5.8 5.8M389.9 197l5.8 -5.8M282.9 276.5h6.2M286 273.4v6.2M283.1 273.6l5.8 5.8M283.1 279.4l5.8 -5.8M430.4 156.3h6.2M433.5 153.2v6.2M430.6 153.4l5.8 5.8M430.6 159.2l5.8 -5.8M247.6 298.4h6.2M250.7 295.3v6.2M247.8 295.5l5.8 5.8M247.8 301.3l5.8 -5.8M248.6 295.3h6.2M251.7 292.2v6.2M248.8 292.4l5.8 5.8M248.8 298.2l5.8 -5.8M433.3 157.2h6.2M436.4 154.1v6.2M433.5 154.3l5.8 5.8M433.5 160.1l5.8 -5.8M275.3 283.9h6.2M278.4 280.8v6.2M275.5 281l5.8 5.8M275.5 286.8l5.8 -5.8M228.2 325.6h6.2M231.3 322.5v6.2M228.4 322.7l5.8 5.8M228.4 328.5l5.8 -5.8M246.5 301.3h6.2M249.6 298.2v6.2M246.7 298.4l5.8 5.8M246.7 304.2l5.8 -5.8M401.7 183.3h6.2M404.8 180.2v6.2M401.9 180.4l5.8 5.8M401.9 186.2l5.8 -5.8M253 294.4h6.2M256.1 291.3v6.2M253.2 291.5l5.8 5.8M253.2 297.3l5.8 -5.8M331 235.4h6.2M334.1 232.3v6.2M331.2 232.5l5.8 5.8M331.2 238.3l5.8 -5.8M423.8 162.1h6.2M426.9 159v6.2M424 159.2l5.8 5.8M424 165l5.8 -5.8M343.2 232.4h6.2M346.3 229.3v6.2M343.4 229.5l5.8 5.8M343.4 235.3l5.8 -5.8M393.4 188.8h6.2M396.5 185.7v6.2M393.6 185.9l5.8 5.8M393.6 191.7l5.8 -5.8M485.5 112h6.2M488.6 108.9v6.2M485.7 109.1l5.8 5.8M485.7 114.9l5.8 -5.8M258.8 302.4h6.2M261.9 299.3v6.2M259 299.5l5.8 5.8M259 305.3l5.8 -5.8M439.6 150.8h6.2M442.7 147.7v6.2M439.8 147.9l5.8 5.8M439.8 153.7l5.8 -5.8M326.1 241.8h6.2M329.2 238.7v6.2M326.3 238.9l5.8 5.8M326.3 244.7l5.8 -5.8M241.1 305.3h6.2M244.2 302.2v6.2M241.3 302.4l5.8 5.8M241.3 308.2l5.8 -5.8M231 316.5h6.2M234.1 313.4v6.2M231.2 313.6l5.8 5.8M231.2 319.4l5.8 -5.8M267 287.8h6.2M270.1 284.7v6.2M267.2 284.9l5.8 5.8M267.2 290.7l5.8 -5.8M233.8 318h6.2M236.9 314.9v6.2M234 315.1l5.8 5.8M234 320.9l5.8 -5.8M402.5 180.1h6.2M405.6 177v6.2M402.7 177.2l5.8 5.8M402.7 183l5.8 -5.8M330.2 238.5h6.2M333.3 235.4v6.2M330.4 235.6l5.8 5.8M330.4 241.4l5.8 -5.8M216.8 325.8h6.2M219.9 322.7v6.2M217 322.9l5.8 5.8M217 328.7l5.8 -5.8M440.4 150.1h6.2M443.5 147v6.2M440.6 147.2l5.8 5.8M440.6 153l5.8 -5.8M343.5 225.3h6.2M346.6 222.2v6.2M343.7 222.4l5.8 5.8M343.7 228.2l5.8 -5.8M299.5 268.3h6.2M302.6 265.2v6.2M299.7 265.4l5.8 5.8M299.7 271.2l5.8 -5.8M232.9 310.2h6.2M236 307.1v6.2M233.1 307.3l5.8 5.8M233.1 313.1l5.8 -5.8M302.8 260.8h6.2M305.9 257.7v6.2M303 257.9l5.8 5.8M303 263.7l5.8 -5.8M451.8 138.3h6.2M454.9 135.2v6.2M452 135.4l5.8 5.8M452 141.2l5.8 -5.8M339.1 230.8h6.2M342.2 227.7v6.2M339.3 227.9l5.8 5.8M339.3 233.7l5.8 -5.8M305.7 255.4h6.2M308.8 252.3v6.2M305.9 252.5l5.8 5.8M305.9 258.3l5.8 -5.8M342.8 224.9h6.2M345.9 221.8v6.2M343 222l5.8 5.8M343 227.8l5.8 -5.8M328.9 240.6h6.2M332 237.5v6.2M329.1 237.7l5.8 5.8M329.1 243.5l5.8 -5.8M347.9 223.8h6.2M351 220.7v6.2M348.1 220.9l5.8 5.8M348.1 226.7l5.8 -5.8M514.8 90.2h6.2M517.9 87.1v6.2M515 87.3l5.8 5.8M515 93.1l5.8 -5.8M518.1 86.9h6.2M521.2 83.8v6.2M518.3 84l5.8 5.8M518.3 89.8l5.8 -5.8M494 109.8h6.2M497.1 106.7v6.2M494.2 106.9l5.8 5.8M494.2 112.7l5.8 -5.8M517.3 88.3h6.2M520.4 85.2v6.2M517.5 85.4l5.8 5.8M517.5 91.2l5.8 -5.8M510.1 94.2h6.2M513.2 91.1v6.2M510.3 91.3l5.8 5.8M510.3 97.1l5.8 -5.8M508.7 96.4h6.2M511.8 93.3v6.2M508.9 93.5l5.8 5.8M508.9 99.3l5.8 -5.8M497.3 104.4h6.2M500.4 101.3v6.2M497.5 101.5l5.8 5.8M497.5 107.3l5.8 -5.8M499.7 105h6.2M502.8 101.9v6.2M499.9 102.1l5.8 5.8M499.9 107.9l5.8 -5.8M496.7 101.8h6.2M499.8 98.7v6.2M496.9 98.9l5.8 5.8M496.9 104.7l5.8 -5.8M503.4 98.2h6.2M506.5 95.1v6.2M503.6 95.3l5.8 5.8M503.6 101.1l5.8 -5.8M510.2 90h6.2M513.3 86.9v6.2M510.4 87.1l5.8 5.8M510.4 92.9l5.8 -5.8M512.8 93.2h6.2M515.9 90.1v6.2M513 90.3l5.8 5.8M513 96.1l5.8 -5.8M187.5 357.3h6.2M190.6 354.2v6.2M187.7 354.4l5.8 5.8M187.7 360.2l5.8 -5.8M168.4 367.3h6.2M171.5 364.2v6.2M168.6 364.4l5.8 5.8M168.6 370.2l5.8 -5.8M167.9 373.7h6.2M171 370.6v6.2M168.1 370.8l5.8 5.8M168.1 376.6l5.8 -5.8M190.6 349.5h6.2M193.7 346.4v6.2M190.8 346.6l5.8 5.8M190.8 352.4l5.8 -5.8M201.7 344.6h6.2M204.8 341.5v6.2M201.9 341.7l5.8 5.8M201.9 347.5l5.8 -5.8M161.8 374.4h6.2M164.9 371.3v6.2M162 371.5l5.8 5.8M162 377.3l5.8 -5.8M171.9 364.5h6.2M175 361.4v6.2M172.1 361.6l5.8 5.8M172.1 367.4l5.8 -5.8M164.7 371h6.2M167.8 367.9v6.2M164.9 368.1l5.8 5.8M164.9 373.9l5.8 -5.8M201.8 333.2h6.2M204.9 330.1v6.2M202 330.3l5.8 5.8M202 336.1l5.8 -5.8M150.9 380.6h6.2M154 377.5v6.2M151.1 377.7l5.8 5.8M151.1 383.5l5.8 -5.8M197.4 350.4h6.2M200.5 347.3v6.2M197.6 347.5l5.8 5.8M197.6 353.3l5.8 -5.8M190.8 346.4h6.2M193.9 343.3v6.2M191 343.5l5.8 5.8M191 349.3l5.8 -5.8M167.6 372.9h6.2M170.7 369.8v6.2M167.8 370l5.8 5.8M167.8 375.8l5.8 -5.8M186.2 353.6h6.2M189.3 350.5v6.2M186.4 350.7l5.8 5.8M186.4 356.5l5.8 -5.8M169.7 371.1h6.2M172.8 368v6.2M169.9 368.2l5.8 5.8M169.9 374l5.8 -5.8M183.8 358.9h6.2M186.9 355.8v6.2M184 356l5.8 5.8M184 361.8l5.8 -5.8M172.6 360.6h6.2M175.7 357.5v6.2M172.8 357.7l5.8 5.8M172.8 363.5l5.8 -5.8M198.6 346.4h6.2M201.7 343.3v6.2M198.8 343.5l5.8 5.8M198.8 349.3l5.8 -5.8M174.3 365.6h6.2M177.4 362.5v6.2M174.5 362.7l5.8 5.8M174.5 368.5l5.8 -5.8M193.2 350.6h6.2M196.3 347.5v6.2M193.4 347.7l5.8 5.8M193.4 353.5l5.8 -5.8M180.6 359.5h6.2M183.7 356.4v6.2M180.8 356.6l5.8 5.8M180.8 362.4l5.8 -5.8M169.8 362.6h6.2M172.9 359.5v6.2M170 359.7l5.8 5.8M170 365.5l5.8 -5.8M201.4 347h6.2M204.5 343.9v6.2M201.6 344.1l5.8 5.8M201.6 349.9l5.8 -5.8M160.4 378.1h6.2M163.5 375v6.2M160.6 375.2l5.8 5.8M160.6 381l5.8 -5.8M198.2 341.8h6.2M201.3 338.7v6.2M198.4 338.9l5.8 5.8M198.4 344.7l5.8 -5.8M202.1 348.2h6.2M205.2 345.1v6.2M202.3 345.3l5.8 5.8M202.3 351.1l5.8 -5.8M195.1 348.3h6.2M198.2 345.2v6.2M195.3 345.4l5.8 5.8M195.3 351.2l5.8 -5.8M182.4 352.9h6.2M185.5 349.8v6.2M182.6 350l5.8 5.8M182.6 355.8l5.8 -5.8M183.1 356.4h6.2M186.2 353.3v6.2M183.3 353.5l5.8 5.8M183.3 359.3l5.8 -5.8M199.3 345.5h6.2M202.4 342.4v6.2M199.5 342.6l5.8 5.8M199.5 348.4l5.8 -5.8M228 297.3h6.2M231.1 294.2v6.2M228.2 294.4l5.8 5.8M228.2 300.2l5.8 -5.8M207.9 318.2h6.2M211 315.1v6.2M208.1 315.3l5.8 5.8M208.1 321.1l5.8 -5.8M210.7 316h6.2M213.8 312.9v6.2M210.9 313.1l5.8 5.8M210.9 318.9l5.8 -5.8M222.9 307.4h6.2M226 304.3v6.2M223.1 304.5l5.8 5.8M223.1 310.3l5.8 -5.8M187.6 336.9h6.2M190.7 333.8v6.2M187.8 334l5.8 5.8M187.8 339.8l5.8 -5.8M180.4 347h6.2M183.5 343.9v6.2M180.6 344.1l5.8 5.8M180.6 349.9l5.8 -5.8M171.8 355.6h6.2M174.9 352.5v6.2M172 352.7l5.8 5.8M172 358.5l5.8 -5.8M238.1 327.6h6.2M241.2 324.5v6.2M238.3 324.7l5.8 5.8M238.3 330.5l5.8 -5.8M251.1 318.2h6.2M254.2 315.1v6.2M251.3 315.3l5.8 5.8M251.3 321.1l5.8 -5.8M210.7 343.4h6.2M213.8 340.3v6.2M210.9 340.5l5.8 5.8M210.9 346.3l5.8 -5.8M214.9 312h6.2M218 308.9v6.2M215.1 309.1l5.8 5.8M215.1 314.9l5.8 -5.8M231.9 300h6.2M235 296.9v6.2M232.1 297.1l5.8 5.8M232.1 302.9l5.8 -5.8" stroke="#4DB8F5" stroke-width="1.5" fill="none"/>
<path d="M350.8 222.6h0M451.7 140.9h0M404.4 181.6h0M250.8 307.5h0M261.2 297.3h0M442.8 148.9h0M192.4 353.2h0M422.8 168.1h0M413.1 177.5h0M307.8 261.5h0M262.6 293.1h0M258 297.7h0M254.9 304h0M302.7 265.4h0M316.3 253.2h0M334.2 236.2h0M508.8 100.1h0M410 177h0M350.7 229.4h0M499.1 108h0M243.6 309.3h0M234.5 315.4h0M353.4 224.8h0M216 334.3h0M212 333.8h0M320.9 249.1h0M306.5 261h0M458.6 136.4h0M356.1 219.5h0M320.8 245.6h0M317.1 249.4h0M255.7 301.9h0M201.4 344.4h0M244.3 309.8h0M374.4 208.5h0M244.3 312.1h0M279.3 279.3h0M188.4 358.4h0M421.9 164.7h0M234.4 317h0M258.8 298.4h0M442.2 149.5h0M319.8 247.9h0M434.8 153.9h0M360.7 217.2h0M392.9 190.9h0M229.4 322.3h0M331.5 235.2h0M319 247.5h0M436.8 157.3h0M282.2 280.1h0M349.7 226.7h0M224 326h0M286.4 275.4h0M270.3 283.4h0M233.6 322.7h0M419.2 166.8h0M283 277.6h0M488.7 115.1h0M341 232.4h0M346.9 228.5h0M359.8 216.8h0M367.9 208h0M235.7 320.2h0M296.5 264.7h0M255.4 301.7h0M290.3 269.2h0M230.6 319.7h0M479.2 118.2h0M246 307h0M369.3 206.7h0M264.1 293.7h0M443.7 151.5h0M366.2 210.2h0M235 315.5h0M430.1 155.5h0M470.7 132.6h0M450.1 144.9h0M336.9 232.8h0M237.3 318.3h0M245.4 309.4h0M463 129h0M330.1 237.5h0M239.3 315.8h0M448.2 142.6h0M360.4 213.6h0M337.4 233.1h0M278.4 281.4h0M293.2 269.8h0M255.8 302.5h0M216.5 333.2h0M441.6 149.5h0M309.5 257h0M327.6 238.4h0M270.6 289.4h0M398.4 191.6h0M207 340.5h0M282.4 278.4h0M214.8 332.5h0M229.6 321.3h0M478.1 123.9h0M365.9 208.5h0M299.3 267.1h0M324.4 243.6h0M441.3 152.2h0M274.8 288h0M342.3 227.6h0M373.1 212.1h0M277.8 284.8h0M322.5 245.8h0M400.8 184.8h0M456.1 137.8h0M235.6 316.9h0M463.2 134.9h0M190.2 348h0M399.1 185.9h0M418.7 170h0M236 318.9h0M295.9 270h0M418.5 168.2h0M201.2 342.9h0M354.9 220.8h0M411.5 177.1h0M322.2 245.5h0M389.5 197h0M251.2 304.9h0M245.6 309.2h0M282.6 280.9h0M239.2 313.4h0M276.1 285.7h0M467.4 132.4h0M336.9 231.1h0M271.2 286.3h0M259.1 295h0M474.4 124.7h0M300.7 262.1h0M488.6 111.6h0M319.7 246.2h0M319.9 243.4h0M452.2 143.2h0M394.3 188.6h0M339.8 233.1h0M297.7 275.1h0M441.6 154.5h0M295.4 268.5h0M459.1 135.6h0M228.1 324h0M299.7 262.5h0M320.7 245.3h0M470.5 129h0M253.1 299.2h0M416 167.6h0M370.7 207h0M382.8 200.7h0M356.8 215.8h0M482.6 118.6h0M271.7 288.5h0M287.7 274.5h0M246.8 308.9h0M224.3 323.1h0M242.6 309.2h0M457.2 135.7h0M428.5 160.3h0M229.5 323.4h0M349.1 225.8h0M311.5 253.5h0M344.2 230.4h0M367.1 204.1h0M267.2 291.8h0M471.1 128.8h0M308.8 255.1h0M357.5 216.9h0M358.5 218h0M239.1 314.3h0M223.5 325.3h0M295.6 266.4h0M400.8 182.1h0M419 170h0M387.3 193.8h0M229 319.9h0M454 139.4h0M414.2 180.5h0M440 154.5h0M322 249h0M454.9 141h0M222.5 326.7h0M212.3 333.1h0M203.7 340.8h0M254.7 301.5h0M253.5 302.2h0M240.6 308.4h0M333.9 239.1h0M218 330h0M345 225h0M239.1 313h0M370.2 213.3h0M205.1 340.2h0M265.2 293.8h0M466.3 131.6h0M325.3 242.1h0M418.2 168.8h0M366.8 211.9h0M353.6 219.7h0M245.2 307.8h0M340.6 232h0M215.9 331.7h0M415 171.9h0M474.2 125.7h0M434.7 157.8h0M222.9 326.8h0M272 289.6h0M266.5 294.7h0M231.5 316.8h0M356.9 219.7h0M416.7 171.2h0M268.5 290.5h0M438.4 153.7h0M416.8 171h0M233.7 318h0M402.7 184.3h0M446.1 145.3h0M245.8 310.1h0M337.8 232.1h0M361 220.4h0M349.2 227.9h0M229.1 319.5h0M364.7 213.3h0M356.6 221h0M425.4 163.2h0M413.9 175.9h0M273 286.4h0M386.9 200.3h0M436.4 156.4h0M446.5 148.7h0M236.4 314.7h0M210.5 334.7h0M362.8 216.4h0M243.5 306.4h0M335.4 237.9h0M469.3 133.8h0M284.5 283h0M254.8 297.5h0M304.7 261.3h0M365.5 213.8h0M233.1 320.4h0M283.3 280.9h0M234.2 314.6h0M366.8 211.4h0M423 161.9h0M285.3 277.1h0M280.5 286.1h0M323.7 243.8h0M245.8 309.3h0M254.7 301.8h0M269.9 285.3h0M301.8 264h0M228.1 319.9h0M398.8 185.5h0M340.4 234.2h0M262.6 293.7h0M226.1 325.6h0M401.2 180.7h0M234.2 315.4h0M235.7 316.4h0M234.5 316.1h0M225.2 323.6h0M454.7 141.3h0M256.1 298h0M266.9 292h0M429.2 159.6h0M352.9 224.7h0M242.3 311h0M300.1 263.8h0M446.9 148.8h0M282.3 280.1h0M383.3 199.2h0M232.5 317.3h0M387.1 196.7h0M406.1 178.7h0M426 160.1h0M370.5 207.4h0M280.5 284.3h0M228 322.4h0M320 246.4h0M402.9 182.9h0M242.5 308.4h0M256.9 298h0M323.8 244.7h0M395.9 188.5h0M452.8 143.4h0M233.5 318.8h0M239.3 313.5h0M415.2 171.1h0M362 214h0M389.3 193.9h0M508.5 97.3h0M462.9 133.1h0M429.9 164.3h0M404.3 182.9h0M287.5 276.8h0M359.9 217.2h0M240.1 313.6h0M403.4 182.4h0M402.5 184.6h0M388.3 192.3h0M303 261.8h0M285.8 280.1h0M294.5 269.2h0M212.5 337.8h0M426.5 159.2h0M328.4 243.1h0M286.2 276.8h0M330.4 240.3h0M389.4 193.6h0M282.9 278.7h0M425.7 160.3h0M459.2 136.5h0M286.9 273.4h0M236.1 313.5h0M401.7 185.5h0M501.5 99h0M236.2 314.4h0M384.3 194.9h0M422.3 168.6h0M460.2 134.3h0M235 316h0M229.3 322.9h0M493.9 103.7h0M231.1 318.8h0M239.1 314.3h0M339.9 232.3h0M301.2 261.7h0M394.8 186h0M246.9 306.1h0M454.4 138h0M249.2 302.2h0M404.6 183.7h0M225.4 325.9h0M311.4 257.9h0M214.6 333.2h0M265 289.6h0M268.6 288.5h0M385.7 198.4h0M303.2 263h0M221.6 325.4h0M507.8 99.2h0M444.9 148.7h0M454.4 140.1h0M255.2 305.1h0M287.2 273.3h0M250.4 303.9h0M236.4 314.6h0M211.1 338.5h0M314.4 255.1h0M236.7 317.1h0M240.9 311.7h0M436.5 155.1h0M313.5 253.7h0M238.9 309.7h0M369.8 205.7h0M256.4 301.6h0M325.9 245.5h0M260.7 292.3h0M319.4 250h0M357.9 215.1h0M325.3 240.7h0M290.2 274h0M411.5 175.9h0M442.3 150.4h0M238.8 316h0M236.6 318.1h0M229.5 322.4h0M485.6 113.8h0M468.4 130.6h0M247.4 307.6h0M480.4 121.1h0M245.3 312h0M317.4 247.3h0M315.8 257.7h0M454.7 142.1h0M216.4 330.6h0M267.1 294.5h0M348.1 224.8h0M228.7 319.2h0M247.1 309.4h0M309.2 257h0M444 151.8h0M400.8 182.7h0M424.9 164.3h0M402.9 181.7h0M379.7 197.6h0M431.9 157.8h0M375.1 201.3h0M394.2 187.7h0M260.8 299.2h0M240.1 312.4h0M394.8 187.5h0M241.7 315.1h0M461 132.4h0M345.7 228h0M272.6 286h0M465.1 134.4h0M234 317.7h0M320.9 247.3h0M232 320.2h0M476.9 122.6h0M338.8 238.7h0M417 167.6h0M258.7 300.6h0M414.9 177.7h0M377.1 205.2h0M359.4 219.1h0M470.3 126.8h0M299.5 267.4h0M295.4 267.8h0M374.9 206.9h0M428.7 156.3h0M271.7 286.3h0M371.2 203.1h0M243.9 312.3h0M329.8 239.4h0M405.8 182.1h0M227.4 321.8h0M386.8 193.6h0M202.2 347.2h0M471.3 129.9h0M305.9 262.8h0M295.5 272h0M389 195.1h0M321.9 249.5h0M387.8 197.8h0M229.4 321.3h0M334.1 236.2h0M335.9 239.1h0M464.2 134.3h0M218.3 330.4h0M302.3 263.5h0M355.1 222.3h0M330.3 238.6h0M226.6 321.8h0M342.5 229.1h0M248 307.1h0M245.5 303.9h0M441 147.5h0M245 310h0M301.8 263.7h0M398.1 183.2h0M378.5 203.7h0M334.2 236.5h0M416.8 170.9h0M308.3 259.8h0M353.2 222.6h0M418.7 173.3h0M371.6 208.6h0M360.6 220.9h0M291.6 266.2h0M336 232.4h0M290.2 269.9h0M398.5 185.1h0M285.2 274.4h0M308.4 255.1h0M395.3 185.9h0M318.5 247.8h0M272.9 288.8h0M422.3 165.7h0M283.8 279.1h0M428.7 164.3h0M411.6 177.9h0M301.3 262.8h0M385.6 193.6h0M212.6 338.3h0M287.2 271h0M438.4 150.2h0M338.7 234.7h0M333.6 238.9h0M363.8 213.8h0M368.3 207.7h0M343.8 230.6h0M295.2 271.4h0M242 310.7h0M262 300.3h0M264.5 293h0M297.5 264.2h0M515.5 91.1h0M277.9 280.8h0M301.3 262.6h0M282.1 277.5h0M339.6 232.7h0M469.6 130.6h0M447.8 146.7h0M285.1 277h0M258.1 295.6h0M445.7 144h0M318 249.5h0M376.4 205.3h0M225.2 326.7h0M438.5 154.1h0M266 288.9h0M314.9 252.1h0M243.3 310.6h0M294.3 271.3h0M422.9 164.1h0M422.7 165.6h0M310.1 256.9h0M400.7 183.8h0M308.6 254h0M278.3 282.7h0M329.7 237h0M245.1 306h0M265 292.8h0M378.1 200h0M407.8 178.6h0M224.4 327.5h0M389.6 193.6h0M417.9 172.3h0M304.1 260.4h0M222 327.5h0M373.1 204.8h0M253.5 300.3h0M363 221.6h0M286.7 274.9h0M356.2 224h0M251.6 303.3h0M313.6 256h0M327.5 242.6h0M356.7 216.1h0M243.4 314.4h0M477.8 121.6h0M263.4 294.4h0M267 295.9h0M252.9 301.1h0M225.6 324.6h0M293 271.7h0M403.9 183.1h0M382.4 191.1h0M246.7 308.6h0M233.5 322.6h0M268.1 292.7h0M407.2 179.6h0M311.4 256.6h0M460.1 136.5h0M364.4 215.7h0M352.9 221.1h0M402.4 183.8h0M398 189.4h0M276 286.1h0M255.7 301.4h0M300 262.8h0M312.2 254h0M236.5 316.7h0M297.4 266.9h0M363.1 213.7h0M236.3 311.2h0M237.4 316.6h0M239.2 312.6h0M264.7 291.5h0M475.9 125.9h0M208.9 337.6h0M238.4 314h0M238.8 315.2h0M313 253.1h0M197.9 344.5h0M306.8 256.7h0M238.8 314.5h0M259.6 296.8h0M408.6 172.1h0M239.4 316.1h0M353.8 221.2h0M290.3 270.6h0M294.8 268.7h0M421.6 165.7h0M233.5 317.9h0M460.5 134.2h0M451.9 139.9h0M371.2 208.2h0M223.2 326.1h0M363.7 213.9h0M345.8 229h0M407.2 178.9h0M245.1 311.6h0M472.1 124.9h0M444.1 145.1h0M231.3 316h0M265.2 289.8h0M214.4 335.9h0M423.2 162.4h0M456.6 140.8h0M498.2 105.8h0M352.2 218.6h0M363.8 216.2h0M371.4 205.6h0M339 232.9h0M472 127.1h0M349.8 227h0M272.3 286.1h0M320.1 249.9h0M205.9 338h0M387.5 191.7h0M381 203h0M293 271.7h0M435 157.2h0M395 191.4h0M272.6 289.5h0M225.8 324.3h0M235.3 317.3h0M240.8 316.4h0M260.5 297.9h0M301.6 262.3h0M462.4 137.3h0M259.2 299.9h0M449.5 141.1h0M374.6 201.9h0M432.1 162.6h0M288.3 277.5h0M188.3 353.7h0M410.5 179h0M254.3 302.2h0M236.6 316.9h0M416.3 170.1h0M373.5 211.8h0M242.7 316.1h0M257.9 301.6h0M462.7 131.8h0M255.9 300.6h0M380.9 203.9h0M236.2 314.9h0M419 167.6h0M229.6 322h0M322 248h0M213.4 333.4h0M328.3 239.3h0M435 156.1h0M233.2 317.3h0M260 297.1h0M402.9 183.1h0M347.8 228.6h0M266.1 291.5h0M357.3 219.5h0M301.3 264.4h0M437.8 152h0M260.6 295.4h0M399.3 183.1h0M357.6 222.3h0M391.8 189.8h0M285.8 277.6h0M389.3 195.1h0M380.6 202.2h0M285.5 273.7h0M210.3 334.9h0M478.4 123.3h0M385.5 198.9h0M246.4 307.9h0M386 196.9h0M257 295.5h0M306.9 262.8h0M436.2 159.8h0M301.4 264.3h0M264.2 293.6h0M264.9 292.7h0M225.3 323.1h0M250.3 299.9h0M256.8 300.4h0M239.1 315.1h0M228.8 326.2h0M308.5 257.4h0M244.4 307.5h0M390.9 192.5h0M458.7 134.7h0M260.2 296.7h0M340 229.1h0M318.9 248.9h0M227.6 325.5h0M235.1 318.5h0M447.3 150.2h0M310.9 260.2h0M413.3 173.3h0M224.6 323.4h0M342.3 226.3h0M438.9 153.4h0M439.1 153.8h0M191.7 354.5h0M321.9 244.9h0M279.1 280.7h0M400.8 185.3h0M228.5 320.7h0M260.3 295.5h0M419.1 173.6h0M308.6 256.2h0M304.8 260.7h0M479.9 121.3h0M266.1 293.1h0M218.4 326.3h0M284.5 273.7h0M235.5 312.4h0M226.5 326.6h0M337.7 236.1h0M471 125.4h0M339.9 235.7h0M362 216.8h0M273 290.8h0M337.2 230.6h0M395.8 185.4h0M343.6 228.7h0M416.9 170.5h0M329.6 242.1h0M243.3 311.4h0M343.6 228.4h0M318.4 251.8h0M241.8 308.7h0M354 222.7h0M419 171.4h0M234.6 314.3h0M331.4 240h0M389.3 191.8h0M291 273.1h0M257.6 304.3h0M279.5 280h0M328.6 245.1h0M376.2 201.1h0M336.1 239.5h0M230.6 325h0M421.1 166.9h0M459.2 136h0M231 320.1h0M253.9 304.8h0M238.9 311.8h0M431.8 162.5h0M454.2 142.1h0M216.7 333.7h0M271.6 288.6h0M242.8 308.8h0M308.6 259.5h0M458.3 136.4h0M226.5 322.3h0M240.8 316.5h0M310.2 259.4h0M324.9 245.8h0M397.3 188.2h0M298.6 265.3h0M237.4 319.7h0M277.3 281.4h0M484.9 114.6h0M398.5 186.2h0M231.4 323.2h0M420.2 168.3h0M265.5 293.8h0M410.3 175h0M200.7 344.8h0M438.6 151.8h0M237 316.5h0M301.6 260.2h0M367.1 216.4h0M321.1 250.3h0M240.9 311.2h0M237.3 318.8h0M262.1 293.6h0M224.1 328.7h0M246.3 307.8h0M237.1 317.6h0M306.8 260.4h0M276.1 283.6h0M341.8 231.6h0M259.2 298.5h0M215 328h0M270 289h0M398.1 188.4h0M254.5 299.3h0M287.4 273.1h0M398.9 182.6h0M289.4 269.2h0M445.2 150.5h0M457.6 135.8h0M268.3 287.6h0M391.8 191.2h0M253.7 301.5h0M234.3 324.7h0M298.9 267.1h0M347.2 222.7h0M465.6 136.1h0M236.4 317.2h0M384.5 196.3h0M310.7 254.9h0M233.7 314.3h0M483.8 121.4h0M381 199.7h0M236.3 314h0M452.6 145.4h0M232.1 319.5h0M231.7 315.3h0M271.2 284.9h0M463.6 132.3h0M213.2 340.7h0M458.5 137.9h0M351.9 222.3h0M226.7 324.4h0M336.6 235.6h0M306.9 252.1h0M333.3 238.7h0M393.1 192.4h0M371.5 206.9h0M509.5 97.4h0M236.4 316.7h0M419.9 168.8h0M292.8 268.8h0M409.9 176.1h0M447.8 149h0M502 102.9h0M256.7 298.6h0M300.7 265.4h0M470.7 125h0M470.3 126.3h0M281 282.5h0M465.6 131.1h0M289.9 268.3h0M282.3 275.4h0M395.8 188h0M307.1 257h0M303.7 263.5h0M283.7 281.4h0M299.4 264.1h0M234.6 316.8h0M223.2 325.4h0M398.3 186h0M333.9 236.9h0M372.3 208h0M415.5 171h0M250.3 302.9h0M247 307.6h0M256.3 298h0M263.5 298.4h0M403.5 183.7h0M281.1 276.7h0M273.4 282.1h0M354.7 220.4h0M241.9 311.8h0M232.9 321.8h0M379.6 200.1h0M396.7 185.4h0M263.5 297.7h0M355.5 219h0M214 332.8h0M290.3 271.6h0M338.9 236.3h0M252.5 301.7h0M273.8 289.5h0M346.3 224.2h0M344.7 228.7h0M234.4 320.3h0M377.2 199.7h0M225.6 321.9h0M482.2 120.1h0M245 303.8h0M255.3 303.2h0M246.2 307.3h0M502.1 99.7h0M264.3 298.9h0M347.5 224.4h0M498.4 105.7h0M470.7 127.8h0M216.5 334.5h0M321.4 246.9h0M346.6 230h0M380.5 202.5h0M270.2 289.9h0M271.2 290.9h0M185.1 353.4h0M214.9 336.4h0M330.3 242.3h0M227.3 324h0M243.8 310h0M270.1 287h0M228.3 320.5h0M214.5 334.3h0M460.8 136.7h0M300.6 264.3h0M244.9 307.2h0M382.1 197.3h0M195.8 349.8h0M252.6 307.8h0M473.2 120.7h0M450.6 141.7h0M356.9 218.5h0M233.1 317.8h0M268.4 291.5h0M212.9 337.2h0M250.5 305.4h0M210.4 337.4h0M236.9 317h0M356.9 222.6h0M233 319.4h0M235.6 315.2h0M449 146.4h0M270.5 288.5h0M272.2 292.1h0M230.7 321.1h0M410.1 176.8h0M369.7 211.8h0M328.4 246.2h0M350.4 223.5h0M229.2 323.7h0M254.4 300.4h0M342.4 231.8h0M473 124.5h0M421.3 168.2h0M361.7 218.9h0M322.2 247.3h0M201 345.2h0M448.3 144.2h0M224.8 326.4h0M235.2 317.9h0M376.6 201.3h0M419.2 166.4h0M412.4 172.8h0M301.5 261.2h0M238.2 313.5h0M215 331.3h0M432.4 156.4h0M486.6 114h0M255.6 300.4h0M436.1 155.3h0M291.5 266h0M266.6 291.7h0M315.2 253.2h0M194.2 350.7h0M298.5 266.2h0M244.5 308.9h0M385.3 199.1h0M314.3 258.1h0M435.3 155.5h0M449.2 148.8h0M267.5 290.4h0M259.3 297.2h0M464.1 130.4h0M316.8 247.4h0M231.8 318.8h0M215.6 334h0M498.9 107.9h0M341 233.9h0M221.5 327.9h0M322.8 251.4h0M316.3 251.6h0M297.2 267.2h0M466.4 129.7h0M467.4 131.2h0M234.9 316.9h0M235.4 318.5h0M293.7 271h0M428.6 165.8h0M352.1 222.8h0M385.9 192.2h0M337.7 234.2h0M246.7 306.8h0M417.3 173h0M200.9 341.1h0M379 203.3h0M245.6 306.7h0M306.6 259.3h0M486 117.7h0M325.4 242.1h0M224.1 325.8h0M297.6 266.4h0M363.8 212.6h0M220.2 329.1h0M255.3 301.7h0M203.5 341.3h0M323.6 246.9h0M285.4 276.5h0M317.9 252.1h0M263 298.1h0M364.1 215h0M239.7 314.5h0M454.2 141h0M471 124.8h0M318.4 254.1h0M307.2 258.8h0M435.7 161.1h0M264.3 296h0M417.1 172h0M264 299.1h0M382.4 203.1h0M270.1 288.5h0M347.8 226.3h0M460.1 136.6h0M223.9 327.9h0M417 165.8h0M331.6 239.9h0M284.3 279.6h0M276.4 279.9h0M225 323.6h0M253.7 303h0M350.3 221.7h0M229.5 321.2h0M368.4 208.4h0M476.8 122.4h0M485.7 118.1h0M447.2 144.4h0M413 173.7h0M238.4 316.7h0M482.8 119.9h0M245.4 306.5h0M438.3 154.7h0M442.8 150.1h0M352.9 220.8h0M321 247.7h0M245.7 312.1h0M318.9 248.2h0M261.3 293.8h0M236.8 313.6h0M234.3 313.8h0M415 171.6h0M458.6 135.6h0M235.4 313h0M201.3 344.8h0M254.3 297.5h0M235.4 312.6h0M239.1 311.9h0M344.6 224.7h0M294.6 267.2h0M298.1 268.5h0M246.3 305.3h0M366.5 210.7h0M264.7 292.2h0M290.2 272.4h0M309.2 254.3h0M451 142.3h0M254.5 303h0M385.1 195.4h0M265.2 291.1h0M450.6 145.6h0M289.9 274h0M314.3 254.3h0M443.1 151.4h0M371.1 207h0M233.1 316.2h0M235.1 312.5h0M499.9 101.5h0M215.1 330.6h0M262.2 292.6h0M474.7 121.5h0M199.5 346.5h0M234.9 315.5h0M243.6 309.4h0M229.9 321.5h0M307.1 260.3h0M341.7 232.6h0M268.5 290.8h0M233.3 321.4h0M417.6 169.2h0M412.9 174.2h0M332 238.9h0M237.6 314.2h0M327.9 240.8h0M357.5 220.1h0M297.5 267.1h0M436 159.5h0M283.8 283.1h0M321.7 252.1h0M229 318.2h0M335.9 240.4h0M401.8 182h0M386.8 191.6h0M252.3 304.3h0M500.7 99.8h0M384.1 193h0M293.1 268.2h0M293.2 264.8h0M405.8 178.5h0M242 313.2h0M361.3 214.4h0M385.1 197.6h0M321.4 250.7h0M442.1 153.8h0M307.3 253.5h0M308.2 259.6h0M262.5 295h0M460.7 137.3h0M265.6 292.2h0M378.3 202.6h0M295.6 269.4h0M463.7 136.2h0M470.2 131.5h0M215.2 334.7h0M509.4 96h0M345.9 223.1h0M227.9 320.3h0M317.1 246.8h0M221.3 326.9h0M331.4 239.8h0M240.1 316.1h0M278.5 282.1h0M260.6 301.5h0M346.5 228.2h0M424.4 161.1h0M465.6 131.1h0M269.7 286.5h0M336.6 236.3h0M191.4 355.3h0M280.1 282h0M472.9 126.9h0M232.6 316.1h0M439.2 148.4h0M363.2 215.8h0M263.8 294.7h0M403.7 181.9h0M261 297h0M451.1 146.4h0M233.2 318.2h0M229.3 320.7h0M397.1 186h0M302.4 265.7h0M235.3 317.1h0M319.8 253h0M261.5 293.6h0M328.6 244.3h0M390.7 192.6h0M433.1 159h0M222 328.8h0M344.2 231.8h0M491.7 115h0M309.4 253.2h0M405.2 179.7h0M232.9 318.1h0M441.3 146.4h0M343.9 229.8h0M447.6 144.9h0M410 176.4h0M437.1 151.9h0M222.8 325.6h0M381.8 198.4h0M244.8 309.8h0M256.3 299.3h0M270.3 285.9h0M343.8 234.6h0M358.8 217.9h0M466.4 132.1h0M198.8 346.8h0M243.1 315.2h0M280.6 278.7h0M419.1 171.1h0M329.2 241.9h0M322 248.3h0M402.4 186.5h0M365.9 212.9h0M263.1 298.8h0M231.6 322h0M308.2 259h0M443.7 149.4h0M349.7 224.8h0M224.4 325.9h0M300 259.7h0M283.2 277.3h0M343 233.2h0M344.5 230.5h0M467.8 131.6h0M272 287.7h0M291.9 272.7h0M350.8 226h0M445.8 143.8h0M377.1 202.7h0M307 260h0M418.2 170.5h0M313.5 254.5h0M476.8 119.5h0M257.5 297.8h0M237 312.7h0M424.1 172.5h0M260.5 295.7h0M431.6 156.6h0M348.2 221.4h0M319.5 249.1h0M230.1 325h0M411 174.3h0M226.7 325.1h0M476.6 127.2h0M442.1 152.2h0M263.2 291.9h0M233.6 315.3h0M445.3 146.4h0M311 258.4h0M237.4 309.2h0M314.3 256.1h0M252.9 302.8h0M292.6 274.2h0M362 211.9h0M456.6 137.9h0M412.9 172h0M237.3 314.9h0M312.7 254.7h0M315.1 252.3h0M501.9 107.1h0M230.3 318.4h0M322.1 244.9h0M453.3 142.6h0M289.2 273.5h0M253.6 301.3h0M336 232.1h0M268.5 289h0M459.9 136.2h0M229.2 322.9h0M244.3 313h0M230.6 321.9h0M385.8 195.7h0M263.4 294.8h0M450.3 143.9h0M450.1 142.4h0M465.4 130.9h0M251.8 302.8h0M174.4 364.1h0M285.7 275.8h0M477.4 122.4h0M402.4 181.4h0M221.8 331.7h0M377.5 199.6h0M459.3 139.8h0M475.6 121.7h0M381.7 199.1h0M437 152.1h0M429.8 160.4h0M274.7 287.3h0M231.2 317.5h0M390.2 191.9h0M237.1 315h0M286.8 275.2h0M509.8 93.9h0M334.7 235h0M321.2 247.2h0M469.1 132.6h0M262.4 295.9h0M512.9 93.6h0M454.1 136.8h0M278.5 281.1h0M270.9 288.3h0M236.9 312.6h0M455.5 140.2h0M238.7 314.1h0M196.8 347.3h0M444.2 152.5h0M349.6 222.6h0M370.8 206.9h0M388.3 194.5h0M217.4 333.8h0M232.7 318.3h0M314.1 250.1h0M220.1 330.5h0M316.4 254.1h0M391.6 190.2h0M365.2 216.2h0M352.3 228h0M220.2 329.9h0M251.3 305.5h0M451.6 143.7h0M233.9 319.2h0M326.4 242.8h0M222.4 327.6h0M465 133.6h0M241.2 313h0M296.1 266.4h0M328.1 239.9h0M385.8 193.7h0M464.1 131.3h0M391.2 199.3h0M275.4 286.8h0M226.1 324.8h0M380.8 199.3h0M482.2 122.2h0M202.4 339.8h0M406.9 178.2h0M240.1 314.3h0M308.8 257.3h0M318.8 250.5h0M353.8 223.3h0M501.8 101.5h0M372.4 207.7h0M284.9 280.2h0M381.8 200.5h0M307.5 259h0M292.1 273.6h0M282.2 276h0M314.9 255.3h0M258.8 293.6h0M254.3 299.3h0M234.9 319.3h0M297.1 266.7h0M264.4 290.5h0M426.3 163.8h0M431.7 161.8h0M275.2 284.4h0M352.6 217.8h0M450.2 147.6h0M278.7 280.5h0M334.6 236.9h0M303.9 261.9h0M362.1 215.8h0M473.1 126.4h0M234.8 314.6h0M475.4 122.4h0M365.8 214.3h0M411 171.9h0M356.4 222.5h0M439.4 151.2h0M270.2 288.2h0M380.5 197.3h0M259.1 296.8h0M322.6 244.1h0M376.5 203.3h0M243.5 307.8h0M224.1 324.8h0M410 171.3h0M420.2 169.8h0M367.6 207.6h0M267.5 289.7h0M366 211.3h0M229.3 322.9h0M366.1 210.6h0M337.6 238h0M351.7 226.4h0M302.3 261.1h0M251.2 307.5h0M388.6 190.1h0M308.4 258.6h0M395.5 187.4h0M279.6 280.9h0M232.9 317.6h0M328.1 242.8h0M354.2 222h0M459.4 137h0M445.8 145.1h0M222.3 324.4h0M405.7 176.8h0M253.5 301.2h0M378.7 202h0M285.9 280h0M266 290.5h0M310.4 254.4h0M325 245.6h0M377.2 200.8h0M360.9 212.7h0M370.1 208.2h0M286.2 273.3h0M368.3 209.1h0M275.5 288.4h0M349 226.5h0M306.6 260.3h0M335.8 234.7h0M205.3 342.8h0M314.3 254.3h0M248.6 308.3h0M286.2 275.9h0M226.8 323.3h0M366.4 209.1h0M453 140h0M276.8 283h0M231.4 319.2h0M353.7 221.3h0M235.4 316.3h0M444.1 145.3h0M230.2 326.6h0M280.9 280.4h0M318.3 249.2h0M231.7 316.9h0M266.1 294.5h0M260.3 295.8h0M383.1 195.9h0M489.9 113.3h0M280.7 284.7h0M409.7 177.4h0M233.9 320.6h0M339.7 231.3h0M299.3 267.3h0M264.7 288.9h0M422.2 166.2h0M398.8 187.2h0M237 316.5h0M261.5 298.2h0M419.3 168h0M500.6 100h0M351.3 224h0M440 150h0M492.6 112.2h0M391 190.9h0M361.1 210.2h0M248.8 309.1h0M282.3 276h0M352.4 219.8h0M459.4 141.1h0M264.7 296.4h0M288.8 276h0M209.8 334.9h0M377.9 203.2h0M304 261.9h0M416 169.8h0M250.6 304.1h0M365.6 211.5h0M368.9 210.2h0M308 255.7h0M242 313.1h0M288.6 269.9h0M394.8 189.3h0M238.7 315.8h0M233.1 316.9h0M305.2 259.5h0M247.1 311.9h0M413.1 173.3h0M421.1 170.6h0M468.2 131.6h0M429.2 159.1h0M362.1 216.9h0M239.9 312.2h0M424.9 165.3h0M387.9 189.6h0M397.2 186.9h0M378.2 204.7h0M421.6 169.6h0M263 296.6h0M369.1 209h0M319.8 248.8h0M273.2 283.9h0M270.9 287.7h0M233.9 317.5h0M316.9 250.4h0M280.7 280.6h0M291.9 270.5h0M432.2 156.7h0M375.1 202.6h0M373.6 206.9h0M493.3 113.7h0M250.5 306.4h0M320.8 247.3h0M233.1 324.4h0M282.9 279.6h0M467.4 129.2h0M233.1 319.8h0M401.5 185.9h0M435.8 151.5h0M321.1 244.5h0M415.9 172.2h0M298.9 262.5h0M274 282.6h0M314.3 256h0M244.2 303.2h0M264.9 295.2h0M265.2 293.3h0M500.7 106.2h0M271.2 287.7h0M247.3 310.2h0M465.9 131.5h0M235.1 314.3h0M479.4 120.2h0M433.3 158.3h0M361.7 211.6h0M298.1 268.4h0M245.4 306.3h0M230 321.7h0M230.1 320.4h0M277.7 282.6h0M292.6 270.4h0M459.2 137h0M326.4 245.4h0M499.3 106.1h0M387.4 193.5h0M237.5 315.2h0M332.9 241.1h0M234.5 319h0M219.5 331.1h0M467.7 130.2h0M270.8 287.8h0M241.9 311.2h0M230.4 322.2h0M363.4 213.8h0M308.8 260.9h0M201.4 350.8h0M382.3 198.8h0M252.3 307h0M407.1 181h0M313.3 256.9h0M324.1 244h0M301.6 266.4h0M369 208.8h0M498.4 106.6h0M414.6 175.7h0M226.7 327.4h0M316.9 250.1h0M247.1 306.4h0M229.8 319.4h0M242.9 306.3h0M252.6 302.3h0M471.8 126.2h0M398.9 185.7h0M432.3 158.4h0M377.4 203.5h0M267.8 292.8h0M287.1 270.5h0M299.7 269.5h0M263.2 293.8h0M293.4 269.1h0M405.5 179.7h0M225.8 326.7h0M259.5 297.9h0M313.2 255.3h0M370.1 211.1h0M362.8 214.6h0M388.7 194.6h0M232 320.8h0M239.1 312.1h0M265.9 294.8h0M256.9 298.5h0M398.8 186.9h0M505.9 98.5h0M376.4 203.4h0M214.7 332.8h0M263.9 296.2h0M414.6 174.7h0M460.9 137.7h0M346.2 227.4h0M276.7 281.8h0M274 283.3h0M358.7 218.9h0M439 153h0M274.5 289.2h0M245.8 313.6h0M187.8 357h0M233.6 319.8h0M433.1 161.6h0M351.8 227.5h0M500.6 102.6h0M228.4 324.3h0M281.5 283.7h0M409.1 171.8h0M365.9 211.6h0M227 324.3h0M287.3 273.6h0M359.5 218.9h0M374 201.8h0M301.4 267.4h0M239 317h0M478.4 121.9h0M309.4 259.2h0M383.4 194.7h0M325.9 247.9h0M227.9 324.6h0M249.9 304.6h0M227.4 321.9h0M242.4 308.8h0M246.3 307.3h0M292.4 265.9h0M265.6 293.7h0M280.5 280.2h0M419.8 166.7h0M209.9 338h0M230.3 321.7h0M421.4 168.6h0M325.9 245.7h0M299.9 267.7h0M258 300h0M327.9 246.2h0M246.9 306.7h0M437.9 157.9h0M423.5 160.9h0M266.8 287.7h0M208 336.3h0M444.8 149.2h0M262.4 296.5h0M364.5 210.3h0M439.1 152.9h0M413.5 172.5h0M439.4 154.7h0M313.5 251.7h0M427.8 164.2h0M308.6 257.8h0M254 306h0M311.7 257.1h0M272.9 285.6h0M402.9 183.4h0M422.5 167.6h0M237.5 313.3h0M238.1 314.9h0M282.7 275.9h0M307.3 264.8h0M472.3 125.3h0M468.3 128.6h0M477.5 126h0M387.9 197.5h0M371.9 205.2h0M260 299.7h0M279.8 282.7h0M185.4 355.6h0M429 162.1h0M256.7 298.6h0M226.3 326.3h0M268 290h0M269.3 287.1h0M389.2 192.6h0M191.9 357h0M248.6 304.7h0M449.6 144.7h0M433 160.3h0M355.7 217h0M335.7 240.4h0M249.5 301.1h0M440.9 153.3h0M402.8 178.7h0M321.3 248h0M234 321.1h0M244.3 309.6h0M284.9 276.3h0M273.5 285h0M221.4 325.6h0M289.2 275.8h0M305 259.8h0M262.2 293.6h0M286.4 276.5h0M269.7 291.5h0M284.5 279.7h0M350.8 222.5h0M318.1 248.6h0M244.9 311.2h0M409.2 180.5h0M319 246.9h0M307 263h0M381.7 199h0M396.9 189.1h0M433.9 161.6h0M418.5 169.5h0M368.6 210.4h0M387.4 191.4h0M234.2 312.5h0M380.6 200.7h0M251.8 301.3h0M254.7 299h0M230.5 322.1h0M290.5 274.7h0M205.5 337.1h0M364 214.5h0M398.1 186.3h0M407.9 179h0M236 316.7h0M361.8 216.8h0M427.6 160.8h0M211.8 332.9h0M245.7 309.5h0M259.5 300.8h0M306.1 260h0M238.4 318h0M324.6 246.7h0M276.6 280.9h0M365 207.3h0M327.4 242.1h0M375.9 206.6h0M255.5 298.9h0M379.5 206.4h0M393.7 191.4h0M390 189.1h0M224.6 323.8h0M469 132.5h0M337.3 238.9h0M259.4 295.6h0M297.2 267.4h0M321.9 248.8h0M320.1 247.9h0M254.3 303.1h0M258.9 302.6h0M282.3 277.3h0M407.6 180.1h0M298.1 268.9h0M218.6 333.5h0M301.5 263.3h0M242.8 312.8h0M200.8 343.2h0M488.4 114.3h0M263.7 291.7h0M325.4 245.5h0M276.6 285.4h0M223.3 331.3h0M451.1 146.3h0M463.6 131.9h0M241.7 304.6h0M293.3 273.3h0M282.3 281.7h0M241.5 311.2h0M366.9 210.1h0M411.9 176.7h0M403.6 181.6h0M372.3 210.7h0M204.3 342.6h0M248.6 304.2h0M321.9 243.6h0M381.2 200.2h0M285.5 277.2h0M300.8 263.3h0M426.3 161h0M208.6 337.2h0M259.4 299.4h0M264.3 292.8h0M499.5 102.5h0M249.2 307.5h0M222.3 330.6h0M292.1 270.2h0M358.9 216.8h0M235.8 314.3h0M428.4 161.7h0M509.7 98.1h0M502.4 103.5h0M526.4 85.6h0M523.9 87.4h0M502.2 103.9h0M515.4 93.2h0M511.4 92.6h0M517.6 93.1h0M509.9 96.6h0M527.6 83.6h0M506.5 95.7h0M523.7 84.7h0M507.9 98.9h0M518.8 87.3h0M512.5 94.2h0M515.3 93.2h0M515.2 88.6h0M518.2 88.1h0M502.2 98.5h0M502 100.1h0M528 80h0M507.5 98h0M510.5 98.5h0M507.1 97h0M518.7 89.2h0M528.4 80h0M511.8 94.9h0M509.5 98.4h0M510.3 98.5h0M501 101.9h0M502.8 99h0M501.6 103.7h0M509.5 95.6h0M528.4 78.3h0M504.3 102.9h0M516 92.3h0M506.2 102h0M501.3 100.5h0M524.2 84.3h0M503.9 102.3h0M159.2 382h0M189.8 353.9h0M164.1 371.8h0M162.1 376.5h0M195.5 349.9h0M161.9 374.4h0M190.5 355.8h0M166.9 371.7h0M178.5 361.1h0M167.1 373.5h0M168.4 372.6h0M195 348.7h0M193.9 350.4h0M161 377.2h0M185.7 356.3h0M159.4 377.4h0M166.6 374.3h0M156.3 381.9h0M182.2 358.5h0M185.8 354.1h0M186.7 352.8h0M187.9 357h0M170.9 366.1h0M161.1 374.8h0M153.3 382.8h0M172.9 365.9h0M195.1 347.3h0M173.3 362.5h0M180.8 363.2h0M194.3 348.4h0M191.9 352.1h0M186.4 356.7h0M179.7 358.9h0M163.5 372.6h0M186.8 358.3h0M171.9 368.5h0M184.9 356.9h0M163.2 378.2h0M195.4 347h0M160.5 377.2h0M149.5 374h0M166.3 358h0M184.7 338.7h0" stroke="#FF8C00" stroke-width="6.2" stroke-linecap="round" fill="none"/>
<line x1="83.7" y1="438.6" x2="573.8" y2="45" stroke="#FF0000" stroke-width="4.2"/>
<line x1="83.7" y1="437.9" x2="528.5" y2="45" stroke="#808080" stroke-width="3.5"/>
<line x1="83.7" y1="439.3" x2="573.8" y2="85" stroke="#808080" stroke-width="3.5"/>
<rect x="574.6" y="0" width="20" height="438.6" fill="#fff"/>
<rect x="84" y="24" width="499.8" height="20" fill="#fff"/>
<rect x="295.6" y="291.4" width="261.9" height="134.6" fill="#fff" stroke="#A8A8A8" stroke-width="1.2"/>
<path d="M328.4 310.4h0" stroke="#FF8C00" stroke-width="6.2" stroke-linecap="round" fill="none"/>
<path d="M325.3 343.2h6.2M328.4 340.1v6.2M325.5 340.3l5.8 5.8M325.5 346.1l5.8 -5.8" stroke="#4DB8F5" stroke-width="1.5" fill="none"/>
<line x1="298.5" y1="375.2" x2="358.5" y2="375.2" stroke="#FF0000" stroke-width="4" stroke-linecap="round"/>
<line x1="298.5" y1="408" x2="358.5" y2="408" stroke="#808080" stroke-width="3.6" stroke-linecap="round"/>
<text font-size="24.5" text-anchor="start" transform="translate(371.8 318.7) scale(1 1.04)">Training data</text>
<text font-size="24.5" text-anchor="start" transform="translate(371.8 351.8) scale(1 1.04)">Testing data</text>
<text font-size="24.5" text-anchor="start" transform="translate(371.8 384.3) scale(1 1.04)">100% accuracy</text>
<text font-size="24.5" text-anchor="start" transform="translate(371.8 416.9) scale(1 1.04)">90% accuracy</text>
<rect x="84" y="44.8" width="489.8" height="393.8" fill="none" stroke="#000" stroke-width="1.5"/>
<path d="M238.9 438.6v-7M402.3 438.6v-7M565.6 438.6v-7" stroke="#000" stroke-width="1.5" fill="none"/>
<path d="M157.2 438.6v-3.5M320.6 438.6v-3.5M483.9 438.6v-3.5" stroke="#000" stroke-width="1.5" fill="none"/>
<path d="M84 314h7M84 182.8h7M84 51.6h7" stroke="#000" stroke-width="1.5" fill="none"/>
<path d="M84 379.6h3.5M84 248.4h3.5M84 117.2h3.5" stroke="#000" stroke-width="1.5" fill="none"/>
<text font-size="28.3" text-anchor="middle" transform="translate(238.9 471.5) scale(1 1.04)">2</text>
<text font-size="28.3" text-anchor="end" transform="translate(70.9 324.6) scale(1 1.04)">2</text>
<text font-size="28.3" text-anchor="middle" transform="translate(402.3 471.5) scale(1 1.04)">4</text>
<text font-size="28.3" text-anchor="end" transform="translate(70.9 193.4) scale(1 1.04)">4</text>
<text font-size="28.3" text-anchor="middle" transform="translate(565.6 471.5) scale(1 1.04)">6</text>
<text font-size="28.3" text-anchor="end" transform="translate(70.9 62.2) scale(1 1.04)">6</text>
<text font-size="28.3" text-anchor="middle" transform="translate(318.3 515) scale(1 1.04)">FEA frequency [MHz]</text>
<text font-size="28.3" text-anchor="middle" transform="translate(22 248.5) rotate(-90) scale(1 1.04)">DL frequency [MHz]</text>
<path d="M114.1 997h6.4M117.3 993.8v6.4M114.3 994l6 6M114.3 1000l6 -6M188.6 930.9h6.4M191.8 927.7v6.4M188.8 927.9l6 6M188.8 933.9l6 -6M219.6 910.9h6.4M222.8 907.7v6.4M219.8 907.9l6 6M219.8 913.9l6 -6M100 1005.9h6.4M103.2 1002.7v6.4M100.2 1002.9l6 6M100.2 1008.9l6 -6M222.5 919.2h6.4M225.7 916v6.4M222.7 916.2l6 6M222.7 922.2l6 -6M99.1 1008.4h6.4M102.3 1005.2v6.4M99.3 1005.4l6 6M99.3 1011.4l6 -6M91.4 1013.1h6.4M94.6 1009.9v6.4M91.6 1010.1l6 6M91.6 1016.1l6 -6M95.9 1009.7h6.4M99.1 1006.5v6.4M96.1 1006.7l6 6M96.1 1012.7l6 -6M90.4 1014.6h6.4M93.6 1011.4v6.4M90.6 1011.6l6 6M90.6 1017.6l6 -6M104.8 1003.3h6.4M108 1000.1v6.4M105 1000.3l6 6M105 1006.3l6 -6M182 936h6.4M185.2 932.8v6.4M182.2 933l6 6M182.2 939l6 -6M126.1 986.2h6.4M129.3 983v6.4M126.3 983.2l6 6M126.3 989.2l6 -6M191.4 929.2h6.4M194.6 926v6.4M191.6 926.2l6 6M191.6 932.2l6 -6M95.9 1008.2h6.4M99.1 1005v6.4M96.1 1005.2l6 6M96.1 1011.2l6 -6M180.2 939.8h6.4M183.4 936.6v6.4M180.4 936.8l6 6M180.4 942.8l6 -6M93.7 1011.2h6.4M96.9 1008v6.4M93.9 1008.2l6 6M93.9 1014.2l6 -6M108.7 1000.1h6.4M111.9 996.9v6.4M108.9 997.1l6 6M108.9 1003.1l6 -6M221.1 899.7h6.4M224.3 896.5v6.4M221.3 896.7l6 6M221.3 902.7l6 -6M174 953.6h6.4M177.2 950.4v6.4M174.2 950.6l6 6M174.2 956.6l6 -6M175.7 950.7h6.4M178.9 947.5v6.4M175.9 947.7l6 6M175.9 953.7l6 -6M148.9 966.8h6.4M152.1 963.6v6.4M149.1 963.8l6 6M149.1 969.8l6 -6M114.3 997.3h6.4M117.5 994.1v6.4M114.5 994.3l6 6M114.5 1000.3l6 -6M149.7 962.6h6.4M152.9 959.4v6.4M149.9 959.6l6 6M149.9 965.6l6 -6M121.4 990.3h6.4M124.6 987.1v6.4M121.6 987.3l6 6M121.6 993.3l6 -6M187.2 933h6.4M190.4 929.8v6.4M187.4 930l6 6M187.4 936l6 -6M155.7 962.5h6.4M158.9 959.3v6.4M155.9 959.5l6 6M155.9 965.5l6 -6M213.3 916.7h6.4M216.5 913.5v6.4M213.5 913.7l6 6M213.5 919.7l6 -6M201.4 924.4h6.4M204.6 921.2v6.4M201.6 921.4l6 6M201.6 927.4l6 -6M201.7 936.7h6.4M204.9 933.5v6.4M201.9 933.7l6 6M201.9 939.7l6 -6M96.7 1009.8h6.4M99.9 1006.6v6.4M96.9 1006.8l6 6M96.9 1012.8l6 -6M91.6 1013.3h6.4M94.8 1010.1v6.4M91.8 1010.3l6 6M91.8 1016.3l6 -6M115.7 989.6h6.4M118.9 986.4v6.4M115.9 986.6l6 6M115.9 992.6l6 -6M227.8 896.9h6.4M231 893.7v6.4M228 893.9l6 6M228 899.9l6 -6M145.5 967.1h6.4M148.7 963.9v6.4M145.7 964.1l6 6M145.7 970.1l6 -6M141.2 976.3h6.4M144.4 973.1v6.4M141.4 973.3l6 6M141.4 979.3l6 -6M198.8 921.1h6.4M202 917.9v6.4M199 918.1l6 6M199 924.1l6 -6M147.8 963.3h6.4M151 960.1v6.4M148 960.3l6 6M148 966.3l6 -6M95.8 1009h6.4M99 1005.8v6.4M96 1006l6 6M96 1012l6 -6M127 979.2h6.4M130.2 976v6.4M127.2 976.2l6 6M127.2 982.2l6 -6M211 926h6.4M214.2 922.8v6.4M211.2 923l6 6M211.2 929l6 -6M190.1 939.8h6.4M193.3 936.6v6.4M190.3 936.8l6 6M190.3 942.8l6 -6M93.2 1011.9h6.4M96.4 1008.7v6.4M93.4 1008.9l6 6M93.4 1014.9l6 -6M327.7 835.4h6.4M330.9 832.2v6.4M327.9 832.4l6 6M327.9 838.4l6 -6M132.9 979.6h6.4M136.1 976.4v6.4M133.1 976.6l6 6M133.1 982.6l6 -6M110.2 997.2h6.4M113.4 994v6.4M110.4 994.2l6 6M110.4 1000.2l6 -6M121.6 988.8h6.4M124.8 985.6v6.4M121.8 985.8l6 6M121.8 991.8l6 -6M229.2 901.3h6.4M232.4 898.1v6.4M229.4 898.3l6 6M229.4 904.3l6 -6M213.9 911.6h6.4M217.1 908.4v6.4M214.1 908.6l6 6M214.1 914.6l6 -6M111.6 995.6h6.4M114.8 992.4v6.4M111.8 992.6l6 6M111.8 998.6l6 -6M147 970.6h6.4M150.2 967.4v6.4M147.2 967.6l6 6M147.2 973.6l6 -6M91.6 1013.4h6.4M94.8 1010.2v6.4M91.8 1010.4l6 6M91.8 1016.4l6 -6M193.3 924h6.4M196.5 920.8v6.4M193.5 921l6 6M193.5 927l6 -6M90.6 1014h6.4M93.8 1010.8v6.4M90.8 1011l6 6M90.8 1017l6 -6M172.2 952h6.4M175.4 948.8v6.4M172.4 949l6 6M172.4 955l6 -6M107.9 999.5h6.4M111.1 996.3v6.4M108.1 996.5l6 6M108.1 1002.5l6 -6M102.3 1004.8h6.4M105.5 1001.6v6.4M102.5 1001.8l6 6M102.5 1007.8l6 -6M96.4 1009h6.4M99.6 1005.8v6.4M96.6 1006l6 6M96.6 1012l6 -6M250.1 885.8h6.4M253.3 882.6v6.4M250.3 882.8l6 6M250.3 888.8l6 -6M104.1 1002.2h6.4M107.3 999v6.4M104.3 999.2l6 6M104.3 1005.2l6 -6M126.6 982.6h6.4M129.8 979.4v6.4M126.8 979.6l6 6M126.8 985.6l6 -6M99.5 1007.4h6.4M102.7 1004.2v6.4M99.7 1004.4l6 6M99.7 1010.4l6 -6M126.5 987.8h6.4M129.7 984.6v6.4M126.7 984.8l6 6M126.7 990.8l6 -6M198 917.4h6.4M201.2 914.2v6.4M198.2 914.4l6 6M198.2 920.4l6 -6M105.7 1002.5h6.4M108.9 999.3v6.4M105.9 999.5l6 6M105.9 1005.5l6 -6M171.7 955.9h6.4M174.9 952.7v6.4M171.9 952.9l6 6M171.9 958.9l6 -6M112.9 999h6.4M116.1 995.8v6.4M113.1 996l6 6M113.1 1002l6 -6M94.9 1010.3h6.4M98.1 1007.1v6.4M95.1 1007.3l6 6M95.1 1013.3l6 -6M196.9 932h6.4M200.1 928.8v6.4M197.1 929l6 6M197.1 935l6 -6M115.3 997.2h6.4M118.5 994v6.4M115.5 994.2l6 6M115.5 1000.2l6 -6M149.3 969.9h6.4M152.5 966.7v6.4M149.5 966.9l6 6M149.5 972.9l6 -6M230.4 909.5h6.4M233.6 906.3v6.4M230.6 906.5l6 6M230.6 912.5l6 -6M171.5 943.9h6.4M174.7 940.7v6.4M171.7 940.9l6 6M171.7 946.9l6 -6M115 993.7h6.4M118.2 990.5v6.4M115.2 990.7l6 6M115.2 996.7l6 -6M145 970h6.4M148.2 966.8v6.4M145.2 967l6 6M145.2 973l6 -6M180 948.4h6.4M183.2 945.2v6.4M180.2 945.4l6 6M180.2 951.4l6 -6M105.3 1002.2h6.4M108.5 999v6.4M105.5 999.2l6 6M105.5 1005.2l6 -6M236.2 891.1h6.4M239.4 887.9v6.4M236.4 888.1l6 6M236.4 894.1l6 -6M104.1 1002.7h6.4M107.3 999.5v6.4M104.3 999.7l6 6M104.3 1005.7l6 -6M92.4 1011.7h6.4M95.6 1008.5v6.4M92.6 1008.7l6 6M92.6 1014.7l6 -6M130.5 981.5h6.4M133.7 978.3v6.4M130.7 978.5l6 6M130.7 984.5l6 -6M125 984.5h6.4M128.2 981.3v6.4M125.2 981.5l6 6M125.2 987.5l6 -6M101.9 1004.2h6.4M105.1 1001v6.4M102.1 1001.2l6 6M102.1 1007.2l6 -6M128.3 984.9h6.4M131.5 981.7v6.4M128.5 981.9l6 6M128.5 987.9l6 -6M107.3 998.5h6.4M110.5 995.3v6.4M107.5 995.5l6 6M107.5 1001.5l6 -6M197.9 925.2h6.4M201.1 922v6.4M198.1 922.2l6 6M198.1 928.2l6 -6M127 982.5h6.4M130.2 979.3v6.4M127.2 979.5l6 6M127.2 985.5l6 -6M130.1 984.7h6.4M133.3 981.5v6.4M130.3 981.7l6 6M130.3 987.7l6 -6M95 1011h6.4M98.2 1007.8v6.4M95.2 1008l6 6M95.2 1014l6 -6M225.6 906.4h6.4M228.8 903.2v6.4M225.8 903.4l6 6M225.8 909.4l6 -6M104.3 1003.7h6.4M107.5 1000.5v6.4M104.5 1000.7l6 6M104.5 1006.7l6 -6M138.3 973.5h6.4M141.5 970.3v6.4M138.5 970.5l6 6M138.5 976.5l6 -6M188.5 932.6h6.4M191.7 929.4v6.4M188.7 929.6l6 6M188.7 935.6l6 -6M132.8 976.5h6.4M136 973.3v6.4M133 973.5l6 6M133 979.5l6 -6M108 998.9h6.4M111.2 995.7v6.4M108.2 995.9l6 6M108.2 1001.9l6 -6M147.3 972.1h6.4M150.5 968.9v6.4M147.5 969.1l6 6M147.5 975.1l6 -6M170.3 945.1h6.4M173.5 941.9v6.4M170.5 942.1l6 6M170.5 948.1l6 -6M94.1 1011.4h6.4M97.3 1008.2v6.4M94.3 1008.4l6 6M94.3 1014.4l6 -6M103 1004.7h6.4M106.2 1001.5v6.4M103.2 1001.7l6 6M103.2 1007.7l6 -6M98.8 1007.2h6.4M102 1004v6.4M99 1004.2l6 6M99 1010.2l6 -6M92.9 1012h6.4M96.1 1008.8v6.4M93.1 1009l6 6M93.1 1015l6 -6M144 967.4h6.4M147.2 964.2v6.4M144.2 964.4l6 6M144.2 970.4l6 -6M110.4 994.5h6.4M113.6 991.3v6.4M110.6 991.5l6 6M110.6 997.5l6 -6M221.9 904.9h6.4M225.1 901.7v6.4M222.1 901.9l6 6M222.1 907.9l6 -6M116.3 990.4h6.4M119.5 987.2v6.4M116.5 987.4l6 6M116.5 993.4l6 -6M216.5 913.9h6.4M219.7 910.7v6.4M216.7 910.9l6 6M216.7 916.9l6 -6M96.8 1008.5h6.4M100 1005.3v6.4M97 1005.5l6 6M97 1011.5l6 -6M109.1 999.7h6.4M112.3 996.5v6.4M109.3 996.7l6 6M109.3 1002.7l6 -6M206.8 923h6.4M210 919.8v6.4M207 920l6 6M207 926l6 -6M219.1 900.6h6.4M222.3 897.4v6.4M219.3 897.6l6 6M219.3 903.6l6 -6M190.7 930.6h6.4M193.9 927.4v6.4M190.9 927.6l6 6M190.9 933.6l6 -6M157 958.5h6.4M160.2 955.3v6.4M157.2 955.5l6 6M157.2 961.5l6 -6M108.5 1000.5h6.4M111.7 997.3v6.4M108.7 997.5l6 6M108.7 1003.5l6 -6M260.6 860.8h6.4M263.8 857.6v6.4M260.8 857.8l6 6M260.8 863.8l6 -6M138 976.1h6.4M141.2 972.9v6.4M138.2 973.1l6 6M138.2 979.1l6 -6M197.4 931.7h6.4M200.6 928.5v6.4M197.6 928.7l6 6M197.6 934.7l6 -6M118.4 991.4h6.4M121.6 988.2v6.4M118.6 988.4l6 6M118.6 994.4l6 -6M222.5 902.6h6.4M225.7 899.4v6.4M222.7 899.6l6 6M222.7 905.6l6 -6M142.3 969.7h6.4M145.5 966.5v6.4M142.5 966.7l6 6M142.5 972.7l6 -6M169.2 943.7h6.4M172.4 940.5v6.4M169.4 940.7l6 6M169.4 946.7l6 -6M95.5 1010.6h6.4M98.7 1007.4v6.4M95.7 1007.6l6 6M95.7 1013.6l6 -6M118.7 992h6.4M121.9 988.8v6.4M118.9 989l6 6M118.9 995l6 -6M95.4 1008.7h6.4M98.6 1005.5v6.4M95.6 1005.7l6 6M95.6 1011.7l6 -6M114.4 990.8h6.4M117.6 987.6v6.4M114.6 987.8l6 6M114.6 993.8l6 -6M134.6 980.1h6.4M137.8 976.9v6.4M134.8 977.1l6 6M134.8 983.1l6 -6M109.4 998.8h6.4M112.6 995.6v6.4M109.6 995.8l6 6M109.6 1001.8l6 -6M88.1 1016.4h6.4M91.3 1013.2v6.4M88.3 1013.4l6 6M88.3 1019.4l6 -6M121.7 990.5h6.4M124.9 987.3v6.4M121.9 987.5l6 6M121.9 993.5l6 -6M183.3 943.9h6.4M186.5 940.7v6.4M183.5 940.9l6 6M183.5 946.9l6 -6M111.4 997.2h6.4M114.6 994v6.4M111.6 994.2l6 6M111.6 1000.2l6 -6M186.1 943.4h6.4M189.3 940.2v6.4M186.3 940.4l6 6M186.3 946.4l6 -6M118.5 989.5h6.4M121.7 986.3v6.4M118.7 986.5l6 6M118.7 992.5l6 -6M133.4 979.4h6.4M136.6 976.2v6.4M133.6 976.4l6 6M133.6 982.4l6 -6M107.6 1000.5h6.4M110.8 997.3v6.4M107.8 997.5l6 6M107.8 1003.5l6 -6M95.7 1008.9h6.4M98.9 1005.7v6.4M95.9 1005.9l6 6M95.9 1011.9l6 -6M189.6 935.5h6.4M192.8 932.3v6.4M189.8 932.5l6 6M189.8 938.5l6 -6M133 983h6.4M136.2 979.8v6.4M133.2 980l6 6M133.2 986l6 -6M193.4 930.9h6.4M196.6 927.7v6.4M193.6 927.9l6 6M193.6 933.9l6 -6M187.2 923.9h6.4M190.4 920.7v6.4M187.4 920.9l6 6M187.4 926.9l6 -6M186.4 936.1h6.4M189.6 932.9v6.4M186.6 933.1l6 6M186.6 939.1l6 -6M112.9 994.9h6.4M116.1 991.7v6.4M113.1 991.9l6 6M113.1 997.9l6 -6M107 1000.8h6.4M110.2 997.6v6.4M107.2 997.8l6 6M107.2 1003.8l6 -6M103.6 1003.6h6.4M106.8 1000.4v6.4M103.8 1000.6l6 6M103.8 1006.6l6 -6M127.4 982.9h6.4M130.6 979.7v6.4M127.6 979.9l6 6M127.6 985.9l6 -6M144.5 977.5h6.4M147.7 974.3v6.4M144.7 974.5l6 6M144.7 980.5l6 -6M207.2 928.1h6.4M210.4 924.9v6.4M207.4 925.1l6 6M207.4 931.1l6 -6M309.6 844.5h6.4M312.8 841.3v6.4M309.8 841.5l6 6M309.8 847.5l6 -6M174.3 947.7h6.4M177.5 944.5v6.4M174.5 944.7l6 6M174.5 950.7l6 -6M136.2 972.8h6.4M139.4 969.6v6.4M136.4 969.8l6 6M136.4 975.8l6 -6M107.8 996.8h6.4M111 993.6v6.4M108 993.8l6 6M108 999.8l6 -6M138.5 973.3h6.4M141.7 970.1v6.4M138.7 970.3l6 6M138.7 976.3l6 -6M111 996.7h6.4M114.2 993.5v6.4M111.2 993.7l6 6M111.2 999.7l6 -6M209 913.8h6.4M212.2 910.6v6.4M209.2 910.8l6 6M209.2 916.8l6 -6M106.2 999.2h6.4M109.4 996v6.4M106.4 996.2l6 6M106.4 1002.2l6 -6M117.3 994.2h6.4M120.5 991v6.4M117.5 991.2l6 6M117.5 997.2l6 -6M106.3 1001.8h6.4M109.5 998.6v6.4M106.5 998.8l6 6M106.5 1004.8l6 -6M106 1001.2h6.4M109.2 998v6.4M106.2 998.2l6 6M106.2 1004.2l6 -6M182.5 938.2h6.4M185.7 935v6.4M182.7 935.2l6 6M182.7 941.2l6 -6M98.2 1009.4h6.4M101.4 1006.2v6.4M98.4 1006.4l6 6M98.4 1012.4l6 -6M109.7 997.8h6.4M112.9 994.6v6.4M109.9 994.8l6 6M109.9 1000.8l6 -6M90.7 1014.5h6.4M93.9 1011.3v6.4M90.9 1011.5l6 6M90.9 1017.5l6 -6M217.7 905.9h6.4M220.9 902.7v6.4M217.9 902.9l6 6M217.9 908.9l6 -6M219.4 903.9h6.4M222.6 900.7v6.4M219.6 900.9l6 6M219.6 906.9l6 -6M112.9 999.4h6.4M116.1 996.2v6.4M113.1 996.4l6 6M113.1 1002.4l6 -6M217.5 908h6.4M220.7 904.8v6.4M217.7 905l6 6M217.7 911l6 -6M106.1 1001h6.4M109.3 997.8v6.4M106.3 998l6 6M106.3 1004l6 -6M105.8 1002.3h6.4M109 999.1v6.4M106 999.3l6 6M106 1005.3l6 -6M136.6 974h6.4M139.8 970.8v6.4M136.8 971l6 6M136.8 977l6 -6M103.8 1000.8h6.4M107 997.6v6.4M104 997.8l6 6M104 1003.8l6 -6M220.5 905.5h6.4M223.7 902.3v6.4M220.7 902.5l6 6M220.7 908.5l6 -6M249.1 895.7h6.4M252.3 892.5v6.4M249.3 892.7l6 6M249.3 898.7l6 -6M95 1011.3h6.4M98.2 1008.1v6.4M95.2 1008.3l6 6M95.2 1014.3l6 -6M120.5 992.1h6.4M123.7 988.9v6.4M120.7 989.1l6 6M120.7 995.1l6 -6M119 992.9h6.4M122.2 989.7v6.4M119.2 989.9l6 6M119.2 995.9l6 -6M271.9 856.6h6.4M275.1 853.4v6.4M272.1 853.6l6 6M272.1 859.6l6 -6M268.5 867.7h6.4M271.7 864.5v6.4M268.7 864.7l6 6M268.7 870.7l6 -6M89.6 1014.6h6.4M92.8 1011.4v6.4M89.8 1011.6l6 6M89.8 1017.6l6 -6M234 891.3h6.4M237.2 888.1v6.4M234.2 888.3l6 6M234.2 894.3l6 -6M150.1 965.8h6.4M153.3 962.6v6.4M150.3 962.8l6 6M150.3 968.8l6 -6M125.4 985.7h6.4M128.6 982.5v6.4M125.6 982.7l6 6M125.6 988.7l6 -6M121.3 990.8h6.4M124.5 987.6v6.4M121.5 987.8l6 6M121.5 993.8l6 -6M203.7 926.7h6.4M206.9 923.5v6.4M203.9 923.7l6 6M203.9 929.7l6 -6M95.8 1009.6h6.4M99 1006.4v6.4M96 1006.6l6 6M96 1012.6l6 -6M116.4 995.2h6.4M119.6 992v6.4M116.6 992.2l6 6M116.6 998.2l6 -6M93.9 1010h6.4M97.1 1006.8v6.4M94.1 1007l6 6M94.1 1013l6 -6M119.7 990.1h6.4M122.9 986.9v6.4M119.9 987.1l6 6M119.9 993.1l6 -6M190.6 936.4h6.4M193.8 933.2v6.4M190.8 933.4l6 6M190.8 939.4l6 -6M200.3 919.3h6.4M203.5 916.1v6.4M200.5 916.3l6 6M200.5 922.3l6 -6M94.5 1011.4h6.4M97.7 1008.2v6.4M94.7 1008.4l6 6M94.7 1014.4l6 -6M106 1000h6.4M109.2 996.8v6.4M106.2 997l6 6M106.2 1003l6 -6M167.1 951.8h6.4M170.3 948.6v6.4M167.3 948.8l6 6M167.3 954.8l6 -6M102 1002.5h6.4M105.2 999.3v6.4M102.2 999.5l6 6M102.2 1005.5l6 -6M91.3 1013.5h6.4M94.5 1010.3v6.4M91.5 1010.5l6 6M91.5 1016.5l6 -6M210.9 919.6h6.4M214.1 916.4v6.4M211.1 916.6l6 6M211.1 922.6l6 -6M92.8 1012.6h6.4M96 1009.4v6.4M93 1009.6l6 6M93 1015.6l6 -6M215.5 921.9h6.4M218.7 918.7v6.4M215.7 918.9l6 6M215.7 924.9l6 -6M142.5 971.2h6.4M145.7 968v6.4M142.7 968.2l6 6M142.7 974.2l6 -6M117.6 994h6.4M120.8 990.8v6.4M117.8 991l6 6M117.8 997l6 -6M109.6 998h6.4M112.8 994.8v6.4M109.8 995l6 6M109.8 1001l6 -6M116.8 993.9h6.4M120 990.7v6.4M117 990.9l6 6M117 996.9l6 -6M219.7 902.2h6.4M222.9 899v6.4M219.9 899.2l6 6M219.9 905.2l6 -6M140.2 980.5h6.4M143.4 977.3v6.4M140.4 977.5l6 6M140.4 983.5l6 -6M97.1 1008.2h6.4M100.3 1005v6.4M97.3 1005.2l6 6M97.3 1011.2l6 -6M136.3 976.9h6.4M139.5 973.7v6.4M136.5 973.9l6 6M136.5 979.9l6 -6M108.7 999.3h6.4M111.9 996.1v6.4M108.9 996.3l6 6M108.9 1002.3l6 -6M216.8 916.7h6.4M220 913.5v6.4M217 913.7l6 6M217 919.7l6 -6M99 1005.3h6.4M102.2 1002.1v6.4M99.2 1002.3l6 6M99.2 1008.3l6 -6M126.4 985.9h6.4M129.6 982.7v6.4M126.6 982.9l6 6M126.6 988.9l6 -6M93.4 1011.3h6.4M96.6 1008.1v6.4M93.6 1008.3l6 6M93.6 1014.3l6 -6M103.3 1003.9h6.4M106.5 1000.7v6.4M103.5 1000.9l6 6M103.5 1006.9l6 -6M167.3 953.7h6.4M170.5 950.5v6.4M167.5 950.7l6 6M167.5 956.7l6 -6M142.9 971.4h6.4M146.1 968.2v6.4M143.1 968.4l6 6M143.1 974.4l6 -6M218.8 905.7h6.4M222 902.5v6.4M219 902.7l6 6M219 908.7l6 -6M101.9 1005.9h6.4M105.1 1002.7v6.4M102.1 1002.9l6 6M102.1 1008.9l6 -6M121.8 989.6h6.4M125 986.4v6.4M122 986.6l6 6M122 992.6l6 -6M94.6 1011.6h6.4M97.8 1008.4v6.4M94.8 1008.6l6 6M94.8 1014.6l6 -6M160.7 955.7h6.4M163.9 952.5v6.4M160.9 952.7l6 6M160.9 958.7l6 -6M96.9 1009.5h6.4M100.1 1006.3v6.4M97.1 1006.5l6 6M97.1 1012.5l6 -6M223.6 912.3h6.4M226.8 909.1v6.4M223.8 909.3l6 6M223.8 915.3l6 -6M127 982.9h6.4M130.2 979.7v6.4M127.2 979.9l6 6M127.2 985.9l6 -6M134 978.9h6.4M137.2 975.7v6.4M134.2 975.9l6 6M134.2 981.9l6 -6M114.4 993.9h6.4M117.6 990.7v6.4M114.6 990.9l6 6M114.6 996.9l6 -6M119.2 991.1h6.4M122.4 987.9v6.4M119.4 988.1l6 6M119.4 994.1l6 -6M209.5 915.3h6.4M212.7 912.1v6.4M209.7 912.3l6 6M209.7 918.3l6 -6M182.4 939.4h6.4M185.6 936.2v6.4M182.6 936.4l6 6M182.6 942.4l6 -6M118.2 993.8h6.4M121.4 990.6v6.4M118.4 990.8l6 6M118.4 996.8l6 -6M197.8 926.2h6.4M201 923v6.4M198 923.2l6 6M198 929.2l6 -6M113.1 996.2h6.4M116.3 993v6.4M113.3 993.2l6 6M113.3 999.2l6 -6M96.1 1009.6h6.4M99.3 1006.4v6.4M96.3 1006.6l6 6M96.3 1012.6l6 -6M105.6 1001.3h6.4M108.8 998.1v6.4M105.8 998.3l6 6M105.8 1004.3l6 -6M119.5 991.6h6.4M122.7 988.4v6.4M119.7 988.6l6 6M119.7 994.6l6 -6M120.2 992.1h6.4M123.4 988.9v6.4M120.4 989.1l6 6M120.4 995.1l6 -6M101 1004.2h6.4M104.2 1001v6.4M101.2 1001.2l6 6M101.2 1007.2l6 -6M164 946.7h6.4M167.2 943.5v6.4M164.2 943.7l6 6M164.2 949.7l6 -6M103.5 1003.8h6.4M106.7 1000.6v6.4M103.7 1000.8l6 6M103.7 1006.8l6 -6M153.5 958.8h6.4M156.7 955.6v6.4M153.7 955.8l6 6M153.7 961.8l6 -6M129.4 981.6h6.4M132.6 978.4v6.4M129.6 978.6l6 6M129.6 984.6l6 -6M149.1 969h6.4M152.3 965.8v6.4M149.3 966l6 6M149.3 972l6 -6M215.3 919.3h6.4M218.5 916.1v6.4M215.5 916.3l6 6M215.5 922.3l6 -6M171 950.3h6.4M174.2 947.1v6.4M171.2 947.3l6 6M171.2 953.3l6 -6M145.4 971.1h6.4M148.6 967.9v6.4M145.6 968.1l6 6M145.6 974.1l6 -6M157.6 961.2h6.4M160.8 958v6.4M157.8 958.2l6 6M157.8 964.2l6 -6M130.8 981.7h6.4M134 978.5v6.4M131 978.7l6 6M131 984.7l6 -6M290.6 865.1h6.4M293.8 861.9v6.4M290.8 862.1l6 6M290.8 868.1l6 -6M195.8 923.9h6.4M199 920.7v6.4M196 920.9l6 6M196 926.9l6 -6M98.7 1008.3h6.4M101.9 1005.1v6.4M98.9 1005.3l6 6M98.9 1011.3l6 -6M100.1 1007.2h6.4M103.3 1004v6.4M100.3 1004.2l6 6M100.3 1010.2l6 -6M122.4 986.1h6.4M125.6 982.9v6.4M122.6 983.1l6 6M122.6 989.1l6 -6M217.8 905.9h6.4M221 902.7v6.4M218 902.9l6 6M218 908.9l6 -6M97.8 1006.7h6.4M101 1003.5v6.4M98 1003.7l6 6M98 1009.7l6 -6M103.8 1003h6.4M107 999.8v6.4M104 1000l6 6M104 1006l6 -6M179.2 945.8h6.4M182.4 942.6v6.4M179.4 942.8l6 6M179.4 948.8l6 -6M134 975.7h6.4M137.2 972.5v6.4M134.2 972.7l6 6M134.2 978.7l6 -6M100.7 1005.7h6.4M103.9 1002.5v6.4M100.9 1002.7l6 6M100.9 1008.7l6 -6M90.5 1013.9h6.4M93.7 1010.7v6.4M90.7 1010.9l6 6M90.7 1016.9l6 -6M112.7 997.4h6.4M115.9 994.2v6.4M112.9 994.4l6 6M112.9 1000.4l6 -6M101 1005h6.4M104.2 1001.8v6.4M101.2 1002l6 6M101.2 1008l6 -6M214.8 928.7h6.4M218 925.5v6.4M215 925.7l6 6M215 931.7l6 -6M128.8 981.7h6.4M132 978.5v6.4M129 978.7l6 6M129 984.7l6 -6M131.1 986.4h6.4M134.3 983.2v6.4M131.3 983.4l6 6M131.3 989.4l6 -6M144.3 967.7h6.4M147.5 964.5v6.4M144.5 964.7l6 6M144.5 970.7l6 -6M125.8 989.1h6.4M129 985.9v6.4M126 986.1l6 6M126 992.1l6 -6M104 1002.2h6.4M107.2 999v6.4M104.2 999.2l6 6M104.2 1005.2l6 -6M175.1 935h6.4M178.3 931.8v6.4M175.3 932l6 6M175.3 938l6 -6M175.9 946.5h6.4M179.1 943.3v6.4M176.1 943.5l6 6M176.1 949.5l6 -6M219.7 918.4h6.4M222.9 915.2v6.4M219.9 915.4l6 6M219.9 921.4l6 -6M128 978.9h6.4M131.2 975.7v6.4M128.2 975.9l6 6M128.2 981.9l6 -6M95.9 1009.8h6.4M99.1 1006.6v6.4M96.1 1006.8l6 6M96.1 1012.8l6 -6M239.3 903.3h6.4M242.5 900.1v6.4M239.5 900.3l6 6M239.5 906.3l6 -6M88.1 1015.4h6.4M91.3 1012.2v6.4M88.3 1012.4l6 6M88.3 1018.4l6 -6M98.7 1009.3h6.4M101.9 1006.1v6.4M98.9 1006.3l6 6M98.9 1012.3l6 -6M163.8 961.3h6.4M167 958.1v6.4M164 958.3l6 6M164 964.3l6 -6M203.7 931.2h6.4M206.9 928v6.4M203.9 928.2l6 6M203.9 934.2l6 -6M225.2 910.6h6.4M228.4 907.4v6.4M225.4 907.6l6 6M225.4 913.6l6 -6M139.3 980.8h6.4M142.5 977.6v6.4M139.5 977.8l6 6M139.5 983.8l6 -6M108.5 998.2h6.4M111.7 995v6.4M108.7 995.2l6 6M108.7 1001.2l6 -6M93.4 1010.8h6.4M96.6 1007.6v6.4M93.6 1007.8l6 6M93.6 1013.8l6 -6M176.2 945.2h6.4M179.4 942v6.4M176.4 942.2l6 6M176.4 948.2l6 -6M149.8 967.6h6.4M153 964.4v6.4M150 964.6l6 6M150 970.6l6 -6M96.8 1010.1h6.4M100 1006.9v6.4M97 1007.1l6 6M97 1013.1l6 -6M177.6 941.4h6.4M180.8 938.2v6.4M177.8 938.4l6 6M177.8 944.4l6 -6M225.7 910.4h6.4M228.9 907.2v6.4M225.9 907.4l6 6M225.9 913.4l6 -6M101.6 1004.3h6.4M104.8 1001.1v6.4M101.8 1001.3l6 6M101.8 1007.3l6 -6M145.1 966.5h6.4M148.3 963.3v6.4M145.3 963.5l6 6M145.3 969.5l6 -6M115.7 993.5h6.4M118.9 990.3v6.4M115.9 990.5l6 6M115.9 996.5l6 -6M143.6 978.1h6.4M146.8 974.9v6.4M143.8 975.1l6 6M143.8 981.1l6 -6M94.8 1011.1h6.4M98 1007.9v6.4M95 1008.1l6 6M95 1014.1l6 -6M218.7 900.8h6.4M221.9 897.6v6.4M218.9 897.8l6 6M218.9 903.8l6 -6M108.7 998.8h6.4M111.9 995.6v6.4M108.9 995.8l6 6M108.9 1001.8l6 -6M148.2 962.4h6.4M151.4 959.2v6.4M148.4 959.4l6 6M148.4 965.4l6 -6M105.1 1004.8h6.4M108.3 1001.6v6.4M105.3 1001.8l6 6M105.3 1007.8l6 -6M101.4 1005.2h6.4M104.6 1002v6.4M101.6 1002.2l6 6M101.6 1008.2l6 -6M237.7 896.8h6.4M240.9 893.6v6.4M237.9 893.8l6 6M237.9 899.8l6 -6M104.5 1004.6h6.4M107.7 1001.4v6.4M104.7 1001.6l6 6M104.7 1007.6l6 -6M231 905.8h6.4M234.2 902.6v6.4M231.2 902.8l6 6M231.2 908.8l6 -6M206.8 913.7h6.4M210 910.5v6.4M207 910.7l6 6M207 916.7l6 -6M133.1 978.1h6.4M136.3 974.9v6.4M133.3 975.1l6 6M133.3 981.1l6 -6M136.4 978.5h6.4M139.6 975.3v6.4M136.6 975.5l6 6M136.6 981.5l6 -6M89.5 1014.6h6.4M92.7 1011.4v6.4M89.7 1011.6l6 6M89.7 1017.6l6 -6M182.5 933.5h6.4M185.7 930.3v6.4M182.7 930.5l6 6M182.7 936.5l6 -6M159 963.2h6.4M162.2 960v6.4M159.2 960.2l6 6M159.2 966.2l6 -6M138.8 974.1h6.4M142 970.9v6.4M139 971.1l6 6M139 977.1l6 -6M194.6 923.9h6.4M197.8 920.7v6.4M194.8 920.9l6 6M194.8 926.9l6 -6M124.8 987.8h6.4M128 984.6v6.4M125 984.8l6 6M125 990.8l6 -6M119.7 987.7h6.4M122.9 984.5v6.4M119.9 984.7l6 6M119.9 990.7l6 -6M174.2 946.9h6.4M177.4 943.7v6.4M174.4 943.9l6 6M174.4 949.9l6 -6M125.9 982.8h6.4M129.1 979.6v6.4M126.1 979.8l6 6M126.1 985.8l6 -6M145.7 966.2h6.4M148.9 963v6.4M145.9 963.2l6 6M145.9 969.2l6 -6M101.7 1004.6h6.4M104.9 1001.4v6.4M101.9 1001.6l6 6M101.9 1007.6l6 -6M99.1 1007.3h6.4M102.3 1004.1v6.4M99.3 1004.3l6 6M99.3 1010.3l6 -6M98.5 1008h6.4M101.7 1004.8v6.4M98.7 1005l6 6M98.7 1011l6 -6M193.9 929.6h6.4M197.1 926.4v6.4M194.1 926.6l6 6M194.1 932.6l6 -6M288 852.5h6.4M291.2 849.3v6.4M288.2 849.5l6 6M288.2 855.5l6 -6M248.9 873.9h6.4M252.1 870.7v6.4M249.1 870.9l6 6M249.1 876.9l6 -6M133.7 979.3h6.4M136.9 976.1v6.4M133.9 976.3l6 6M133.9 982.3l6 -6M187.4 933.9h6.4M190.6 930.7v6.4M187.6 930.9l6 6M187.6 936.9l6 -6M97.5 1006.8h6.4M100.7 1003.6v6.4M97.7 1003.8l6 6M97.7 1009.8l6 -6M115.1 993.5h6.4M118.3 990.3v6.4M115.3 990.5l6 6M115.3 996.5l6 -6M221.5 905h6.4M224.7 901.8v6.4M221.7 902l6 6M221.7 908l6 -6M109.6 996.1h6.4M112.8 992.9v6.4M109.8 993.1l6 6M109.8 999.1l6 -6M98.6 1007.3h6.4M101.8 1004.1v6.4M98.8 1004.3l6 6M98.8 1010.3l6 -6M122.1 987.6h6.4M125.3 984.4v6.4M122.3 984.6l6 6M122.3 990.6l6 -6M184.6 933.9h6.4M187.8 930.7v6.4M184.8 930.9l6 6M184.8 936.9l6 -6M265.6 874h6.4M268.8 870.8v6.4M265.8 871l6 6M265.8 877l6 -6M91.8 1013.5h6.4M95 1010.3v6.4M92 1010.5l6 6M92 1016.5l6 -6M147 973.4h6.4M150.2 970.2v6.4M147.2 970.4l6 6M147.2 976.4l6 -6M199.9 927h6.4M203.1 923.8v6.4M200.1 924l6 6M200.1 930l6 -6M197.1 921.1h6.4M200.3 917.9v6.4M197.3 918.1l6 6M197.3 924.1l6 -6M217.7 904.3h6.4M220.9 901.1v6.4M217.9 901.3l6 6M217.9 907.3l6 -6M147.1 962.6h6.4M150.3 959.4v6.4M147.3 959.6l6 6M147.3 965.6l6 -6M204.5 916.2h6.4M207.7 913v6.4M204.7 913.2l6 6M204.7 919.2l6 -6M118.8 992.3h6.4M122 989.1v6.4M119 989.3l6 6M119 995.3l6 -6M139.2 979.1h6.4M142.4 975.9v6.4M139.4 976.1l6 6M139.4 982.1l6 -6M135.7 979h6.4M138.9 975.8v6.4M135.9 976l6 6M135.9 982l6 -6M121 989.8h6.4M124.2 986.6v6.4M121.2 986.8l6 6M121.2 992.8l6 -6M122.6 989.6h6.4M125.8 986.4v6.4M122.8 986.6l6 6M122.8 992.6l6 -6M163.9 950.8h6.4M167.1 947.6v6.4M164.1 947.8l6 6M164.1 953.8l6 -6M98.2 1008.4h6.4M101.4 1005.2v6.4M98.4 1005.4l6 6M98.4 1011.4l6 -6M199.7 922.3h6.4M202.9 919.1v6.4M199.9 919.3l6 6M199.9 925.3l6 -6M167.1 948.6h6.4M170.3 945.4v6.4M167.3 945.6l6 6M167.3 951.6l6 -6M98.7 1008.9h6.4M101.9 1005.7v6.4M98.9 1005.9l6 6M98.9 1011.9l6 -6M113 996.5h6.4M116.2 993.3v6.4M113.2 993.5l6 6M113.2 999.5l6 -6M203.1 915.2h6.4M206.3 912v6.4M203.3 912.2l6 6M203.3 918.2l6 -6M116.5 991.3h6.4M119.7 988.1v6.4M116.7 988.3l6 6M116.7 994.3l6 -6M203.7 921.9h6.4M206.9 918.7v6.4M203.9 918.9l6 6M203.9 924.9l6 -6M116.7 994.8h6.4M119.9 991.6v6.4M116.9 991.8l6 6M116.9 997.8l6 -6M288.7 861.9h6.4M291.9 858.7v6.4M288.9 858.9l6 6M288.9 864.9l6 -6M119.4 990.4h6.4M122.6 987.2v6.4M119.6 987.4l6 6M119.6 993.4l6 -6M260.2 865.4h6.4M263.4 862.2v6.4M260.4 862.4l6 6M260.4 868.4l6 -6M117.8 990.9h6.4M121 987.7v6.4M118 987.9l6 6M118 993.9l6 -6M115.6 993.8h6.4M118.8 990.6v6.4M115.8 990.8l6 6M115.8 996.8l6 -6M102.3 1004.1h6.4M105.5 1000.9v6.4M102.5 1001.1l6 6M102.5 1007.1l6 -6M187.6 931.3h6.4M190.8 928.1v6.4M187.8 928.3l6 6M187.8 934.3l6 -6M96.6 1010.4h6.4M99.8 1007.2v6.4M96.8 1007.4l6 6M96.8 1013.4l6 -6M186.7 941.9h6.4M189.9 938.7v6.4M186.9 938.9l6 6M186.9 944.9l6 -6M126.3 984.9h6.4M129.5 981.7v6.4M126.5 981.9l6 6M126.5 987.9l6 -6M206.7 912.3h6.4M209.9 909.1v6.4M206.9 909.3l6 6M206.9 915.3l6 -6M142.3 968.7h6.4M145.5 965.5v6.4M142.5 965.7l6 6M142.5 971.7l6 -6M225.9 910.7h6.4M229.1 907.5v6.4M226.1 907.7l6 6M226.1 913.7l6 -6M130 982h6.4M133.2 978.8v6.4M130.2 979l6 6M130.2 985l6 -6M106 1002.4h6.4M109.2 999.2v6.4M106.2 999.4l6 6M106.2 1005.4l6 -6M224.6 908.9h6.4M227.8 905.7v6.4M224.8 905.9l6 6M224.8 911.9l6 -6M215.1 912.5h6.4M218.3 909.3v6.4M215.3 909.5l6 6M215.3 915.5l6 -6M199.8 928.1h6.4M203 924.9v6.4M200 925.1l6 6M200 931.1l6 -6M143.2 973.3h6.4M146.4 970.1v6.4M143.4 970.3l6 6M143.4 976.3l6 -6M105.6 1003.2h6.4M108.8 1000v6.4M105.8 1000.2l6 6M105.8 1006.2l6 -6M86.8 1017.3h6.4M90 1014.1v6.4M87 1014.3l6 6M87 1020.3l6 -6M195.9 930.2h6.4M199.1 927v6.4M196.1 927.2l6 6M196.1 933.2l6 -6M154.9 961.3h6.4M158.1 958.1v6.4M155.1 958.3l6 6M155.1 964.3l6 -6M121 988h6.4M124.2 984.8v6.4M121.2 985l6 6M121.2 991l6 -6M132.1 982.6h6.4M135.3 979.4v6.4M132.3 979.6l6 6M132.3 985.6l6 -6M186.4 940.7h6.4M189.6 937.5v6.4M186.6 937.7l6 6M186.6 943.7l6 -6M106.4 999.4h6.4M109.6 996.2v6.4M106.6 996.4l6 6M106.6 1002.4l6 -6M90.5 1013.7h6.4M93.7 1010.5v6.4M90.7 1010.7l6 6M90.7 1016.7l6 -6M97.6 1007.3h6.4M100.8 1004.1v6.4M97.8 1004.3l6 6M97.8 1010.3l6 -6M271.9 873.5h6.4M275.1 870.3v6.4M272.1 870.5l6 6M272.1 876.5l6 -6M101.8 1005.5h6.4M105 1002.3v6.4M102 1002.5l6 6M102 1008.5l6 -6M254.1 892.6h6.4M257.3 889.4v6.4M254.3 889.6l6 6M254.3 895.6l6 -6M89.7 1014.1h6.4M92.9 1010.9v6.4M89.9 1011.1l6 6M89.9 1017.1l6 -6M156.7 965.1h6.4M159.9 961.9v6.4M156.9 962.1l6 6M156.9 968.1l6 -6M132.9 984.4h6.4M136.1 981.2v6.4M133.1 981.4l6 6M133.1 987.4l6 -6M124.8 988h6.4M128 984.8v6.4M125 985l6 6M125 991l6 -6M87.2 1016.1h6.4M90.4 1012.9v6.4M87.4 1013.1l6 6M87.4 1019.1l6 -6M135.3 977.7h6.4M138.5 974.5v6.4M135.5 974.7l6 6M135.5 980.7l6 -6M143.7 970.3h6.4M146.9 967.1v6.4M143.9 967.3l6 6M143.9 973.3l6 -6M199.9 925h6.4M203.1 921.8v6.4M200.1 922l6 6M200.1 928l6 -6M200.1 925.9h6.4M203.3 922.7v6.4M200.3 922.9l6 6M200.3 928.9l6 -6M195.2 930.5h6.4M198.4 927.3v6.4M195.4 927.5l6 6M195.4 933.5l6 -6M90.4 1014.7h6.4M93.6 1011.5v6.4M90.6 1011.7l6 6M90.6 1017.7l6 -6M212 904.6h6.4M215.2 901.4v6.4M212.2 901.6l6 6M212.2 907.6l6 -6M131.9 980.9h6.4M135.1 977.7v6.4M132.1 977.9l6 6M132.1 983.9l6 -6M211.4 908.3h6.4M214.6 905.1v6.4M211.6 905.3l6 6M211.6 911.3l6 -6M217.2 923h6.4M220.4 919.8v6.4M217.4 920l6 6M217.4 926l6 -6M93.9 1010.8h6.4M97.1 1007.6v6.4M94.1 1007.8l6 6M94.1 1013.8l6 -6M117.2 994.6h6.4M120.4 991.4v6.4M117.4 991.6l6 6M117.4 997.6l6 -6M129.1 986h6.4M132.3 982.8v6.4M129.3 983l6 6M129.3 989l6 -6M143.6 970.2h6.4M146.8 967v6.4M143.8 967.2l6 6M143.8 973.2l6 -6M221.7 900.6h6.4M224.9 897.4v6.4M221.9 897.6l6 6M221.9 903.6l6 -6M91.7 1012.1h6.4M94.9 1008.9v6.4M91.9 1009.1l6 6M91.9 1015.1l6 -6M145 965.5h6.4M148.2 962.3v6.4M145.2 962.5l6 6M145.2 968.5l6 -6M128.1 984.3h6.4M131.3 981.1v6.4M128.3 981.3l6 6M128.3 987.3l6 -6M96.7 1008.2h6.4M99.9 1005v6.4M96.9 1005.2l6 6M96.9 1011.2l6 -6M162.9 958.1h6.4M166.1 954.9v6.4M163.1 955.1l6 6M163.1 961.1l6 -6M176.8 947.1h6.4M180 943.9v6.4M177 944.1l6 6M177 950.1l6 -6M95.4 1009.8h6.4M98.6 1006.6v6.4M95.6 1006.8l6 6M95.6 1012.8l6 -6M94.3 1010.9h6.4M97.5 1007.7v6.4M94.5 1007.9l6 6M94.5 1013.9l6 -6M125 984.1h6.4M128.2 980.9v6.4M125.2 981.1l6 6M125.2 987.1l6 -6M235.8 911.7h6.4M239 908.5v6.4M236 908.7l6 6M236 914.7l6 -6M201.8 917.1h6.4M205 913.9v6.4M202 914.1l6 6M202 920.1l6 -6M154.2 964.8h6.4M157.4 961.6v6.4M154.4 961.8l6 6M154.4 967.8l6 -6M116.2 990.4h6.4M119.4 987.2v6.4M116.4 987.4l6 6M116.4 993.4l6 -6M231.7 891.2h6.4M234.9 888v6.4M231.9 888.2l6 6M231.9 894.2l6 -6M124.6 989h6.4M127.8 985.8v6.4M124.8 986l6 6M124.8 992l6 -6M96.1 1009.4h6.4M99.3 1006.2v6.4M96.3 1006.4l6 6M96.3 1012.4l6 -6M145.6 967.2h6.4M148.8 964v6.4M145.8 964.2l6 6M145.8 970.2l6 -6M95.1 1010.7h6.4M98.3 1007.5v6.4M95.3 1007.7l6 6M95.3 1013.7l6 -6M210.4 922.3h6.4M213.6 919.1v6.4M210.6 919.3l6 6M210.6 925.3l6 -6M127 985.2h6.4M130.2 982v6.4M127.2 982.2l6 6M127.2 988.2l6 -6M175.3 941.9h6.4M178.5 938.7v6.4M175.5 938.9l6 6M175.5 944.9l6 -6M203.9 916.7h6.4M207.1 913.5v6.4M204.1 913.7l6 6M204.1 919.7l6 -6M187.8 937.9h6.4M191 934.7v6.4M188 934.9l6 6M188 940.9l6 -6M185.8 932.6h6.4M189 929.4v6.4M186 929.6l6 6M186 935.6l6 -6M187.4 927.7h6.4M190.6 924.5v6.4M187.6 924.7l6 6M187.6 930.7l6 -6M115.7 991.9h6.4M118.9 988.7v6.4M115.9 988.9l6 6M115.9 994.9l6 -6M93.4 1012h6.4M96.6 1008.8v6.4M93.6 1009l6 6M93.6 1015l6 -6M103.9 1004.1h6.4M107.1 1000.9v6.4M104.1 1001.1l6 6M104.1 1007.1l6 -6M151.6 963.6h6.4M154.8 960.4v6.4M151.8 960.6l6 6M151.8 966.6l6 -6M110.7 996.3h6.4M113.9 993.1v6.4M110.9 993.3l6 6M110.9 999.3l6 -6M266.3 868.1h6.4M269.5 864.9v6.4M266.5 865.1l6 6M266.5 871.1l6 -6M109 999.5h6.4M112.2 996.3v6.4M109.2 996.5l6 6M109.2 1002.5l6 -6M167.5 956.1h6.4M170.7 952.9v6.4M167.7 953.1l6 6M167.7 959.1l6 -6M95.9 1008.5h6.4M99.1 1005.3v6.4M96.1 1005.5l6 6M96.1 1011.5l6 -6M121.6 989.1h6.4M124.8 985.9v6.4M121.8 986.1l6 6M121.8 992.1l6 -6M193.2 920.2h6.4M196.4 917v6.4M193.4 917.2l6 6M193.4 923.2l6 -6M217.6 919.7h6.4M220.8 916.5v6.4M217.8 916.7l6 6M217.8 922.7l6 -6M89.9 1014.5h6.4M93.1 1011.3v6.4M90.1 1011.5l6 6M90.1 1017.5l6 -6M193.1 935h6.4M196.3 931.8v6.4M193.3 932l6 6M193.3 938l6 -6M240.3 877.9h6.4M243.5 874.7v6.4M240.5 874.9l6 6M240.5 880.9l6 -6M93.6 1010.6h6.4M96.8 1007.4v6.4M93.8 1007.6l6 6M93.8 1013.6l6 -6M196.7 931.3h6.4M199.9 928.1v6.4M196.9 928.3l6 6M196.9 934.3l6 -6M93.1 1013h6.4M96.3 1009.8v6.4M93.3 1010l6 6M93.3 1016l6 -6M155.1 957.4h6.4M158.3 954.2v6.4M155.3 954.4l6 6M155.3 960.4l6 -6M268.9 868.9h6.4M272.1 865.7v6.4M269.1 865.9l6 6M269.1 871.9l6 -6M95.1 1011h6.4M98.3 1007.8v6.4M95.3 1008l6 6M95.3 1014l6 -6M180.5 949.2h6.4M183.7 946v6.4M180.7 946.2l6 6M180.7 952.2l6 -6M95.7 1009.4h6.4M98.9 1006.2v6.4M95.9 1006.4l6 6M95.9 1012.4l6 -6M140.1 974.6h6.4M143.3 971.4v6.4M140.3 971.6l6 6M140.3 977.6l6 -6M112.7 995.7h6.4M115.9 992.5v6.4M112.9 992.7l6 6M112.9 998.7l6 -6M134.5 977.3h6.4M137.7 974.1v6.4M134.7 974.3l6 6M134.7 980.3l6 -6M182.6 941.6h6.4M185.8 938.4v6.4M182.8 938.6l6 6M182.8 944.6l6 -6M99.2 1007.1h6.4M102.4 1003.9v6.4M99.4 1004.1l6 6M99.4 1010.1l6 -6M106.9 999.8h6.4M110.1 996.6v6.4M107.1 996.8l6 6M107.1 1002.8l6 -6M96.6 1009.1h6.4M99.8 1005.9v6.4M96.8 1006.1l6 6M96.8 1012.1l6 -6M116.9 993.2h6.4M120.1 990v6.4M117.1 990.2l6 6M117.1 996.2l6 -6M97.6 1007.6h6.4M100.8 1004.4v6.4M97.8 1004.6l6 6M97.8 1010.6l6 -6M91.8 1013.9h6.4M95 1010.7v6.4M92 1010.9l6 6M92 1016.9l6 -6M173.1 941.3h6.4M176.3 938.1v6.4M173.3 938.3l6 6M173.3 944.3l6 -6M165 951.9h6.4M168.2 948.7v6.4M165.2 948.9l6 6M165.2 954.9l6 -6M90 1014.6h6.4M93.2 1011.4v6.4M90.2 1011.6l6 6M90.2 1017.6l6 -6M153.8 963.5h6.4M157 960.3v6.4M154 960.5l6 6M154 966.5l6 -6M156 956.3h6.4M159.2 953.1v6.4M156.2 953.3l6 6M156.2 959.3l6 -6M113.6 994.3h6.4M116.8 991.1v6.4M113.8 991.3l6 6M113.8 997.3l6 -6M108.6 1001.8h6.4M111.8 998.6v6.4M108.8 998.8l6 6M108.8 1004.8l6 -6M104 1004.2h6.4M107.2 1001v6.4M104.2 1001.2l6 6M104.2 1007.2l6 -6M145.6 968.9h6.4M148.8 965.7v6.4M145.8 965.9l6 6M145.8 971.9l6 -6M95.8 1008.2h6.4M99 1005v6.4M96 1005.2l6 6M96 1011.2l6 -6M134.4 976.4h6.4M137.6 973.2v6.4M134.6 973.4l6 6M134.6 979.4l6 -6M116.2 993.5h6.4M119.4 990.3v6.4M116.4 990.5l6 6M116.4 996.5l6 -6M129.9 980.6h6.4M133.1 977.4v6.4M130.1 977.6l6 6M130.1 983.6l6 -6M182 940h6.4M185.2 936.8v6.4M182.2 937l6 6M182.2 943l6 -6M105.3 1002.3h6.4M108.5 999.1v6.4M105.5 999.3l6 6M105.5 1005.3l6 -6M110 997.6h6.4M113.2 994.4v6.4M110.2 994.6l6 6M110.2 1000.6l6 -6M126.9 989.7h6.4M130.1 986.5v6.4M127.1 986.7l6 6M127.1 992.7l6 -6M114.2 993h6.4M117.4 989.8v6.4M114.4 990l6 6M114.4 996l6 -6M158.2 957.1h6.4M161.4 953.9v6.4M158.4 954.1l6 6M158.4 960.1l6 -6M96.1 1009.7h6.4M99.3 1006.5v6.4M96.3 1006.7l6 6M96.3 1012.7l6 -6M217.1 917.9h6.4M220.3 914.7v6.4M217.3 914.9l6 6M217.3 920.9l6 -6M227.8 912.4h6.4M231 909.2v6.4M228 909.4l6 6M228 915.4l6 -6M93.7 1011.1h6.4M96.9 1007.9v6.4M93.9 1008.1l6 6M93.9 1014.1l6 -6M126.3 984.6h6.4M129.5 981.4v6.4M126.5 981.6l6 6M126.5 987.6l6 -6M111.8 996.4h6.4M115 993.2v6.4M112 993.4l6 6M112 999.4l6 -6M114.2 991.8h6.4M117.4 988.6v6.4M114.4 988.8l6 6M114.4 994.8l6 -6M100.9 1007.7h6.4M104.1 1004.5v6.4M101.1 1004.7l6 6M101.1 1010.7l6 -6M134.5 980.4h6.4M137.7 977.2v6.4M134.7 977.4l6 6M134.7 983.4l6 -6M192.5 936.1h6.4M195.7 932.9v6.4M192.7 933.1l6 6M192.7 939.1l6 -6M105.5 1000.6h6.4M108.7 997.4v6.4M105.7 997.6l6 6M105.7 1003.6l6 -6M187.8 936.8h6.4M191 933.6v6.4M188 933.8l6 6M188 939.8l6 -6M177.9 948.1h6.4M181.1 944.9v6.4M178.1 945.1l6 6M178.1 951.1l6 -6M146.7 967.9h6.4M149.9 964.7v6.4M146.9 964.9l6 6M146.9 970.9l6 -6M215.7 910.1h6.4M218.9 906.9v6.4M215.9 907.1l6 6M215.9 913.1l6 -6M142.2 967.1h6.4M145.4 963.9v6.4M142.4 964.1l6 6M142.4 970.1l6 -6M190.8 931.5h6.4M194 928.3v6.4M191 928.5l6 6M191 934.5l6 -6M237.2 899.2h6.4M240.4 896v6.4M237.4 896.2l6 6M237.4 902.2l6 -6M203.3 926.1h6.4M206.5 922.9v6.4M203.5 923.1l6 6M203.5 929.1l6 -6M138 978h6.4M141.2 974.8v6.4M138.2 975l6 6M138.2 981l6 -6M108.4 998.8h6.4M111.6 995.6v6.4M108.6 995.8l6 6M108.6 1001.8l6 -6M142.4 969.4h6.4M145.6 966.2v6.4M142.6 966.4l6 6M142.6 972.4l6 -6M168.2 952.2h6.4M171.4 949v6.4M168.4 949.2l6 6M168.4 955.2l6 -6M171.5 949.2h6.4M174.7 946v6.4M171.7 946.2l6 6M171.7 952.2l6 -6M116.3 990.6h6.4M119.5 987.4v6.4M116.5 987.6l6 6M116.5 993.6l6 -6M180.8 940.5h6.4M184 937.3v6.4M181 937.5l6 6M181 943.5l6 -6M111.3 996.3h6.4M114.5 993.1v6.4M111.5 993.3l6 6M111.5 999.3l6 -6M94.8 1011.2h6.4M98 1008v6.4M95 1008.2l6 6M95 1014.2l6 -6M236.3 901.2h6.4M239.5 898v6.4M236.5 898.2l6 6M236.5 904.2l6 -6M216.7 927.2h6.4M219.9 924v6.4M216.9 924.2l6 6M216.9 930.2l6 -6M117.6 994.6h6.4M120.8 991.4v6.4M117.8 991.6l6 6M117.8 997.6l6 -6M135.2 976.8h6.4M138.4 973.6v6.4M135.4 973.8l6 6M135.4 979.8l6 -6M87.5 1015.9h6.4M90.7 1012.7v6.4M87.7 1012.9l6 6M87.7 1018.9l6 -6M233.4 900.7h6.4M236.6 897.5v6.4M233.6 897.7l6 6M233.6 903.7l6 -6M112.9 997.8h6.4M116.1 994.6v6.4M113.1 994.8l6 6M113.1 1000.8l6 -6M145.8 969h6.4M149 965.8v6.4M146 966l6 6M146 972l6 -6M94.6 1009.8h6.4M97.8 1006.6v6.4M94.8 1006.8l6 6M94.8 1012.8l6 -6M96.5 1009.2h6.4M99.7 1006v6.4M96.7 1006.2l6 6M96.7 1012.2l6 -6M139.3 971.7h6.4M142.5 968.5v6.4M139.5 968.7l6 6M139.5 974.7l6 -6M158.3 959.4h6.4M161.5 956.2v6.4M158.5 956.4l6 6M158.5 962.4l6 -6M257.9 890.2h6.4M261.1 887v6.4M258.1 887.2l6 6M258.1 893.2l6 -6M167.4 955.9h6.4M170.6 952.7v6.4M167.6 952.9l6 6M167.6 958.9l6 -6M142.5 972.8h6.4M145.7 969.6v6.4M142.7 969.8l6 6M142.7 975.8l6 -6M142.9 964.6h6.4M146.1 961.4v6.4M143.1 961.6l6 6M143.1 967.6l6 -6M109.1 998h6.4M112.3 994.8v6.4M109.3 995l6 6M109.3 1001l6 -6M113.9 995.4h6.4M117.1 992.2v6.4M114.1 992.4l6 6M114.1 998.4l6 -6M147.8 966.6h6.4M151 963.4v6.4M148 963.6l6 6M148 969.6l6 -6M97.1 1008.3h6.4M100.3 1005.1v6.4M97.3 1005.3l6 6M97.3 1011.3l6 -6M108.4 1000.1h6.4M111.6 996.9v6.4M108.6 997.1l6 6M108.6 1003.1l6 -6M102.1 1004.6h6.4M105.3 1001.4v6.4M102.3 1001.6l6 6M102.3 1007.6l6 -6M93.3 1011.8h6.4M96.5 1008.6v6.4M93.5 1008.8l6 6M93.5 1014.8l6 -6M120.1 988.5h6.4M123.3 985.3v6.4M120.3 985.5l6 6M120.3 991.5l6 -6M113.9 992.3h6.4M117.1 989.1v6.4M114.1 989.3l6 6M114.1 995.3l6 -6M136.8 972.7h6.4M140 969.5v6.4M137 969.7l6 6M137 975.7l6 -6M115.7 994.1h6.4M118.9 990.9v6.4M115.9 991.1l6 6M115.9 997.1l6 -6M92.5 1012h6.4M95.7 1008.8v6.4M92.7 1009l6 6M92.7 1015l6 -6M205.7 925.7h6.4M208.9 922.5v6.4M205.9 922.7l6 6M205.9 928.7l6 -6M91.5 1013.7h6.4M94.7 1010.5v6.4M91.7 1010.7l6 6M91.7 1016.7l6 -6M90.4 1013.9h6.4M93.6 1010.7v6.4M90.6 1010.9l6 6M90.6 1016.9l6 -6M92.4 1011.9h6.4M95.6 1008.7v6.4M92.6 1008.9l6 6M92.6 1014.9l6 -6M186.5 936.8h6.4M189.7 933.6v6.4M186.7 933.8l6 6M186.7 939.8l6 -6M111.9 995.3h6.4M115.1 992.1v6.4M112.1 992.3l6 6M112.1 998.3l6 -6M226.5 897.9h6.4M229.7 894.7v6.4M226.7 894.9l6 6M226.7 900.9l6 -6M111.1 996.1h6.4M114.3 992.9v6.4M111.3 993.1l6 6M111.3 999.1l6 -6M117.3 992.6h6.4M120.5 989.4v6.4M117.5 989.6l6 6M117.5 995.6l6 -6M164.3 960.2h6.4M167.5 957v6.4M164.5 957.2l6 6M164.5 963.2l6 -6M226.8 890.4h6.4M230 887.2v6.4M227 887.4l6 6M227 893.4l6 -6M219.6 913.2h6.4M222.8 910v6.4M219.8 910.2l6 6M219.8 916.2l6 -6M113.9 993.8h6.4M117.1 990.6v6.4M114.1 990.8l6 6M114.1 996.8l6 -6M158.1 957.4h6.4M161.3 954.2v6.4M158.3 954.4l6 6M158.3 960.4l6 -6M92.8 1012.2h6.4M96 1009v6.4M93 1009.2l6 6M93 1015.2l6 -6M138.7 969.5h6.4M141.9 966.3v6.4M138.9 966.5l6 6M138.9 972.5l6 -6M147.7 965.4h6.4M150.9 962.2v6.4M147.9 962.4l6 6M147.9 968.4l6 -6M110.5 997.8h6.4M113.7 994.6v6.4M110.7 994.8l6 6M110.7 1000.8l6 -6M152.2 965.6h6.4M155.4 962.4v6.4M152.4 962.6l6 6M152.4 968.6l6 -6M109 1000.4h6.4M112.2 997.2v6.4M109.2 997.4l6 6M109.2 1003.4l6 -6M184.8 944.6h6.4M188 941.4v6.4M185 941.6l6 6M185 947.6l6 -6M92 1012.3h6.4M95.2 1009.1v6.4M92.2 1009.3l6 6M92.2 1015.3l6 -6M132.6 981.1h6.4M135.8 977.9v6.4M132.8 978.1l6 6M132.8 984.1l6 -6M225.1 908.8h6.4M228.3 905.6v6.4M225.3 905.8l6 6M225.3 911.8l6 -6M148.9 965h6.4M152.1 961.8v6.4M149.1 962l6 6M149.1 968l6 -6M222.9 909.7h6.4M226.1 906.5v6.4M223.1 906.7l6 6M223.1 912.7l6 -6M226.8 899h6.4M230 895.8v6.4M227 896l6 6M227 902l6 -6M182.5 943.1h6.4M185.7 939.9v6.4M182.7 940.1l6 6M182.7 946.1l6 -6M191.6 935.3h6.4M194.8 932.1v6.4M191.8 932.3l6 6M191.8 938.3l6 -6M176 940.4h6.4M179.2 937.2v6.4M176.2 937.4l6 6M176.2 943.4l6 -6M130.7 983.2h6.4M133.9 980v6.4M130.9 980.2l6 6M130.9 986.2l6 -6M186.5 933.1h6.4M189.7 929.9v6.4M186.7 930.1l6 6M186.7 936.1l6 -6M188.6 931.9h6.4M191.8 928.7v6.4M188.8 928.9l6 6M188.8 934.9l6 -6M206.7 920.1h6.4M209.9 916.9v6.4M206.9 917.1l6 6M206.9 923.1l6 -6M86.6 1017.5h6.4M89.8 1014.3v6.4M86.8 1014.5l6 6M86.8 1020.5l6 -6M89.8 1015h6.4M93 1011.8v6.4M90 1012l6 6M90 1018l6 -6M123.1 989.9h6.4M126.3 986.7v6.4M123.3 986.9l6 6M123.3 992.9l6 -6M171.1 954.9h6.4M174.3 951.7v6.4M171.3 951.9l6 6M171.3 957.9l6 -6M118.5 989.6h6.4M121.7 986.4v6.4M118.7 986.6l6 6M118.7 992.6l6 -6M115.6 995.2h6.4M118.8 992v6.4M115.8 992.2l6 6M115.8 998.2l6 -6M89.7 1015h6.4M92.9 1011.8v6.4M89.9 1012l6 6M89.9 1018l6 -6M146 970.8h6.4M149.2 967.6v6.4M146.2 967.8l6 6M146.2 973.8l6 -6M236.2 897.2h6.4M239.4 894v6.4M236.4 894.2l6 6M236.4 900.2l6 -6M142.9 977h6.4M146.1 973.8v6.4M143.1 974l6 6M143.1 980l6 -6M102.6 1003.4h6.4M105.8 1000.2v6.4M102.8 1000.4l6 6M102.8 1006.4l6 -6M148.2 964.8h6.4M151.4 961.6v6.4M148.4 961.8l6 6M148.4 967.8l6 -6M112.5 997.1h6.4M115.7 993.9v6.4M112.7 994.1l6 6M112.7 1000.1l6 -6M111.8 995.4h6.4M115 992.2v6.4M112 992.4l6 6M112 998.4l6 -6M92 1013.5h6.4M95.2 1010.3v6.4M92.2 1010.5l6 6M92.2 1016.5l6 -6M168.8 953.2h6.4M172 950v6.4M169 950.2l6 6M169 956.2l6 -6M89 1015.1h6.4M92.2 1011.9v6.4M89.2 1012.1l6 6M89.2 1018.1l6 -6M199.7 925.4h6.4M202.9 922.2v6.4M199.9 922.4l6 6M199.9 928.4l6 -6M88.7 1014.8h6.4M91.9 1011.6v6.4M88.9 1011.8l6 6M88.9 1017.8l6 -6M187.1 937.8h6.4M190.3 934.6v6.4M187.3 934.8l6 6M187.3 940.8l6 -6M112.4 997.9h6.4M115.6 994.7v6.4M112.6 994.9l6 6M112.6 1000.9l6 -6M114.4 994.2h6.4M117.6 991v6.4M114.6 991.2l6 6M114.6 997.2l6 -6M126.5 984.5h6.4M129.7 981.3v6.4M126.7 981.5l6 6M126.7 987.5l6 -6M98.6 1006.9h6.4M101.8 1003.7v6.4M98.8 1003.9l6 6M98.8 1009.9l6 -6M101.7 1005.2h6.4M104.9 1002v6.4M101.9 1002.2l6 6M101.9 1008.2l6 -6M170.5 948.6h6.4M173.7 945.4v6.4M170.7 945.6l6 6M170.7 951.6l6 -6M218.7 914.6h6.4M221.9 911.4v6.4M218.9 911.6l6 6M218.9 917.6l6 -6M95.3 1009.6h6.4M98.5 1006.4v6.4M95.5 1006.6l6 6M95.5 1012.6l6 -6M110.4 998.9h6.4M113.6 995.7v6.4M110.6 995.9l6 6M110.6 1001.9l6 -6M258.4 884.2h6.4M261.6 881v6.4M258.6 881.2l6 6M258.6 887.2l6 -6M159.6 953.4h6.4M162.8 950.2v6.4M159.8 950.4l6 6M159.8 956.4l6 -6M220.1 914.8h6.4M223.3 911.6v6.4M220.3 911.8l6 6M220.3 917.8l6 -6M118 991.7h6.4M121.2 988.5v6.4M118.2 988.7l6 6M118.2 994.7l6 -6M182.4 936.8h6.4M185.6 933.6v6.4M182.6 933.8l6 6M182.6 939.8l6 -6M163.9 956.1h6.4M167.1 952.9v6.4M164.1 953.1l6 6M164.1 959.1l6 -6M177 939.6h6.4M180.2 936.4v6.4M177.2 936.6l6 6M177.2 942.6l6 -6M124.8 987.5h6.4M128 984.3v6.4M125 984.5l6 6M125 990.5l6 -6M107.9 998.4h6.4M111.1 995.2v6.4M108.1 995.4l6 6M108.1 1001.4l6 -6M113.4 998h6.4M116.6 994.8v6.4M113.6 995l6 6M113.6 1001l6 -6M94.6 1011.5h6.4M97.8 1008.3v6.4M94.8 1008.5l6 6M94.8 1014.5l6 -6M97.1 1008.5h6.4M100.3 1005.3v6.4M97.3 1005.5l6 6M97.3 1011.5l6 -6M113.4 993h6.4M116.6 989.8v6.4M113.6 990l6 6M113.6 996l6 -6M205 911.3h6.4M208.2 908.1v6.4M205.2 908.3l6 6M205.2 914.3l6 -6M113 997.1h6.4M116.2 993.9v6.4M113.2 994.1l6 6M113.2 1000.1l6 -6M134.1 978.8h6.4M137.3 975.6v6.4M134.3 975.8l6 6M134.3 981.8l6 -6M196.7 931.2h6.4M199.9 928v6.4M196.9 928.2l6 6M196.9 934.2l6 -6M94.6 1012.1h6.4M97.8 1008.9v6.4M94.8 1009.1l6 6M94.8 1015.1l6 -6M112.5 994.9h6.4M115.7 991.7v6.4M112.7 991.9l6 6M112.7 997.9l6 -6M113.4 996.1h6.4M116.6 992.9v6.4M113.6 993.1l6 6M113.6 999.1l6 -6M170.8 942.8h6.4M174 939.6v6.4M171 939.8l6 6M171 945.8l6 -6M217.7 909.4h6.4M220.9 906.2v6.4M217.9 906.4l6 6M217.9 912.4l6 -6M88 1016.1h6.4M91.2 1012.9v6.4M88.2 1013.1l6 6M88.2 1019.1l6 -6M134.6 980.2h6.4M137.8 977v6.4M134.8 977.2l6 6M134.8 983.2l6 -6M88.8 1015.3h6.4M92 1012.1v6.4M89 1012.3l6 6M89 1018.3l6 -6M107.4 999.6h6.4M110.6 996.4v6.4M107.6 996.6l6 6M107.6 1002.6l6 -6M118 992.6h6.4M121.2 989.4v6.4M118.2 989.6l6 6M118.2 995.6l6 -6M108.3 996.4h6.4M111.5 993.2v6.4M108.5 993.4l6 6M108.5 999.4l6 -6M117.5 991.7h6.4M120.7 988.5v6.4M117.7 988.7l6 6M117.7 994.7l6 -6M111.6 998.6h6.4M114.8 995.4v6.4M111.8 995.6l6 6M111.8 1001.6l6 -6M125.7 985.3h6.4M128.9 982.1v6.4M125.9 982.3l6 6M125.9 988.3l6 -6M103.2 1002.3h6.4M106.4 999.1v6.4M103.4 999.3l6 6M103.4 1005.3l6 -6M118.5 990.5h6.4M121.7 987.3v6.4M118.7 987.5l6 6M118.7 993.5l6 -6M105.8 1002h6.4M109 998.8v6.4M106 999l6 6M106 1005l6 -6M118.9 992.2h6.4M122.1 989v6.4M119.1 989.2l6 6M119.1 995.2l6 -6M167.7 955.2h6.4M170.9 952v6.4M167.9 952.2l6 6M167.9 958.2l6 -6M90.9 1014.2h6.4M94.1 1011v6.4M91.1 1011.2l6 6M91.1 1017.2l6 -6M324.2 832h6.4M327.4 828.8v6.4M324.4 829l6 6M324.4 835l6 -6M102.2 1004.2h6.4M105.4 1001v6.4M102.4 1001.2l6 6M102.4 1007.2l6 -6M192.1 935.2h6.4M195.3 932v6.4M192.3 932.2l6 6M192.3 938.2l6 -6M109 996.6h6.4M112.2 993.4v6.4M109.2 993.6l6 6M109.2 999.6l6 -6M92.1 1012.4h6.4M95.3 1009.2v6.4M92.3 1009.4l6 6M92.3 1015.4l6 -6M185.7 939.5h6.4M188.9 936.3v6.4M185.9 936.5l6 6M185.9 942.5l6 -6M136.7 976.7h6.4M139.9 973.5v6.4M136.9 973.7l6 6M136.9 979.7l6 -6M104.2 1001.1h6.4M107.4 997.9v6.4M104.4 998.1l6 6M104.4 1004.1l6 -6M114.4 997.5h6.4M117.6 994.3v6.4M114.6 994.5l6 6M114.6 1000.5l6 -6M208.1 917.5h6.4M211.3 914.3v6.4M208.3 914.5l6 6M208.3 920.5l6 -6M165.8 943.5h6.4M169 940.3v6.4M166 940.5l6 6M166 946.5l6 -6M109.2 997.3h6.4M112.4 994.1v6.4M109.4 994.3l6 6M109.4 1000.3l6 -6M105.7 1002.7h6.4M108.9 999.5v6.4M105.9 999.7l6 6M105.9 1005.7l6 -6M135.6 977.1h6.4M138.8 973.9v6.4M135.8 974.1l6 6M135.8 980.1l6 -6M96.3 1009.4h6.4M99.5 1006.2v6.4M96.5 1006.4l6 6M96.5 1012.4l6 -6M106.4 998.2h6.4M109.6 995v6.4M106.6 995.2l6 6M106.6 1001.2l6 -6M191.1 936.6h6.4M194.3 933.4v6.4M191.3 933.6l6 6M191.3 939.6l6 -6M174.4 947.5h6.4M177.6 944.3v6.4M174.6 944.5l6 6M174.6 950.5l6 -6M93.1 1012h6.4M96.3 1008.8v6.4M93.3 1009l6 6M93.3 1015l6 -6M121.9 991.6h6.4M125.1 988.4v6.4M122.1 988.6l6 6M122.1 994.6l6 -6M118.1 995.8h6.4M121.3 992.6v6.4M118.3 992.8l6 6M118.3 998.8l6 -6M174.7 947.2h6.4M177.9 944v6.4M174.9 944.2l6 6M174.9 950.2l6 -6M119.8 989.2h6.4M123 986v6.4M120 986.2l6 6M120 992.2l6 -6M105.3 1002.4h6.4M108.5 999.2v6.4M105.5 999.4l6 6M105.5 1005.4l6 -6M202.1 920.8h6.4M205.3 917.6v6.4M202.3 917.8l6 6M202.3 923.8l6 -6M98.1 1007.1h6.4M101.3 1003.9v6.4M98.3 1004.1l6 6M98.3 1010.1l6 -6M147.9 965.2h6.4M151.1 962v6.4M148.1 962.2l6 6M148.1 968.2l6 -6M110 1000.7h6.4M113.2 997.5v6.4M110.2 997.7l6 6M110.2 1003.7l6 -6M142.5 967.1h6.4M145.7 963.9v6.4M142.7 964.1l6 6M142.7 970.1l6 -6M101.4 1004.2h6.4M104.6 1001v6.4M101.6 1001.2l6 6M101.6 1007.2l6 -6M211.5 910.9h6.4M214.7 907.7v6.4M211.7 907.9l6 6M211.7 913.9l6 -6M114.5 994.5h6.4M117.7 991.3v6.4M114.7 991.5l6 6M114.7 997.5l6 -6M158.1 959.4h6.4M161.3 956.2v6.4M158.3 956.4l6 6M158.3 962.4l6 -6M178 946h6.4M181.2 942.8v6.4M178.2 943l6 6M178.2 949l6 -6M124.8 985.3h6.4M128 982.1v6.4M125 982.3l6 6M125 988.3l6 -6M137.1 973.6h6.4M140.3 970.4v6.4M137.3 970.6l6 6M137.3 976.6l6 -6M95.4 1010.3h6.4M98.6 1007.1v6.4M95.6 1007.3l6 6M95.6 1013.3l6 -6M137 974h6.4M140.2 970.8v6.4M137.2 971l6 6M137.2 977l6 -6M131.6 982h6.4M134.8 978.8v6.4M131.8 979l6 6M131.8 985l6 -6M215.9 908.6h6.4M219.1 905.4v6.4M216.1 905.6l6 6M216.1 911.6l6 -6M111.2 997.4h6.4M114.4 994.2v6.4M111.4 994.4l6 6M111.4 1000.4l6 -6M101.5 1004.1h6.4M104.7 1000.9v6.4M101.7 1001.1l6 6M101.7 1007.1l6 -6M118.7 987.3h6.4M121.9 984.1v6.4M118.9 984.3l6 6M118.9 990.3l6 -6M188 934h6.4M191.2 930.8v6.4M188.2 931l6 6M188.2 937l6 -6M85.6 1018h6.4M88.8 1014.8v6.4M85.8 1015l6 6M85.8 1021l6 -6M90.1 1014.4h6.4M93.3 1011.2v6.4M90.3 1011.4l6 6M90.3 1017.4l6 -6M134.7 976.5h6.4M137.9 973.3v6.4M134.9 973.5l6 6M134.9 979.5l6 -6M171.4 951h6.4M174.6 947.8v6.4M171.6 948l6 6M171.6 954l6 -6M128.5 980.8h6.4M131.7 977.6v6.4M128.7 977.8l6 6M128.7 983.8l6 -6M99 1006.7h6.4M102.2 1003.5v6.4M99.2 1003.7l6 6M99.2 1009.7l6 -6M155.2 958.2h6.4M158.4 955v6.4M155.4 955.2l6 6M155.4 961.2l6 -6M102.5 1004.8h6.4M105.7 1001.6v6.4M102.7 1001.8l6 6M102.7 1007.8l6 -6M121.8 990.7h6.4M125 987.5v6.4M122 987.7l6 6M122 993.7l6 -6M101.6 1005.7h6.4M104.8 1002.5v6.4M101.8 1002.7l6 6M101.8 1008.7l6 -6M219.7 906.8h6.4M222.9 903.6v6.4M219.9 903.8l6 6M219.9 909.8l6 -6M118.1 993.1h6.4M121.3 989.9v6.4M118.3 990.1l6 6M118.3 996.1l6 -6M159.3 955.6h6.4M162.5 952.4v6.4M159.5 952.6l6 6M159.5 958.6l6 -6M99.1 1008.9h6.4M102.3 1005.7v6.4M99.3 1005.9l6 6M99.3 1011.9l6 -6M142.4 974.1h6.4M145.6 970.9v6.4M142.6 971.1l6 6M142.6 977.1l6 -6M107.4 1000.4h6.4M110.6 997.2v6.4M107.6 997.4l6 6M107.6 1003.4l6 -6M94.2 1012.1h6.4M97.4 1008.9v6.4M94.4 1009.1l6 6M94.4 1015.1l6 -6M106.9 1001.5h6.4M110.1 998.3v6.4M107.1 998.5l6 6M107.1 1004.5l6 -6M91.4 1013.9h6.4M94.6 1010.7v6.4M91.6 1010.9l6 6M91.6 1016.9l6 -6M143.3 971.5h6.4M146.5 968.3v6.4M143.5 968.5l6 6M143.5 974.5l6 -6M134.6 979h6.4M137.8 975.8v6.4M134.8 976l6 6M134.8 982l6 -6M204.3 917.4h6.4M207.5 914.2v6.4M204.5 914.4l6 6M204.5 920.4l6 -6M92.7 1012.6h6.4M95.9 1009.4v6.4M92.9 1009.6l6 6M92.9 1015.6l6 -6M116.8 995.7h6.4M120 992.5v6.4M117 992.7l6 6M117 998.7l6 -6M260.7 881.7h6.4M263.9 878.5v6.4M260.9 878.7l6 6M260.9 884.7l6 -6M112.4 996h6.4M115.6 992.8v6.4M112.6 993l6 6M112.6 999l6 -6M90.3 1014h6.4M93.5 1010.8v6.4M90.5 1011l6 6M90.5 1017l6 -6M191.5 931.5h6.4M194.7 928.3v6.4M191.7 928.5l6 6M191.7 934.5l6 -6M95.3 1009.1h6.4M98.5 1005.9v6.4M95.5 1006.1l6 6M95.5 1012.1l6 -6M169.1 952.1h6.4M172.3 948.9v6.4M169.3 949.1l6 6M169.3 955.1l6 -6M131.4 981.4h6.4M134.6 978.2v6.4M131.6 978.4l6 6M131.6 984.4l6 -6M212.5 921.2h6.4M215.7 918v6.4M212.7 918.2l6 6M212.7 924.2l6 -6M132.6 981.5h6.4M135.8 978.3v6.4M132.8 978.5l6 6M132.8 984.5l6 -6M158.8 954.6h6.4M162 951.4v6.4M159 951.6l6 6M159 957.6l6 -6M104.5 1002.1h6.4M107.7 998.9v6.4M104.7 999.1l6 6M104.7 1005.1l6 -6M263.2 895.2h6.4M266.4 892v6.4M263.4 892.2l6 6M263.4 898.2l6 -6M98.9 1005.9h6.4M102.1 1002.7v6.4M99.1 1002.9l6 6M99.1 1008.9l6 -6M200 937.8h6.4M203.2 934.6v6.4M200.2 934.8l6 6M200.2 940.8l6 -6M158.9 960.4h6.4M162.1 957.2v6.4M159.1 957.4l6 6M159.1 963.4l6 -6M126.3 982.7h6.4M129.5 979.5v6.4M126.5 979.7l6 6M126.5 985.7l6 -6M114.4 994.4h6.4M117.6 991.2v6.4M114.6 991.4l6 6M114.6 997.4l6 -6M97.2 1008h6.4M100.4 1004.8v6.4M97.4 1005l6 6M97.4 1011l6 -6M193 926.1h6.4M196.2 922.9v6.4M193.2 923.1l6 6M193.2 929.1l6 -6M104.3 1002.3h6.4M107.5 999.1v6.4M104.5 999.3l6 6M104.5 1005.3l6 -6M209.1 926.5h6.4M212.3 923.3v6.4M209.3 923.5l6 6M209.3 929.5l6 -6M212.1 913.3h6.4M215.3 910.1v6.4M212.3 910.3l6 6M212.3 916.3l6 -6M101.8 1005.5h6.4M105 1002.3v6.4M102 1002.5l6 6M102 1008.5l6 -6M109.8 1001.6h6.4M113 998.4v6.4M110 998.6l6 6M110 1004.6l6 -6M168.3 952.4h6.4M171.5 949.2v6.4M168.5 949.4l6 6M168.5 955.4l6 -6M184.9 934.8h6.4M188.1 931.6v6.4M185.1 931.8l6 6M185.1 937.8l6 -6M90.5 1013.8h6.4M93.7 1010.6v6.4M90.7 1010.8l6 6M90.7 1016.8l6 -6M202.4 923.5h6.4M205.6 920.3v6.4M202.6 920.5l6 6M202.6 926.5l6 -6M195 919.3h6.4M198.2 916.1v6.4M195.2 916.3l6 6M195.2 922.3l6 -6M141.9 971.6h6.4M145.1 968.4v6.4M142.1 968.6l6 6M142.1 974.6l6 -6M215.6 906.6h6.4M218.8 903.4v6.4M215.8 903.6l6 6M215.8 909.6l6 -6M255.2 878.1h6.4M258.4 874.9v6.4M255.4 875.1l6 6M255.4 881.1l6 -6M100.1 1004.4h6.4M103.3 1001.2v6.4M100.3 1001.4l6 6M100.3 1007.4l6 -6M229 905h6.4M232.2 901.8v6.4M229.2 902l6 6M229.2 908l6 -6M203.5 915.3h6.4M206.7 912.1v6.4M203.7 912.3l6 6M203.7 918.3l6 -6M138.1 970.1h6.4M141.3 966.9v6.4M138.3 967.1l6 6M138.3 973.1l6 -6M97.9 1008.3h6.4M101.1 1005.1v6.4M98.1 1005.3l6 6M98.1 1011.3l6 -6M242.3 882.7h6.4M245.5 879.5v6.4M242.5 879.7l6 6M242.5 885.7l6 -6M179.9 948.7h6.4M183.1 945.5v6.4M180.1 945.7l6 6M180.1 951.7l6 -6M112.6 995.5h6.4M115.8 992.3v6.4M112.8 992.5l6 6M112.8 998.5l6 -6M109.9 997.1h6.4M113.1 993.9v6.4M110.1 994.1l6 6M110.1 1000.1l6 -6M225 911.5h6.4M228.2 908.3v6.4M225.2 908.5l6 6M225.2 914.5l6 -6M103.9 1005.2h6.4M107.1 1002v6.4M104.1 1002.2l6 6M104.1 1008.2l6 -6M198.1 926.8h6.4M201.3 923.6v6.4M198.3 923.8l6 6M198.3 929.8l6 -6M120.9 990h6.4M124.1 986.8v6.4M121.1 987l6 6M121.1 993l6 -6M159.9 957.1h6.4M163.1 953.9v6.4M160.1 954.1l6 6M160.1 960.1l6 -6M196.5 926.6h6.4M199.7 923.4v6.4M196.7 923.6l6 6M196.7 929.6l6 -6M96.6 1008.3h6.4M99.8 1005.1v6.4M96.8 1005.3l6 6M96.8 1011.3l6 -6M103.7 1001.3h6.4M106.9 998.1v6.4M103.9 998.3l6 6M103.9 1004.3l6 -6M97.2 1008.1h6.4M100.4 1004.9v6.4M97.4 1005.1l6 6M97.4 1011.1l6 -6M119.5 993.5h6.4M122.7 990.3v6.4M119.7 990.5l6 6M119.7 996.5l6 -6M94.6 1010.1h6.4M97.8 1006.9v6.4M94.8 1007.1l6 6M94.8 1013.1l6 -6M217.9 908.3h6.4M221.1 905.1v6.4M218.1 905.3l6 6M218.1 911.3l6 -6M189.2 933.3h6.4M192.4 930.1v6.4M189.4 930.3l6 6M189.4 936.3l6 -6M139.6 969.4h6.4M142.8 966.2v6.4M139.8 966.4l6 6M139.8 972.4l6 -6M101.3 1004.9h6.4M104.5 1001.7v6.4M101.5 1001.9l6 6M101.5 1007.9l6 -6M99.4 1007h6.4M102.6 1003.8v6.4M99.6 1004l6 6M99.6 1010l6 -6M141 971.7h6.4M144.2 968.5v6.4M141.2 968.7l6 6M141.2 974.7l6 -6M219.9 920.9h6.4M223.1 917.7v6.4M220.1 917.9l6 6M220.1 923.9l6 -6M224 899h6.4M227.2 895.8v6.4M224.2 896l6 6M224.2 902l6 -6M224.5 905.2h6.4M227.7 902v6.4M224.7 902.2l6 6M224.7 908.2l6 -6M108.5 996.9h6.4M111.7 993.7v6.4M108.7 993.9l6 6M108.7 999.9l6 -6M165.9 949.9h6.4M169.1 946.7v6.4M166.1 946.9l6 6M166.1 952.9l6 -6M132.2 979.2h6.4M135.4 976v6.4M132.4 976.2l6 6M132.4 982.2l6 -6M136.2 976.4h6.4M139.4 973.2v6.4M136.4 973.4l6 6M136.4 979.4l6 -6M157.3 964.6h6.4M160.5 961.4v6.4M157.5 961.6l6 6M157.5 967.6l6 -6M106.9 1000.7h6.4M110.1 997.5v6.4M107.1 997.7l6 6M107.1 1003.7l6 -6M103.3 1003.2h6.4M106.5 1000v6.4M103.5 1000.2l6 6M103.5 1006.2l6 -6M117.5 990.2h6.4M120.7 987v6.4M117.7 987.2l6 6M117.7 993.2l6 -6M105.7 1001.1h6.4M108.9 997.9v6.4M105.9 998.1l6 6M105.9 1004.1l6 -6M207.1 915.2h6.4M210.3 912v6.4M207.3 912.2l6 6M207.3 918.2l6 -6M115.4 992.5h6.4M118.6 989.3v6.4M115.6 989.5l6 6M115.6 995.5l6 -6M90.9 1013.8h6.4M94.1 1010.6v6.4M91.1 1010.8l6 6M91.1 1016.8l6 -6M150.4 964.4h6.4M153.6 961.2v6.4M150.6 961.4l6 6M150.6 967.4l6 -6M266.1 874.1h6.4M269.3 870.9v6.4M266.3 871.1l6 6M266.3 877.1l6 -6M133.8 982.3h6.4M137 979.1v6.4M134 979.3l6 6M134 985.3l6 -6M110.8 999.8h6.4M114 996.6v6.4M111 996.8l6 6M111 1002.8l6 -6M216.7 906.1h6.4M219.9 902.9v6.4M216.9 903.1l6 6M216.9 909.1l6 -6M148.2 962.2h6.4M151.4 959v6.4M148.4 959.2l6 6M148.4 965.2l6 -6M145.2 965h6.4M148.4 961.8v6.4M145.4 962l6 6M145.4 968l6 -6M122.6 989.7h6.4M125.8 986.5v6.4M122.8 986.7l6 6M122.8 992.7l6 -6M184.9 929.5h6.4M188.1 926.3v6.4M185.1 926.5l6 6M185.1 932.5l6 -6M157.2 953.8h6.4M160.4 950.6v6.4M157.4 950.8l6 6M157.4 956.8l6 -6M135 980h6.4M138.2 976.8v6.4M135.2 977l6 6M135.2 983l6 -6M112.6 995.2h6.4M115.8 992v6.4M112.8 992.2l6 6M112.8 998.2l6 -6M188.3 925.3h6.4M191.5 922.1v6.4M188.5 922.3l6 6M188.5 928.3l6 -6M218.7 909.6h6.4M221.9 906.4v6.4M218.9 906.6l6 6M218.9 912.6l6 -6M95.8 1008.6h6.4M99 1005.4v6.4M96 1005.6l6 6M96 1011.6l6 -6M92.2 1012.8h6.4M95.4 1009.6v6.4M92.4 1009.8l6 6M92.4 1015.8l6 -6M95.8 1009.8h6.4M99 1006.6v6.4M96 1006.8l6 6M96 1012.8l6 -6M210.5 911h6.4M213.7 907.8v6.4M210.7 908l6 6M210.7 914l6 -6M144 971.2h6.4M147.2 968v6.4M144.2 968.2l6 6M144.2 974.2l6 -6M118.9 990.6h6.4M122.1 987.4v6.4M119.1 987.6l6 6M119.1 993.6l6 -6M252.2 882.4h6.4M255.4 879.2v6.4M252.4 879.4l6 6M252.4 885.4l6 -6M226.6 911.6h6.4M229.8 908.4v6.4M226.8 908.6l6 6M226.8 914.6l6 -6M116.8 989.8h6.4M120 986.6v6.4M117 986.8l6 6M117 992.8l6 -6M115 994.3h6.4M118.2 991.1v6.4M115.2 991.3l6 6M115.2 997.3l6 -6M131.2 981.8h6.4M134.4 978.6v6.4M131.4 978.8l6 6M131.4 984.8l6 -6M141.5 974h6.4M144.7 970.8v6.4M141.7 971l6 6M141.7 977l6 -6M201.2 924h6.4M204.4 920.8v6.4M201.4 921l6 6M201.4 927l6 -6M216 918.9h6.4M219.2 915.7v6.4M216.2 915.9l6 6M216.2 921.9l6 -6M110 996.8h6.4M113.2 993.6v6.4M110.2 993.8l6 6M110.2 999.8l6 -6M207 921.9h6.4M210.2 918.7v6.4M207.2 918.9l6 6M207.2 924.9l6 -6M94.9 1009.7h6.4M98.1 1006.5v6.4M95.1 1006.7l6 6M95.1 1012.7l6 -6M102.3 1005.2h6.4M105.5 1002v6.4M102.5 1002.2l6 6M102.5 1008.2l6 -6M116.8 994.5h6.4M120 991.3v6.4M117 991.5l6 6M117 997.5l6 -6M96.9 1009.4h6.4M100.1 1006.2v6.4M97.1 1006.4l6 6M97.1 1012.4l6 -6M113.8 994.6h6.4M117 991.4v6.4M114 991.6l6 6M114 997.6l6 -6M90.8 1014.3h6.4M94 1011.1v6.4M91 1011.3l6 6M91 1017.3l6 -6M190.4 928.3h6.4M193.6 925.1v6.4M190.6 925.3l6 6M190.6 931.3l6 -6M155.1 962.9h6.4M158.3 959.7v6.4M155.3 959.9l6 6M155.3 965.9l6 -6M102.4 1003.2h6.4M105.6 1000v6.4M102.6 1000.2l6 6M102.6 1006.2l6 -6M131.1 982.1h6.4M134.3 978.9v6.4M131.3 979.1l6 6M131.3 985.1l6 -6M118 990.1h6.4M121.2 986.9v6.4M118.2 987.1l6 6M118.2 993.1l6 -6M194.8 935.6h6.4M198 932.4v6.4M195 932.6l6 6M195 938.6l6 -6M106.9 1002.1h6.4M110.1 998.9v6.4M107.1 999.1l6 6M107.1 1005.1l6 -6M102.4 1003.5h6.4M105.6 1000.3v6.4M102.6 1000.5l6 6M102.6 1006.5l6 -6M188.1 938h6.4M191.3 934.8v6.4M188.3 935l6 6M188.3 941l6 -6M180.1 936h6.4M183.3 932.8v6.4M180.3 933l6 6M180.3 939l6 -6M167.6 954.6h6.4M170.8 951.4v6.4M167.8 951.6l6 6M167.8 957.6l6 -6M91.3 1012.9h6.4M94.5 1009.7v6.4M91.5 1009.9l6 6M91.5 1015.9l6 -6M92.5 1012.7h6.4M95.7 1009.5v6.4M92.7 1009.7l6 6M92.7 1015.7l6 -6M221.7 920.5h6.4M224.9 917.3v6.4M221.9 917.5l6 6M221.9 923.5l6 -6M247.1 875h6.4M250.3 871.8v6.4M247.3 872l6 6M247.3 878l6 -6M100.5 1006h6.4M103.7 1002.8v6.4M100.7 1003l6 6M100.7 1009l6 -6M125.7 983.2h6.4M128.9 980v6.4M125.9 980.2l6 6M125.9 986.2l6 -6M121.6 988.3h6.4M124.8 985.1v6.4M121.8 985.3l6 6M121.8 991.3l6 -6M107.2 1002.7h6.4M110.4 999.5v6.4M107.4 999.7l6 6M107.4 1005.7l6 -6M96.6 1008.6h6.4M99.8 1005.4v6.4M96.8 1005.6l6 6M96.8 1011.6l6 -6M106.2 999.7h6.4M109.4 996.5v6.4M106.4 996.7l6 6M106.4 1002.7l6 -6M237 885.1h6.4M240.2 881.9v6.4M237.2 882.1l6 6M237.2 888.1l6 -6M120.5 986.3h6.4M123.7 983.1v6.4M120.7 983.3l6 6M120.7 989.3l6 -6M99.2 1006.5h6.4M102.4 1003.3v6.4M99.4 1003.5l6 6M99.4 1009.5l6 -6M90.1 1014.2h6.4M93.3 1011v6.4M90.3 1011.2l6 6M90.3 1017.2l6 -6M150.5 965.1h6.4M153.7 961.9v6.4M150.7 962.1l6 6M150.7 968.1l6 -6M200.4 932.3h6.4M203.6 929.1v6.4M200.6 929.3l6 6M200.6 935.3l6 -6M103 1002.9h6.4M106.2 999.7v6.4M103.2 999.9l6 6M103.2 1005.9l6 -6M180.4 937.5h6.4M183.6 934.3v6.4M180.6 934.5l6 6M180.6 940.5l6 -6M90.2 1014h6.4M93.4 1010.8v6.4M90.4 1011l6 6M90.4 1017l6 -6M93.9 1011.6h6.4M97.1 1008.4v6.4M94.1 1008.6l6 6M94.1 1014.6l6 -6M147.8 965.4h6.4M151 962.2v6.4M148 962.4l6 6M148 968.4l6 -6M93.8 1011.6h6.4M97 1008.4v6.4M94 1008.6l6 6M94 1014.6l6 -6M121.9 985.9h6.4M125.1 982.7v6.4M122.1 982.9l6 6M122.1 988.9l6 -6M126.2 986.5h6.4M129.4 983.3v6.4M126.4 983.5l6 6M126.4 989.5l6 -6M90.6 1014h6.4M93.8 1010.8v6.4M90.8 1011l6 6M90.8 1017l6 -6M196.8 929.9h6.4M200 926.7v6.4M197 926.9l6 6M197 932.9l6 -6M175.9 950h6.4M179.1 946.8v6.4M176.1 947l6 6M176.1 953l6 -6M187.1 940.8h6.4M190.3 937.6v6.4M187.3 937.8l6 6M187.3 943.8l6 -6M151.7 965.4h6.4M154.9 962.2v6.4M151.9 962.4l6 6M151.9 968.4l6 -6M109.5 1001.8h6.4M112.7 998.6v6.4M109.7 998.8l6 6M109.7 1004.8l6 -6M161.1 948.5h6.4M164.3 945.3v6.4M161.3 945.5l6 6M161.3 951.5l6 -6M138.5 974h6.4M141.7 970.8v6.4M138.7 971l6 6M138.7 977l6 -6M145.9 968.1h6.4M149.1 964.9v6.4M146.1 965.1l6 6M146.1 971.1l6 -6M177.7 947.8h6.4M180.9 944.6v6.4M177.9 944.8l6 6M177.9 950.8l6 -6M108.5 999.1h6.4M111.7 995.9v6.4M108.7 996.1l6 6M108.7 1002.1l6 -6M217.5 911.4h6.4M220.7 908.2v6.4M217.7 908.4l6 6M217.7 914.4l6 -6M123.4 987.1h6.4M126.6 983.9v6.4M123.6 984.1l6 6M123.6 990.1l6 -6M109.7 1000.6h6.4M112.9 997.4v6.4M109.9 997.6l6 6M109.9 1003.6l6 -6M132.6 980.2h6.4M135.8 977v6.4M132.8 977.2l6 6M132.8 983.2l6 -6M248.1 903h6.4M251.3 899.8v6.4M248.3 900l6 6M248.3 906l6 -6M167.3 952.8h6.4M170.5 949.6v6.4M167.5 949.8l6 6M167.5 955.8l6 -6M96.5 1009.7h6.4M99.7 1006.5v6.4M96.7 1006.7l6 6M96.7 1012.7l6 -6M107.2 1001.2h6.4M110.4 998v6.4M107.4 998.2l6 6M107.4 1004.2l6 -6M156 962.2h6.4M159.2 959v6.4M156.2 959.2l6 6M156.2 965.2l6 -6M237.4 888.5h6.4M240.6 885.3v6.4M237.6 885.5l6 6M237.6 891.5l6 -6M134.9 974.6h6.4M138.1 971.4v6.4M135.1 971.6l6 6M135.1 977.6l6 -6M133.7 978.9h6.4M136.9 975.7v6.4M133.9 975.9l6 6M133.9 981.9l6 -6M85.4 1018.2h6.4M88.6 1015v6.4M85.6 1015.2l6 6M85.6 1021.2l6 -6M99.3 1005.4h6.4M102.5 1002.2v6.4M99.5 1002.4l6 6M99.5 1008.4l6 -6M192.8 939.4h6.4M196 936.2v6.4M193 936.4l6 6M193 942.4l6 -6M103 1004.4h6.4M106.2 1001.2v6.4M103.2 1001.4l6 6M103.2 1007.4l6 -6M129.3 983.1h6.4M132.5 979.9v6.4M129.5 980.1l6 6M129.5 986.1l6 -6M158.7 961.8h6.4M161.9 958.6v6.4M158.9 958.8l6 6M158.9 964.8l6 -6M138.6 971.1h6.4M141.8 967.9v6.4M138.8 968.1l6 6M138.8 974.1l6 -6M184.2 936.1h6.4M187.4 932.9v6.4M184.4 933.1l6 6M184.4 939.1l6 -6M149.8 962.2h6.4M153 959v6.4M150 959.2l6 6M150 965.2l6 -6M110 998.6h6.4M113.2 995.4v6.4M110.2 995.6l6 6M110.2 1001.6l6 -6M140.1 971.1h6.4M143.3 967.9v6.4M140.3 968.1l6 6M140.3 974.1l6 -6M161.3 957.4h6.4M164.5 954.2v6.4M161.5 954.4l6 6M161.5 960.4l6 -6M92.3 1012.5h6.4M95.5 1009.3v6.4M92.5 1009.5l6 6M92.5 1015.5l6 -6M239.7 891h6.4M242.9 887.8v6.4M239.9 888l6 6M239.9 894l6 -6M145.1 968.5h6.4M148.3 965.3v6.4M145.3 965.5l6 6M145.3 971.5l6 -6M254.3 876.6h6.4M257.5 873.4v6.4M254.5 873.6l6 6M254.5 879.6l6 -6M203.6 924h6.4M206.8 920.8v6.4M203.8 921l6 6M203.8 927l6 -6M89.3 1015.5h6.4M92.5 1012.3v6.4M89.5 1012.5l6 6M89.5 1018.5l6 -6M96.5 1009.3h6.4M99.7 1006.1v6.4M96.7 1006.3l6 6M96.7 1012.3l6 -6M205.2 935.4h6.4M208.4 932.2v6.4M205.4 932.4l6 6M205.4 938.4l6 -6M105 1002.5h6.4M108.2 999.3v6.4M105.2 999.5l6 6M105.2 1005.5l6 -6M219.2 915.9h6.4M222.4 912.7v6.4M219.4 912.9l6 6M219.4 918.9l6 -6M257.7 871.5h6.4M260.9 868.3v6.4M257.9 868.5l6 6M257.9 874.5l6 -6M181.8 951.7h6.4M185 948.5v6.4M182 948.7l6 6M182 954.7l6 -6M148.7 959.9h6.4M151.9 956.7v6.4M148.9 956.9l6 6M148.9 962.9l6 -6M121.1 989.9h6.4M124.3 986.7v6.4M121.3 986.9l6 6M121.3 992.9l6 -6M218.4 922.1h6.4M221.6 918.9v6.4M218.6 919.1l6 6M218.6 925.1l6 -6M146.3 967.4h6.4M149.5 964.2v6.4M146.5 964.4l6 6M146.5 970.4l6 -6M97.8 1007.5h6.4M101 1004.3v6.4M98 1004.5l6 6M98 1010.5l6 -6M173.2 945.1h6.4M176.4 941.9v6.4M173.4 942.1l6 6M173.4 948.1l6 -6M115.5 989.8h6.4M118.7 986.6v6.4M115.7 986.8l6 6M115.7 992.8l6 -6M97.1 1009.3h6.4M100.3 1006.1v6.4M97.3 1006.3l6 6M97.3 1012.3l6 -6M112.8 995.4h6.4M116 992.2v6.4M113 992.4l6 6M113 998.4l6 -6M205.6 920.1h6.4M208.8 916.9v6.4M205.8 917.1l6 6M205.8 923.1l6 -6M177.8 946.9h6.4M181 943.7v6.4M178 943.9l6 6M178 949.9l6 -6M111.2 996.7h6.4M114.4 993.5v6.4M111.4 993.7l6 6M111.4 999.7l6 -6M196.5 920.8h6.4M199.7 917.6v6.4M196.7 917.8l6 6M196.7 923.8l6 -6M133.3 981.6h6.4M136.5 978.4v6.4M133.5 978.6l6 6M133.5 984.6l6 -6M111.9 995.9h6.4M115.1 992.7v6.4M112.1 992.9l6 6M112.1 998.9l6 -6M93.9 1010.5h6.4M97.1 1007.3v6.4M94.1 1007.5l6 6M94.1 1013.5l6 -6M157.3 957.4h6.4M160.5 954.2v6.4M157.5 954.4l6 6M157.5 960.4l6 -6M105.3 1004h6.4M108.5 1000.8v6.4M105.5 1001l6 6M105.5 1007l6 -6M132.9 979h6.4M136.1 975.8v6.4M133.1 976l6 6M133.1 982l6 -6M103.4 1003.9h6.4M106.6 1000.7v6.4M103.6 1000.9l6 6M103.6 1006.9l6 -6M149.8 961.6h6.4M153 958.4v6.4M150 958.6l6 6M150 964.6l6 -6M91.8 1012.9h6.4M95 1009.7v6.4M92 1009.9l6 6M92 1015.9l6 -6M106.8 998.1h6.4M110 994.9v6.4M107 995.1l6 6M107 1001.1l6 -6M147.8 972h6.4M151 968.8v6.4M148 969l6 6M148 975l6 -6M207.4 916.3h6.4M210.6 913.1v6.4M207.6 913.3l6 6M207.6 919.3l6 -6M175.6 949.5h6.4M178.8 946.3v6.4M175.8 946.5l6 6M175.8 952.5l6 -6M109.7 995.8h6.4M112.9 992.6v6.4M109.9 992.8l6 6M109.9 998.8l6 -6M118.6 988.2h6.4M121.8 985v6.4M118.8 985.2l6 6M118.8 991.2l6 -6M128.5 985.5h6.4M131.7 982.3v6.4M128.7 982.5l6 6M128.7 988.5l6 -6M227.4 897.8h6.4M230.6 894.6v6.4M227.6 894.8l6 6M227.6 900.8l6 -6M98.6 1007.4h6.4M101.8 1004.2v6.4M98.8 1004.4l6 6M98.8 1010.4l6 -6M185.8 945.9h6.4M189 942.7v6.4M186 942.9l6 6M186 948.9l6 -6M96.1 1010.2h6.4M99.3 1007v6.4M96.3 1007.2l6 6M96.3 1013.2l6 -6M199.5 925.4h6.4M202.7 922.2v6.4M199.7 922.4l6 6M199.7 928.4l6 -6M97.7 1007.6h6.4M100.9 1004.4v6.4M97.9 1004.6l6 6M97.9 1010.6l6 -6M119.8 991h6.4M123 987.8v6.4M120 988l6 6M120 994l6 -6M113.6 994.7h6.4M116.8 991.5v6.4M113.8 991.7l6 6M113.8 997.7l6 -6M157.6 958.5h6.4M160.8 955.3v6.4M157.8 955.5l6 6M157.8 961.5l6 -6M107.3 999.9h6.4M110.5 996.7v6.4M107.5 996.9l6 6M107.5 1002.9l6 -6M193.5 937.7h6.4M196.7 934.5v6.4M193.7 934.7l6 6M193.7 940.7l6 -6M261.9 874.4h6.4M265.1 871.2v6.4M262.1 871.4l6 6M262.1 877.4l6 -6M171.4 946.2h6.4M174.6 943v6.4M171.6 943.2l6 6M171.6 949.2l6 -6M91.1 1014.2h6.4M94.3 1011v6.4M91.3 1011.2l6 6M91.3 1017.2l6 -6M97.1 1007.2h6.4M100.3 1004v6.4M97.3 1004.2l6 6M97.3 1010.2l6 -6M190.5 924.9h6.4M193.7 921.7v6.4M190.7 921.9l6 6M190.7 927.9l6 -6M119.8 989.9h6.4M123 986.7v6.4M120 986.9l6 6M120 992.9l6 -6M131.6 975.2h6.4M134.8 972v6.4M131.8 972.2l6 6M131.8 978.2l6 -6M204.6 927h6.4M207.8 923.8v6.4M204.8 924l6 6M204.8 930l6 -6M169.9 954.2h6.4M173.1 951v6.4M170.1 951.2l6 6M170.1 957.2l6 -6M129.6 983.9h6.4M132.8 980.7v6.4M129.8 980.9l6 6M129.8 986.9l6 -6M109 1000h6.4M112.2 996.8v6.4M109.2 997l6 6M109.2 1003l6 -6M97.5 1006.6h6.4M100.7 1003.4v6.4M97.7 1003.6l6 6M97.7 1009.6l6 -6M95.7 1009.6h6.4M98.9 1006.4v6.4M95.9 1006.6l6 6M95.9 1012.6l6 -6M90.7 1013.7h6.4M93.9 1010.5v6.4M90.9 1010.7l6 6M90.9 1016.7l6 -6M117.5 991.4h6.4M120.7 988.2v6.4M117.7 988.4l6 6M117.7 994.4l6 -6M226.8 891.9h6.4M230 888.7v6.4M227 888.9l6 6M227 894.9l6 -6M95.5 1009.7h6.4M98.7 1006.5v6.4M95.7 1006.7l6 6M95.7 1012.7l6 -6M130.9 982.3h6.4M134.1 979.1v6.4M131.1 979.3l6 6M131.1 985.3l6 -6M144.9 969.1h6.4M148.1 965.9v6.4M145.1 966.1l6 6M145.1 972.1l6 -6M228.1 893.2h6.4M231.3 890v6.4M228.3 890.2l6 6M228.3 896.2l6 -6M290.8 854.5h6.4M294 851.3v6.4M291 851.5l6 6M291 857.5l6 -6M154.7 956.7h6.4M157.9 953.5v6.4M154.9 953.7l6 6M154.9 959.7l6 -6M138.9 973.9h6.4M142.1 970.7v6.4M139.1 970.9l6 6M139.1 976.9l6 -6M165.6 954.1h6.4M168.8 950.9v6.4M165.8 951.1l6 6M165.8 957.1l6 -6M122.1 987.3h6.4M125.3 984.1v6.4M122.3 984.3l6 6M122.3 990.3l6 -6M189.6 922.8h6.4M192.8 919.6v6.4M189.8 919.8l6 6M189.8 925.8l6 -6M198.9 927.9h6.4M202.1 924.7v6.4M199.1 924.9l6 6M199.1 930.9l6 -6M106.1 999.5h6.4M109.3 996.3v6.4M106.3 996.5l6 6M106.3 1002.5l6 -6M131.6 979.2h6.4M134.8 976v6.4M131.8 976.2l6 6M131.8 982.2l6 -6M109.1 998.6h6.4M112.3 995.4v6.4M109.3 995.6l6 6M109.3 1001.6l6 -6M95.4 1009.9h6.4M98.6 1006.7v6.4M95.6 1006.9l6 6M95.6 1012.9l6 -6M117.8 990.2h6.4M121 987v6.4M118 987.2l6 6M118 993.2l6 -6M144.8 968h6.4M148 964.8v6.4M145 965l6 6M145 971l6 -6M130.6 980.5h6.4M133.8 977.3v6.4M130.8 977.5l6 6M130.8 983.5l6 -6M119.6 989.1h6.4M122.8 985.9v6.4M119.8 986.1l6 6M119.8 992.1l6 -6M135.5 980h6.4M138.7 976.8v6.4M135.7 977l6 6M135.7 983l6 -6M126.3 986.5h6.4M129.5 983.3v6.4M126.5 983.5l6 6M126.5 989.5l6 -6M93.2 1012.3h6.4M96.4 1009.1v6.4M93.4 1009.3l6 6M93.4 1015.3l6 -6M159.4 959.7h6.4M162.6 956.5v6.4M159.6 956.7l6 6M159.6 962.7l6 -6M189.5 935.2h6.4M192.7 932v6.4M189.7 932.2l6 6M189.7 938.2l6 -6M122 989.2h6.4M125.2 986v6.4M122.2 986.2l6 6M122.2 992.2l6 -6M151.1 963h6.4M154.3 959.8v6.4M151.3 960l6 6M151.3 966l6 -6M105.4 1003h6.4M108.6 999.8v6.4M105.6 1000l6 6M105.6 1006l6 -6M173.5 948.1h6.4M176.7 944.9v6.4M173.7 945.1l6 6M173.7 951.1l6 -6M122 986.6h6.4M125.2 983.4v6.4M122.2 983.6l6 6M122.2 989.6l6 -6M148.5 961.2h6.4M151.7 958v6.4M148.7 958.2l6 6M148.7 964.2l6 -6M159.2 958.3h6.4M162.4 955.1v6.4M159.4 955.3l6 6M159.4 961.3l6 -6M122.9 985.1h6.4M126.1 981.9v6.4M123.1 982.1l6 6M123.1 988.1l6 -6M100 1004.9h6.4M103.2 1001.7v6.4M100.2 1001.9l6 6M100.2 1007.9l6 -6M223.5 914.1h6.4M226.7 910.9v6.4M223.7 911.1l6 6M223.7 917.1l6 -6M201.6 922.8h6.4M204.8 919.6v6.4M201.8 919.8l6 6M201.8 925.8l6 -6M116.2 995.1h6.4M119.4 991.9v6.4M116.4 992.1l6 6M116.4 998.1l6 -6M112.8 996.5h6.4M116 993.3v6.4M113 993.5l6 6M113 999.5l6 -6M203.9 919.8h6.4M207.1 916.6v6.4M204.1 916.8l6 6M204.1 922.8l6 -6M177.3 950.1h6.4M180.5 946.9v6.4M177.5 947.1l6 6M177.5 953.1l6 -6M108.2 998.8h6.4M111.4 995.6v6.4M108.4 995.8l6 6M108.4 1001.8l6 -6M194.5 930.8h6.4M197.7 927.6v6.4M194.7 927.8l6 6M194.7 933.8l6 -6M111.9 997h6.4M115.1 993.8v6.4M112.1 994l6 6M112.1 1000l6 -6M199.5 922.7h6.4M202.7 919.5v6.4M199.7 919.7l6 6M199.7 925.7l6 -6M96 1010.1h6.4M99.2 1006.9v6.4M96.2 1007.1l6 6M96.2 1013.1l6 -6M226.9 916.7h6.4M230.1 913.5v6.4M227.1 913.7l6 6M227.1 919.7l6 -6M111.6 996.8h6.4M114.8 993.6v6.4M111.8 993.8l6 6M111.8 999.8l6 -6M220.6 914.1h6.4M223.8 910.9v6.4M220.8 911.1l6 6M220.8 917.1l6 -6M105.7 1001.9h6.4M108.9 998.7v6.4M105.9 998.9l6 6M105.9 1004.9l6 -6M114.1 996.7h6.4M117.3 993.5v6.4M114.3 993.7l6 6M114.3 999.7l6 -6M105.2 1003.2h6.4M108.4 1000v6.4M105.4 1000.2l6 6M105.4 1006.2l6 -6M140.6 976.6h6.4M143.8 973.4v6.4M140.8 973.6l6 6M140.8 979.6l6 -6M103.2 1005.1h6.4M106.4 1001.9v6.4M103.4 1002.1l6 6M103.4 1008.1l6 -6M367 802.1h6.4M370.2 798.9v6.4M367.2 799.1l6 6M367.2 805.1l6 -6M374.5 807.5h6.4M377.7 804.3v6.4M374.7 804.5l6 6M374.7 810.5l6 -6M381 805.2h6.4M384.2 802v6.4M381.2 802.2l6 6M381.2 808.2l6 -6M384.3 835.7h6.4M387.5 832.5v6.4M384.5 832.7l6 6M384.5 838.7l6 -6M382.4 835.7h6.4M385.6 832.5v6.4M382.6 832.7l6 6M382.6 838.7l6 -6M300.4 818.1h6.4M303.6 814.9v6.4M300.6 815.1l6 6M300.6 821.1l6 -6M313.1 812.9h6.4M316.3 809.7v6.4M313.3 809.9l6 6M313.3 815.9l6 -6M324.1 815.3h6.4M327.3 812.1v6.4M324.3 812.3l6 6M324.3 818.3l6 -6M340.5 823.9h6.4M343.7 820.7v6.4M340.7 820.9l6 6M340.7 826.9l6 -6M346.8 819.7h6.4M350 816.5v6.4M347 816.7l6 6M347 822.7l6 -6M315.9 826.3h6.4M319.1 823.1v6.4M316.1 823.3l6 6M316.1 829.3l6 -6M331.8 839.2h6.4M335 836v6.4M332 836.2l6 6M332 842.2l6 -6M281.2 840.8h6.4M284.4 837.6v6.4M281.4 837.8l6 6M281.4 843.8l6 -6M295.2 839.9h6.4M298.4 836.7v6.4M295.4 836.9l6 6M295.4 842.9l6 -6M256.8 852.1h6.4M260 848.9v6.4M257 849.1l6 6M257 855.1l6 -6M303.7 853.7h6.4M306.9 850.5v6.4M303.9 850.7l6 6M303.9 856.7l6 -6M317 855.6h6.4M320.2 852.4v6.4M317.2 852.6l6 6M317.2 858.6l6 -6M331.3 863.8h6.4M334.5 860.6v6.4M331.5 860.8l6 6M331.5 866.8l6 -6M293.6 875.5h6.4M296.8 872.3v6.4M293.8 872.5l6 6M293.8 878.5l6 -6M288.9 845h6.4M292.1 841.8v6.4M289.1 842l6 6M289.1 848l6 -6M314 845h6.4M317.2 841.8v6.4M314.2 842l6 6M314.2 848l6 -6M256.4 851.6h6.4M259.6 848.4v6.4M256.6 848.6l6 6M256.6 854.6l6 -6M227.5 863h6.4M230.7 859.8v6.4M227.7 860l6 6M227.7 866l6 -6M233.8 870h6.4M237 866.8v6.4M234 867l6 6M234 873l6 -6M201.8 895h6.4M205 891.8v6.4M202 892l6 6M202 898l6 -6M186.8 908h6.4M190 904.8v6.4M187 905l6 6M187 911l6 -6M237.4 935h6.4M240.6 931.8v6.4M237.6 932l6 6M237.6 938l6 -6" stroke="#4DB8F5" stroke-width="1.5" fill="none"/>
<path d="M123.5 988.7h0M161.8 958.9h0M99 1009.4h0M119.7 992.5h0M204.1 924.3h0M129.6 984.5h0M139.8 977h0M137.2 977.2h0M230.4 899.3h0M103.1 1006h0M158.6 960.3h0M123.7 990.6h0M106.6 1002.5h0M94.3 1014.3h0M147.4 969.9h0M104.4 1003.6h0M144.6 973.2h0M123.5 990.9h0M123 988.5h0M216.9 914h0M100.2 1008.5h0M137.7 978.4h0M121.9 990.8h0M104.2 1004.3h0M118.8 992.6h0M214.5 914.4h0M101.4 1008.2h0M160.3 958.4h0M106.5 1004.1h0M134.4 980.3h0M137 979.8h0M95.1 1012.9h0M200.9 925.4h0M116.9 995.8h0M109.2 1002.2h0M102.9 1006.2h0M270.5 871.7h0M230.2 901.5h0M131.5 983.4h0M106 1002.1h0M170.7 952.7h0M92.5 1015h0M214.4 916.1h0M88.4 1018.8h0M95.5 1012.3h0M114.8 996.9h0M126.5 987.5h0M89 1016.8h0M110.2 1001.2h0M271.4 869.3h0M186.9 938h0M96.1 1009.5h0M218.5 913.5h0M123.5 989.7h0M281.2 859.4h0M113.1 998.2h0M113.6 996.7h0M158.9 960.6h0M131.3 984.1h0M110.1 1000.3h0M135.2 980.9h0M152.1 967.5h0M111.6 1000.3h0M203.6 922.9h0M181.4 944.6h0M182.1 942.9h0M155.9 961.7h0M106.3 1003.2h0M166.9 954.4h0M103.5 1005.9h0M97.6 1010.8h0M127.9 984.1h0M102.3 1007h0M97.4 1010.6h0M144.4 973.1h0M255.8 883.7h0M95.3 1012.1h0M123.1 989.9h0M99.7 1009.7h0M140.4 975.6h0M143.9 973.3h0M130.8 982.7h0M94.3 1013.6h0M169 952.8h0M131.4 983.1h0M141.6 973.3h0M160.3 959.8h0M222.6 908.9h0M124.6 988.7h0M221.5 908.8h0M101.3 1008.9h0M126.1 987.7h0M101.9 1006.3h0M115.5 995.6h0M220.4 912.8h0M257.6 882.8h0M129.2 985.9h0M114.3 997.7h0M113.4 996.9h0M223.5 910.3h0M126.1 988.2h0M102.2 1006.4h0M203.3 924.5h0M133.4 981.3h0M119.6 992.2h0M221.5 909.9h0M183.5 939.9h0M90.3 1016.3h0M246.4 888.7h0M126.3 987.2h0M105.4 1003.8h0M221.5 911.6h0M119.3 994h0M165.7 955.6h0M182.4 941.3h0M104.7 1004h0M270.3 873h0M140 975h0M92.5 1014.1h0M134.7 980h0M90.7 1016.9h0M262.3 875.6h0M154.7 964.9h0M116.9 993h0M194.3 931.7h0M196.5 929.4h0M167.2 953.9h0M106.3 1002.7h0M100.9 1007.1h0M209.5 919.3h0M216.2 914.8h0M115.7 996.1h0M120.6 992.5h0M119.7 991.9h0M110.6 999.3h0M232.4 900.8h0M132.8 981.8h0M170.2 951.3h0M148.1 967.5h0M100 1010.6h0M93.7 1014h0M102.2 1006.1h0M130.2 984.5h0M153.7 964.9h0M308.7 839.3h0M220.4 909.8h0M177.9 943.8h0M119.5 992.4h0M115.8 996.3h0M170.1 952.1h0M115.4 994.7h0M186.4 938.6h0M178.5 945.4h0M97.5 1008.4h0M193.8 933.1h0M101 1007.9h0M113.7 997.3h0M258.4 880.9h0M156.2 961.7h0M208.5 919h0M224.3 908.1h0M106.6 1002.9h0M193.7 933.6h0M116.7 995.4h0M94.3 1012.5h0M97.6 1011.4h0M97.2 1010.6h0M151.9 966.1h0M150 967.3h0M206.4 921.9h0M110.9 1000.1h0M187.9 938.3h0M108.4 1001.7h0M112.2 998.6h0M154.7 965h0M120.7 992.6h0M368.4 788.1h0M111.4 999.9h0M107.7 1002.1h0M215.5 915.5h0M217.6 914.3h0M103.1 1004.7h0M114.6 996.2h0M132.5 982.3h0M94.6 1014.1h0M118.2 994.1h0M184.6 940h0M186.9 940.2h0M102.4 1005.5h0M111.6 1001h0M109.6 1000.5h0M165.3 955.9h0M98 1011.3h0M274 869.7h0M101.1 1007.6h0M135.6 980.7h0M168.7 954.8h0M230.5 904.6h0M147 971.7h0M207 923.6h0M136.1 979.7h0M106.6 1003.6h0M119.7 993.2h0M145.5 972.5h0M136 979.6h0M192.8 932.4h0M139 976.4h0M121 991.2h0M134.4 981.6h0M133.5 981.9h0M91.9 1015.4h0M116.8 996.5h0M144.3 971.7h0M174.3 948.3h0M121.7 991.3h0M183 942h0M130.9 983.9h0M117.9 993.1h0M108.6 1002.9h0M194.6 931.7h0M225 905.8h0M176.5 945.7h0M109.3 1001.6h0M169 952.1h0M127.5 986.7h0M226.4 903.9h0M91.8 1016.8h0M188.4 935.5h0M127.2 986.3h0M210.1 918.7h0M145.8 972.3h0M90.3 1015.9h0M165.6 955h0M134.7 978.6h0M107.1 1003.5h0M97 1012.6h0M122.6 990.9h0M139.6 976.1h0M131.3 983.8h0M89.7 1016.2h0M102.3 1005.6h0M161.8 958.6h0M139.1 978.1h0M178.6 944.3h0M118.9 994.5h0M106 1003.7h0M196.5 930.7h0M109.4 1000.4h0M94 1013.7h0M118.1 993.1h0M123.9 988.6h0M103.7 1005.2h0M238.5 895.4h0M107.9 1004.5h0M97.7 1011.1h0M155.4 965.4h0M98.8 1009h0M112.5 998.8h0M119.6 992.3h0M112.6 1000.2h0M154.7 964.2h0M101.1 1007.3h0M150.4 967.6h0M97.3 1011.2h0M141.8 974.8h0M261.3 876.2h0M190.7 935.3h0M231.1 901.7h0M136.7 978.5h0M103 1006.8h0M116.8 994.7h0M188.7 936.4h0M100.7 1007.3h0M156.2 963.9h0M111.3 998.3h0M219.9 912.5h0M117.1 994.1h0M112.4 997.9h0M112 999.6h0M139.4 976.2h0M234.6 898.3h0M139.6 975.4h0M176.9 947.4h0M133.3 982.1h0M100.8 1008.4h0M143.1 974.3h0M144.8 973.1h0M140.9 974.9h0M114 997h0M105.8 1003.5h0M117.6 995.2h0M95 1013.9h0M101.7 1007.7h0M111.3 1000.4h0M133.9 980.4h0M221.9 911h0M169 953.1h0M132 981.8h0M175.6 945.7h0M124.6 989.9h0M95.6 1012h0M166.6 956.1h0M171.1 949.4h0M154.5 964.7h0M210.2 917.9h0M191 934.5h0M204.8 924.1h0M93.5 1015h0M395.3 770.5h0M143.1 974.6h0M144.6 973h0M146.8 971.2h0M109.7 1001.4h0M113 997.5h0M215.1 916.7h0M149.1 969.4h0M241.8 892.8h0M102.2 1006.5h0M143.1 974h0M149.1 970.1h0M93 1013h0M150.7 967.5h0M118.9 993.2h0M123.5 990.2h0M103.1 1006.4h0M143.1 975.4h0M160.4 959.2h0M215.3 917.1h0M203.8 925.7h0M265.2 871.6h0M263 874.1h0M168.3 953.8h0M112.7 999.2h0M138.4 976.1h0M100.2 1008.6h0M138.9 978h0M114.3 998.1h0M134.6 980.9h0M181.5 940.8h0M94.3 1013.5h0M218.8 912.9h0M94 1014.2h0M131.5 982.5h0M107.5 1000.7h0M96.6 1012.1h0M128.1 987.9h0M109 1001h0M98.7 1010.2h0M202.9 930.1h0M108.1 1001.5h0M228.5 904.5h0M145.9 972.3h0M118 995.1h0M94.7 1013.1h0M207.8 920.8h0M97.4 1012.3h0M185.1 938.8h0M132.8 982.9h0M125.1 987.4h0M96.9 1011.2h0M119.6 993h0M89.9 1016.8h0M188.3 937.1h0M170.7 950.3h0M100.9 1006.7h0M132.8 982.6h0M101.7 1006.9h0M175 948.9h0M104.2 1005.3h0M102.3 1006.3h0M111.8 1000.1h0M254.2 887.2h0M201.1 929h0M122.8 991.3h0M195.3 932.1h0M115.2 995.4h0M103.5 1005.6h0M219.9 913.6h0M92.9 1014.5h0M193.6 933.6h0M242.4 894.3h0M97.5 1010.4h0M211.8 916.9h0M191.8 934h0M95.4 1012.8h0M123.2 989.6h0M109.3 1002.1h0M122.3 991.1h0M122.8 990h0M119.7 992.4h0M91.2 1015.9h0M112.4 999.5h0M113 997.4h0M157.7 961.9h0M167.2 954.3h0M183.7 940.5h0M153.1 966.1h0M217.9 913.4h0M138 977.5h0M112.3 998h0M93 1013h0M174.5 949.3h0M138.6 977.1h0M103.7 1005.7h0M134.9 979.4h0M228.6 904.8h0M145.2 972.1h0M110.5 1000h0M193.5 933.5h0M122.2 991.7h0M88.6 1017.1h0M98.5 1010.3h0M244.2 890.3h0M97.9 1010.5h0M192.8 933.2h0M96.4 1011.7h0M120.4 991.9h0M112.5 997.7h0M117.8 994.5h0M101.1 1008.5h0M121.7 991.3h0M186.4 940h0M132 981.8h0M99.6 1009.6h0M196 929.5h0M213.7 914.9h0M124.6 988.2h0M118.1 992.9h0M90.6 1016.7h0M94.1 1013.7h0M115.4 995.7h0M96.9 1010.7h0M248.8 887.9h0M150.7 966h0M113.7 996.8h0M142 975.3h0M102.5 1006.8h0M222.9 907.2h0M129.1 984.6h0M171.2 949.3h0M103.7 1004h0M131.6 982.4h0M171.8 948.9h0M118.9 993.6h0M92.5 1015.4h0M126.9 985.4h0M204 925.1h0M126.3 986h0M265.5 870.7h0M140.5 977.1h0M218.6 912.4h0M94.5 1013h0M150.2 968.2h0M133.5 980.4h0M116 995.7h0M221 909.3h0M99.9 1008.2h0M131.1 983.9h0M113.6 997.9h0M242.2 894.3h0M189.5 935.8h0M104.1 1005.6h0M100 1008.1h0M95.9 1011.9h0M105.1 1004h0M225.3 907.2h0M211 920h0M194.8 933.5h0M120.1 993.2h0M127.9 987.1h0M143.6 972.9h0M199.8 927h0M90.8 1016.2h0M105 1003h0M143.1 973.9h0M100.7 1008.5h0M231.8 901.2h0M94.7 1013.6h0M257.2 881.2h0M107.6 1002.4h0M102.9 1005.3h0M121.9 991.9h0M152 966.4h0M264.9 872.4h0M130.3 985h0M221.8 911.9h0M215.5 915.3h0M270.9 873.6h0M116.5 996.3h0M131.5 982.1h0M96.4 1011.5h0M119.2 993.4h0M115.5 998h0M99.9 1009.4h0M202.8 926.4h0M113.6 997h0M99.8 1009.3h0M101 1008.8h0M94 1013.3h0M183 941.3h0M134.5 979.6h0M134.8 980.9h0M122.9 989.2h0M242.9 891.7h0M115.3 998.1h0M131 982.9h0M163.2 956.8h0M226.2 903.1h0M210.4 915.9h0M218.8 912.8h0M104.2 1004.8h0M228.3 906.7h0M206.2 923.9h0M116.3 995.6h0M194.4 932.9h0M232.9 902.2h0M176.3 946.7h0M175.8 946.2h0M204.4 923.2h0M216.7 914.7h0M190.1 936.3h0M100.4 1007.8h0M101.5 1008h0M98.6 1009.3h0M126.6 988.7h0M96.1 1011.6h0M139.3 976.2h0M226.1 903.7h0M263.9 873.5h0M94.2 1013.8h0M161.3 960.4h0M100.2 1007.8h0M213.4 916.9h0M96.4 1011.9h0M99.3 1009.5h0M113.7 997.2h0M92 1015.2h0M154.5 963.5h0M101.8 1008.8h0M175.6 946.9h0M233.9 900.9h0M129.4 985.3h0M129.3 984.6h0M319.5 829.7h0M110 999.8h0M217.2 914.5h0M173.3 951.8h0M88.5 1018.1h0M111.9 999.1h0M175.1 946.7h0M92.6 1014.5h0M207.4 920h0M222.1 906.7h0M186.8 938.2h0M200.9 925h0M146.5 971.8h0M198.1 928.9h0M124.7 988.2h0M122.3 990.1h0M168.8 951.4h0M124.8 987.4h0M113.4 997.2h0M108.1 1002.2h0M123.7 988.7h0M120.4 992h0M184 940.9h0M188.9 936h0M196.5 930.1h0M207.7 922.8h0M117.6 994.1h0M115 997.2h0M204.8 924h0M104.9 1005.2h0M167.2 954.9h0M136 979.6h0M154.2 965.4h0M166.9 954.9h0M161.7 957.6h0M107.8 1001.1h0M92.6 1016.3h0M235.5 901.2h0M221.7 906.7h0M131.8 984.1h0M158 963.6h0M100.6 1007.9h0M125.4 988.8h0M144.2 972.8h0M170.1 949.8h0M106.8 1002.1h0M100.1 1008h0M242.6 894.9h0M208.1 922.4h0M101.5 1006.8h0M198.1 929.1h0M199.7 926.6h0M104.9 1003.8h0M196.6 931.3h0M119.4 993.1h0M116.7 993.9h0M102.5 1006.2h0M141.5 975.2h0M146.6 969.8h0M134.8 980.6h0M100.9 1007.8h0M193.6 933.5h0M111.2 999.5h0M108.8 1000.8h0M151.5 965.6h0M102.9 1006.5h0M223 911.2h0M149.4 967.9h0M192.9 932.6h0M115.5 995.3h0M122.4 991.6h0M109.2 1001h0M109.2 1001.3h0M121.4 990.6h0M191.6 933.4h0M127.7 986.1h0M203.8 923.3h0M99.5 1009.3h0M111.1 1000.1h0M95.4 1012.3h0M221.9 910.1h0M95.3 1012.2h0M140 974.7h0M159.6 960.5h0M103.9 1005.7h0M263.5 874.7h0M266.7 874.4h0M109.1 1000.9h0M99.8 1009.1h0M156.8 963.3h0M134.3 981.6h0M146.4 970.7h0M148.5 968.4h0M237.5 895.8h0M186.9 937.8h0M110.4 1000.5h0M183.3 939.5h0M125.3 988.3h0M257.3 879.2h0M128.2 987.6h0M89.9 1015.7h0M222.3 908h0M111.9 998.5h0M200.7 926.6h0M145.4 972.2h0M177.2 947.2h0M176.1 947.7h0M222.7 908.9h0M203.6 923.6h0M152.6 965.3h0M113.3 997.8h0M127.6 987.4h0M112.7 998.6h0M117.8 993.8h0M127.1 986h0M119.1 993.6h0M110.3 999.6h0M111.9 999.1h0M113.2 997.6h0M101.7 1007.9h0M145 972h0M99.9 1008.9h0M105.6 1005.4h0M104.4 1004.4h0M168.8 951.1h0M110.7 1001h0M99.7 1008.2h0M200.7 927.4h0M125.8 987.8h0M194.3 932.5h0M110.7 999.8h0M114.6 994.9h0M137 978h0M94 1012.7h0M260.3 883h0M97.1 1010h0M223.1 906.6h0M154.6 963.6h0M184.8 939.7h0M106.5 1003.4h0M217 914h0M134.6 979.7h0M119.1 993.3h0M101.8 1007.2h0M101.3 1006.9h0M212.4 918.4h0M250.1 883h0M122.1 989.8h0M175 945.7h0M170.9 952h0M128.4 986.1h0M130.3 984.9h0M138 977.8h0M115.9 996.5h0M183.3 940.1h0M121.2 991.4h0M130.2 983.8h0M102.4 1007.8h0M263 875.8h0M99.7 1008.7h0M174 946.9h0M157.1 963.2h0M118.3 993.7h0M259.6 881.8h0M93.6 1013.2h0M114.2 997.3h0M117.3 994.1h0M153.3 963.5h0M142.1 972.7h0M171.2 951.6h0M212.6 917.9h0M95.9 1012.6h0M140.2 976.2h0M121 991.8h0M164.3 956.1h0M134 981.8h0M114.9 996.5h0M88.4 1017.6h0M114.1 998.1h0M125.9 988.5h0M114.7 997.1h0M116.9 994.5h0M154.8 964.3h0M118 994.5h0M207.9 920.1h0M114.4 996.7h0M126 986.6h0M127.4 987.2h0M222.7 910.3h0M149.2 968.3h0M241.8 894.5h0M89.3 1017.5h0M240.4 895.2h0M103.2 1005.4h0M220.2 909.4h0M93.9 1013.6h0M207.6 922.9h0M152.4 966.1h0M165.9 956h0M121.9 990.7h0M121.6 993.2h0M104.5 1004h0M100.8 1006.9h0M150.5 967.2h0M115.5 996.4h0M96.7 1011.6h0M105 1003.8h0M104.1 1004.9h0M104.7 1005.4h0M125.9 985.9h0M220.8 908.8h0M143.1 972.9h0M176.7 946.9h0M97.2 1010.8h0M164 957.2h0M214.2 915.1h0M303.3 845.7h0M171.5 949.8h0M146 971.4h0M244.8 892.9h0M100.7 1007.6h0M194.4 930.8h0M175.5 948.9h0M173.4 949.3h0M117.3 994.7h0M99.7 1009.3h0M98.7 1010.4h0M161.8 960h0M113.9 998h0M230.3 902.6h0M98.1 1010.7h0M201.6 928.1h0M130.5 983.7h0M111.5 1000h0M106.3 1002.2h0M116 995.7h0M116.3 995.4h0M109.1 1000.9h0M108.6 1001.5h0M252.3 884.8h0M122.7 989.4h0M147.5 968.9h0M170.7 950.2h0M114.6 996.2h0M224.2 909.4h0M113.7 997.1h0M104.4 1004.9h0M93.6 1013.7h0M106.1 1004.3h0M92.7 1014.8h0M150.8 967.4h0M144.5 973.1h0M93.3 1013.7h0M233.7 900.8h0M179.3 944.6h0M137 977.2h0M229.2 904.8h0M135.1 981.6h0M104.9 1005.2h0M192.9 933.3h0M237.2 893.9h0M93.9 1013.6h0M130.1 982.8h0M107 1003.7h0M222.7 907.7h0M97.8 1011h0M195.8 930.8h0M101.9 1008h0M150 968.8h0M166 955.2h0M187.1 937.4h0M94.9 1013.2h0M129.1 983.8h0M99.8 1008.9h0M101 1006.9h0M102.8 1005.5h0M101.4 1008.7h0M224.9 906.3h0M139.6 978h0M106.9 1002.5h0M130.8 983h0M93.3 1014.8h0M108.2 1003.3h0M151 968.5h0M164.8 957.9h0M146.6 970.1h0M270.2 872.4h0M266.5 873.4h0M205 923.7h0M125 988.5h0M180.2 944.4h0M109.2 1001.1h0M211.1 918.2h0M107.2 1003.7h0M293 850.1h0M92.3 1015.7h0M196.3 930h0M128 986.7h0M201.8 926.6h0M132 982.3h0M202.1 927.4h0M170.1 954.2h0M153.4 966.6h0M235.4 898.9h0M100.6 1007.1h0M226.7 906.6h0M132.2 982.1h0M169.6 951.6h0M161.5 960h0M120.9 991.4h0M135 980.9h0M252.2 886.7h0M127.9 985.3h0M223.2 907.4h0M88.9 1018.4h0M141.5 974.4h0M163.1 957.7h0M120.2 993h0M98.6 1008h0M194 930.4h0M180.7 942.3h0M116.3 995.6h0M96.9 1012h0M204.1 921.9h0M184.9 938h0M202.5 926h0M198.1 928.4h0M109.3 1001.2h0M152.9 965.6h0M127.4 986.4h0M122.2 990.2h0M120.9 991.8h0M159.8 958.9h0M370.9 788.3h0M130.2 983.4h0M118.7 992.4h0M150.8 968h0M153.3 965.4h0M122.9 991.5h0M153.5 965.2h0M156.5 962.6h0M182.7 940.8h0M105.5 1004.4h0M155.6 964h0M122.1 990.8h0M215.4 915.8h0M146 972h0M199.7 927.6h0M200.8 927.2h0M106.3 1004.9h0M100.4 1007.3h0M186.9 940.1h0M93 1014.6h0M228.4 904.8h0M164.2 955.6h0M122.3 990.5h0M162.4 956.4h0M100.1 1009.1h0M150.3 968.2h0M227.8 906h0M88.7 1017.2h0M229.9 901.7h0M112.9 998.2h0M120.2 992.4h0M229.6 904.1h0M195.1 930.2h0M122.7 989.4h0M265.3 875.3h0M92.8 1015.4h0M155.3 963.4h0M134.4 980.8h0M217.4 913.8h0M96.6 1011.7h0M112.2 998.2h0M130.9 982.3h0M95.7 1012.5h0M151.4 966.6h0M208.1 920.9h0M221.5 908.9h0M97.3 1011.1h0M127.8 985.3h0M268.1 872.9h0M93 1014.6h0M167.2 953.5h0M111.7 998.5h0M220.1 908.7h0M149.3 968.5h0M221.2 910h0M92.4 1014.9h0M147.9 969.9h0M121.8 990.7h0M101 1007.2h0M119.8 994.1h0M177 945.9h0M143.9 972.5h0M143.3 972.9h0M112.7 998.7h0M135.9 978.9h0M127.4 985.9h0M219.5 910.7h0M216.8 914h0M127.2 987.1h0M127.5 986.1h0M111.4 999.1h0M139.6 978h0M97.1 1010.9h0M243.9 891.5h0M122.7 990.6h0M90.4 1016.5h0M110 999.6h0M228.7 903.8h0M111.7 998.5h0M118.8 991.9h0M257.4 879.4h0M190 935.9h0M115.8 995.5h0M104.6 1006h0M121.9 991.9h0M117.8 994.7h0M215.9 915.7h0M137.7 978.1h0M226.6 908.1h0M274.2 865.1h0M214.2 916h0M120.5 992.4h0M122.7 990.1h0M137.2 980.5h0M161 959.4h0M209.8 916.5h0M201.9 925.4h0M111.6 999.6h0M179.5 943.7h0M117 995.6h0M187.2 937.7h0M89.2 1016.8h0M210.1 918.2h0M167.2 953.3h0M101.1 1008.1h0M108 1002.5h0M112.5 998.9h0M132.6 981.8h0M222.4 911.3h0M250.8 886.9h0M148.6 967.3h0M100.1 1008.1h0M259.6 880.6h0M244.8 891.9h0M99.6 1009.2h0M155 963.5h0M156.6 963.1h0M156.8 963.7h0M173.4 947.3h0M91.1 1016h0M113.4 999h0M118.2 993.8h0M157.4 961.3h0M97.3 1011.4h0M113.7 997.9h0M105.3 1003.8h0M94.5 1013.6h0M131.4 984.7h0M102.2 1007.5h0M127.6 985.5h0M103.1 1006.3h0M193.7 932.1h0M97.4 1011.3h0M186.3 937.4h0M158 961.7h0M103.5 1006.5h0M118.6 993.5h0M120.9 992.9h0M125.1 986.8h0M158.2 963.3h0M88.4 1019h0M105 1005.3h0M169.9 951.1h0M99.3 1008.7h0M210.2 916.7h0M117.2 994.4h0M93.7 1013h0M188.2 938.4h0M108.8 1001.7h0M373.1 785.7h0M227.5 906.1h0M216.7 913.1h0M218.8 910.1h0M96 1011.3h0M96.4 1011.7h0M119.2 991.5h0M121.9 990.9h0M120.1 991h0M144.4 973.8h0M189.3 934.1h0M192.6 933.1h0M228.1 902h0M160.4 961h0M217.5 913.2h0M99.5 1008.7h0M96.4 1011.6h0M123.5 992.4h0M218.8 911.7h0M120.2 992.7h0M98.6 1008.9h0M100.6 1009.4h0M106.1 1004.4h0M211.3 916.6h0M117.3 994h0M213.9 916.5h0M229.2 903.2h0M187.4 938.7h0M225.4 905.8h0M105.7 1004.1h0M102.3 1006.1h0M106.3 1003.3h0M90 1017.4h0M225.8 905.1h0M102.9 1006h0M153.3 963.7h0M111.6 999h0M137.1 978.2h0M127.2 986.5h0M174.1 947.8h0M105.3 1004.5h0M111.9 999.4h0M99.5 1008.8h0M111.4 999h0M206.1 921.3h0M242.5 896.8h0M92.1 1015.6h0M207.8 921.1h0M179 944.3h0M99.6 1009.7h0M104.6 1005.3h0M211.6 917.6h0M105.6 1004.1h0M221.6 911.3h0M136.5 979.8h0M270.6 871.2h0M127.8 986.3h0M99.6 1009.6h0M148.1 969.8h0M124 989.1h0M92.9 1013.8h0M198.1 926.9h0M222.3 911h0M244.6 889.4h0M153.4 965h0M142 975.9h0M101.6 1007.3h0M244.1 895h0M179.3 943.2h0M161.3 959.8h0M164.6 956.4h0M203.1 924.8h0M117.5 995.1h0M100.6 1008.5h0M290.5 853.4h0M95.5 1012h0M113.3 997.2h0M131.8 984.4h0M94.1 1013.5h0M111.7 999h0M210.9 920.9h0M150.1 968.3h0M143.9 972.5h0M89.2 1017.9h0M122.7 990.7h0M98.2 1011.1h0M122.2 990.1h0M120.3 992h0M122 991h0M111.9 998.4h0M189.7 936.2h0M124 990h0M220.7 911.8h0M114.8 996.6h0M100.6 1008.2h0M118.4 993.6h0M214.2 914.1h0M114.3 996.1h0M201.4 923.7h0M166 955.1h0M109.2 1000.6h0M103.9 1006.8h0M97.7 1010.3h0M124.4 990.1h0M164.2 954.9h0M110.7 999.7h0M237.1 897.6h0M92.2 1014.3h0M190.5 936.7h0M103.8 1006.4h0M333.8 813h0M100.6 1008.2h0M227.1 905.1h0M118.9 993.9h0M110.8 1000.4h0M95.7 1011.7h0M105.8 1003.9h0M118.8 992.5h0M224.3 907.8h0M246.3 889.5h0M100.2 1008.9h0M139.6 976.4h0M94.9 1013.2h0M98.1 1011.5h0M148.4 968.8h0M134.6 980h0M219.7 910.3h0M220.3 912.5h0M104.2 1004.7h0M151.8 967.4h0M194.9 932.2h0M186.7 936.7h0M137.3 977.9h0M134.4 980.9h0M141.2 975h0M123 991.3h0M139.8 976.8h0M217.2 914.9h0M118.6 992.3h0M126 987h0M125.6 987.3h0M213.5 914.6h0M108.6 1001.7h0M127.4 985.4h0M183.5 940.8h0M119.7 992.9h0M206.6 922.5h0M135.9 978.8h0M100 1008.7h0M116.9 994.6h0M98.9 1009h0M127.2 985.3h0M114.5 996.2h0M115 995.5h0M203.3 925.5h0M223.8 908.6h0M183.1 942h0M187 938.4h0M216.6 914.5h0M220.1 911.5h0M101.3 1008.6h0M220.1 909.3h0M101.9 1006.9h0M112.2 1000h0M190.4 936.5h0M101.1 1007.9h0M245.4 892.1h0M226.3 907.4h0M88.8 1018.4h0M150.8 966.2h0M223.9 906.4h0M139.1 975.7h0M133.5 981.6h0M144.7 972.1h0M137.6 977h0M144.3 973.4h0M159.8 960.6h0M239.8 895.4h0M98.4 1009.8h0M109.1 1000h0M89 1018.3h0M93.1 1014.7h0M101.4 1008.8h0M221.1 909.9h0M113.2 997.6h0M147 970.1h0M113.6 997.1h0M274.6 866.2h0M103.5 1004.8h0M120.9 992.4h0M114.5 997.2h0M108.1 1000.6h0M97.6 1010.6h0M119.1 992.4h0M101.6 1007.2h0M93.1 1013.8h0M217.8 912.5h0M115.6 996.5h0M89.3 1017h0M146.8 969.4h0M131.7 983.2h0M163.6 956.5h0M115.6 995.1h0M97.9 1010.9h0M150.7 967.5h0M120 992h0M218.7 912.5h0M114.2 997.5h0M107.3 1002.4h0M105 1004h0M106 1003.6h0M107.7 1003.5h0M135.4 980.6h0M114.7 996.3h0M250.1 885.7h0M102.9 1005.3h0M230.4 902.4h0M118.5 993.1h0M131.5 981.7h0M237.9 897.5h0M190.8 933.5h0M231.4 899.4h0M138.2 977.6h0M114.1 996.5h0M159 963.5h0M166.8 954.2h0M95.1 1012.4h0M99.5 1008.9h0M231.2 902.8h0M172.4 949.1h0M199.5 927.4h0M102.1 1007.3h0M258 877.5h0M111.4 999.7h0M97.4 1010.4h0M118.2 992.3h0M115.8 996.8h0M96.6 1011.9h0M208.3 921.6h0M213.5 916.8h0M104.6 1003.9h0M138.5 977.5h0M214.8 914.1h0M117.9 995.6h0M135.7 979.8h0M107.9 1001.4h0M123.6 990.2h0M110.7 1000.1h0M202.6 926.7h0M103.5 1006h0M96.6 1012.4h0M221.9 909h0M103.1 1005.1h0M136.7 977.9h0M168.5 952.9h0M115.1 996.4h0M225.8 906.6h0M116.3 995.9h0M105.3 1004.6h0M94.2 1012h0M223.3 911.4h0M105.7 1004.6h0M221 912.5h0M126.2 986.3h0M225.8 906.8h0M97.1 1011.9h0M207.9 921.3h0M261.3 875.6h0M171.1 949.3h0M97.8 1009.9h0M329.3 821h0M196.5 928.9h0M108.3 1001.3h0M251.6 884.8h0M98.5 1011.1h0M98.2 1011.4h0M90.9 1017h0M144.4 973.4h0M120 993.7h0M100.8 1008.9h0M129.3 984.8h0M217.2 914.9h0M97.9 1011.2h0M149.7 968.1h0M102.1 1006.7h0M132.9 981.1h0M116.2 994.7h0M112.1 997.8h0M91.7 1015.4h0M142.2 974h0M126.4 987.8h0M163.6 957.4h0M103.3 1006.5h0M268 873.3h0M96.3 1011h0M102.7 1005.6h0M152.2 966.4h0M99.3 1008.4h0M107.7 1001.8h0M128.5 985.9h0M183.6 941.1h0M212.8 918.8h0M110.5 1000.9h0M154.2 963.3h0M94.6 1013.1h0M217.5 914.9h0M159.3 962.2h0M220.5 910.9h0M109.2 1001.5h0M130.5 984.7h0M176.3 946.9h0M96 1012.2h0M202.2 927.4h0M170.6 950.1h0M192.4 933.6h0M101.7 1005.9h0M193.1 933h0M140.2 976.3h0M102 1007h0M99.7 1008.1h0M208.3 920.5h0M119.3 993.2h0M110.8 999.6h0M115.2 996.7h0M165.4 956.4h0M99.3 1009.3h0M105.4 1004.3h0M155.1 965.3h0M217.2 914.8h0M159.7 960.7h0M229.9 902.8h0M112.5 997.7h0M117.8 994.1h0M117.3 995.9h0M114.8 997.6h0M106.8 1003h0M195.9 932.2h0M113.3 999.1h0M122.5 990.7h0M129 984.9h0M313.4 836.2h0M114.5 997.2h0M164.8 957.1h0M115.7 996.5h0M195.5 932.5h0M121.3 991.6h0M93.2 1014.2h0M132.2 982.6h0M117.4 995.8h0M108.7 1001.8h0M114.3 996.9h0M90.2 1017.7h0M175.9 946.6h0M136.6 979.4h0M153.6 965.2h0M143.8 973.7h0M115 996.7h0M124.9 988.5h0M128.3 985.1h0M222.8 912.8h0M117.5 994.1h0M105.2 1005.5h0M99.7 1009h0M116.1 995.3h0M144.6 972.3h0M142.3 973h0M178.9 943.3h0M154.7 964.5h0M98 1010.9h0M121.4 990.3h0M115.6 995.2h0M100.6 1008.7h0M142.9 974.6h0M188.5 936.4h0M95.1 1013.2h0M134.4 980.8h0M99 1009h0M185.3 940.4h0M137.8 976.1h0M96.3 1011.2h0M134.8 980.4h0M108.9 1002h0M103 1005.9h0M159 959.1h0M122.2 990.6h0M225.6 909.7h0M222.9 907.5h0M206.6 923.3h0M120.2 991.8h0M222.3 909.5h0M96.5 1012h0M185.3 939.1h0M118.6 994h0M213.6 914.3h0M93.3 1013.7h0M140.7 976.4h0M96.5 1011.2h0M112.9 999.5h0M139.4 976.4h0M98.6 1009.5h0M162.9 957.7h0M133.9 982.1h0M108.4 1001.7h0M133.1 982.4h0M127.3 985.2h0M95.8 1012.3h0M167 955.5h0M172.6 950.8h0M223.4 910.3h0M231.5 900.2h0M117.8 993.7h0M150.2 968.8h0M148.8 968.9h0M95.3 1012.8h0M173 949h0M112.9 998h0M119.8 992.2h0M148.9 969.7h0M127.8 986.4h0M111.1 1000.7h0M218.2 912.8h0M98.6 1008.7h0M148.8 970.4h0M104.8 1004.6h0M226.8 904.7h0M225.4 907.4h0M173.2 948.8h0M216.5 915.3h0M185.8 941.6h0M153.8 963.6h0M181.2 942.3h0M222.5 907.3h0M107.9 1002.2h0M177.1 943.9h0M102.6 1006.3h0M123.9 989.2h0M114.7 996.8h0M150 968.4h0M152.1 965h0M223.5 910.6h0M204.9 924h0M93.9 1014.5h0M103.6 1005.8h0M93 1014.4h0M167.2 953.4h0M114.6 997.3h0M257 880.2h0M108.1 1002h0M237.6 896.4h0M184.1 940.2h0M185 938.6h0M147.2 969.7h0M217.9 913.7h0M105.7 1003.7h0M211.9 917.8h0M217.4 915.2h0M147.9 968.8h0M156.7 963.1h0M108.5 1002.6h0M127.8 987.1h0M140.9 976.1h0M113.7 996.8h0M93.1 1013.8h0M234.2 897.3h0M196.8 930.1h0M114.5 997h0M135.6 980.3h0M143.5 974.4h0M238.7 895.7h0M137.3 977.8h0M173.5 949.4h0M196.8 930h0M97.7 1009.9h0M141.7 975h0M226 905.2h0M205.5 924.3h0M225.6 908h0M103 1005.9h0M193 934.6h0M112.3 998.5h0M218.5 911.6h0M191.7 935.2h0M116.7 994.5h0M142.5 974.3h0M130.3 984.3h0M231.8 902.1h0M136.9 980.3h0M98 1009.6h0M132.8 984.2h0M96 1012.2h0M98.2 1010.5h0M129.4 985.6h0M125.3 988.1h0M96.6 1011.1h0M114.3 997.6h0M110.8 1000.9h0M113.7 997.2h0M125.1 987.3h0M94 1013h0M96.6 1011.3h0M106 1003.9h0M171.3 949.3h0M227.8 904.4h0M183.6 939.2h0M99.2 1008.5h0M203.1 924.1h0M200.9 928.5h0M207 922.1h0M177.5 946.3h0M106.3 1003.5h0M129.2 985.4h0M123.1 988.5h0M94.4 1012.3h0M138.2 979.3h0M109.9 1001.1h0M234.2 899.2h0M156.1 963.5h0M198.2 932.5h0M93.7 1013.6h0M172.3 948.7h0M197.4 930.1h0M123.6 988.7h0M108.4 1002.7h0M131.1 985.3h0M140.3 976h0M126.2 987.5h0M110.7 999.8h0M162.2 956.9h0M217.3 915.1h0M107.9 1002.8h0M219 912.2h0M92.5 1013.8h0M165.7 954.2h0M117.7 995.3h0M134.8 979.4h0M115.2 996.1h0M100.8 1008h0M102.2 1007.3h0M273.4 866.9h0M122.4 990.6h0M236.6 897.7h0M133 982h0M221.5 910.2h0M126.8 987h0M296.3 850.7h0M128.5 986.5h0M107.2 1003.1h0M103.9 1005.9h0M95.6 1012.6h0M98.2 1010.2h0M159 959.9h0M117.7 995.4h0M216.4 915.4h0M102.3 1007.5h0M225.1 906.2h0M102.2 1007.2h0M106.1 1004h0M116 996h0M106.4 1003.2h0M121.5 990.8h0M193.6 932.1h0M94 1013.4h0M109.7 1000.1h0M94.4 1013.9h0M188.3 937.3h0M97.8 1010.2h0M135.3 979.9h0M211.1 915h0M114.1 997.2h0M101 1008.6h0M108.6 1001.4h0M229.1 904.1h0M100.1 1009h0M214.2 915.6h0M99.7 1007.6h0M104.6 1004.8h0M185.5 939.6h0M152.8 965.7h0M110.9 1000h0M169.1 953.4h0M102.9 1005.6h0M216 915h0M141.7 974.2h0M232.1 901.2h0M140.9 975.9h0M142.8 973.5h0M208.4 920.9h0M141.1 974.9h0M97.2 1012.5h0M146.9 972h0M111.5 999.4h0M150.5 968.1h0M369.5 792.7h0M146 972h0M204.7 923.6h0M118.6 993.5h0M89.4 1017.2h0M94.2 1013.3h0M91.1 1016h0M106.9 1002.6h0M106.1 1003h0M112.8 998.5h0M155.3 964.4h0M180 944.6h0M185.8 937.9h0M183.9 939.9h0M206.5 921.2h0M175.2 948.9h0M125.8 986.6h0M122.3 991.3h0M99.3 1008h0M91.2 1015.3h0M210.2 918.2h0M101.9 1007.1h0M211.2 917.5h0M121.2 991.1h0M94.5 1012.8h0M204.2 921.4h0M172.8 949.2h0M337.6 814h0M138.9 976.9h0M226.5 904.6h0M127.6 985.6h0M106.8 1004h0M119.9 992h0M158.1 961.4h0M215.7 914.9h0M199.8 928.2h0M227 903.9h0M134.6 981.6h0M126.4 985.6h0M133.4 980.3h0M224.5 907.8h0M115.3 995.7h0M94.8 1012.7h0M121 992.5h0M155.5 964.9h0M205.9 922.2h0M230 902.4h0M163.4 956.5h0M200.2 927.1h0M200.1 927.3h0M201 924.9h0M147.4 969.4h0M228.2 906.2h0M217.2 911.7h0M88.8 1017.7h0M97.8 1010.1h0M297.3 845.3h0M158 959.3h0M100.6 1008.3h0M220.5 912h0M98.7 1008.6h0M135.6 978.8h0M122.4 989.3h0M110.2 999.4h0M106.8 1002.7h0M99.4 1009.5h0M115.2 996.6h0M96.9 1010.2h0M150.3 967.1h0M112.3 998.7h0M187.5 938.6h0M227.1 905.5h0M217.5 912.2h0M178.3 945.9h0M191.1 935.8h0M100.3 1007.9h0M252.9 885.4h0M143.6 973.8h0M140.2 976h0M158.6 960.1h0M101.3 1007.9h0M129.8 983.6h0M98.8 1010.2h0M223.4 909.8h0M128.8 985.1h0M99.8 1008.9h0M248.8 887.3h0M141.6 975.9h0M180.1 941.7h0M195 933h0M167.8 952.5h0M123.9 989.5h0M112 1000.1h0M93.2 1014.2h0M151.8 967.3h0M99.5 1009.5h0M116.4 995.2h0M217.5 913.2h0M220.3 907h0M200.1 925.8h0M104.9 1005h0M231.9 906h0M97.3 1010.9h0M220.9 910.3h0M183.2 941.1h0M252.7 886.5h0M269.3 874h0M135.5 980.2h0M113.9 997.6h0M221.9 907.5h0M111 999h0M118.5 993.5h0M142.7 975.7h0M98.3 1010.1h0M123.6 989.4h0M100.9 1007.9h0M126.1 986.7h0M219.8 912.8h0M224.6 906.9h0M241 892.5h0M171.6 950h0M183 940.6h0M121.2 991.5h0M217.3 914.8h0M99.8 1008.8h0M102.7 1006.6h0M99.5 1009.9h0M122.5 990.8h0M94.9 1013.5h0M169.2 952.7h0M103.9 1006.7h0M163.3 959h0M137.7 976.2h0M165.6 955.3h0M169.4 951.9h0M189.3 934.7h0M131.3 982.1h0M142.4 974.3h0M106.6 1001.5h0M128.1 987.1h0M100.9 1007.9h0M240.2 895.2h0M225.2 904.6h0M93.3 1015.8h0M91.8 1015.5h0M119.3 993.1h0M134.1 981.3h0M130.4 984.6h0M118.4 994.7h0M148 968.3h0M119.2 991.7h0M121 992.8h0M96.4 1011.7h0M141.8 975.4h0M97.2 1010.2h0M206.6 922.6h0M131.1 982.8h0M118.4 993.6h0M155.8 964.8h0M216.4 914.5h0M102.9 1006.7h0M119.5 991.3h0M256.4 879h0M212.7 915.4h0M121 991.1h0M114.8 995.2h0M201.8 926.9h0M99.5 1010h0M99.3 1008.3h0M144.2 972.2h0M136.4 979.2h0M143.2 974.4h0M186 938.6h0M217.9 915h0M122.8 989.1h0M110.2 1000.5h0M207.1 922.2h0M107.1 1003.2h0M217.4 911.1h0M170.5 952.8h0M209.5 920.3h0M151.8 968.5h0M97.6 1010.5h0M173.5 949.1h0M129.4 986.7h0M101.7 1008.7h0M100.8 1007.8h0M109.2 1000.5h0M99.5 1008.3h0M97.9 1011.2h0M204.4 922.5h0M234 902.4h0M305.5 838.9h0M136.4 979.8h0M138.9 976.3h0M94.9 1013.1h0M100.9 1008.5h0M186.9 934.2h0M144 974.4h0M137.2 977.5h0M182.4 942.7h0M199 929.1h0M171.2 950.3h0M92.2 1014.3h0M137.3 978.5h0M204.7 923.3h0M197.9 930.1h0M230.6 901.2h0M136.2 978.9h0M132.5 982.8h0M95.6 1011.8h0M134.1 983.5h0M140.6 975.7h0M221.2 909.9h0M218.7 910.1h0M95 1013.1h0M100.3 1008.2h0M122.4 990.9h0M191.6 936.5h0M102.7 1007.2h0M187 939h0M144.1 973.6h0M218.7 909.6h0M117.1 994.2h0M120.7 991.8h0M92.8 1014.5h0M132.3 983.4h0M187.2 938.2h0M133.6 981h0M134.8 979h0M221.7 912.4h0M186.1 939.8h0M110.8 999.4h0M231.9 900.4h0M172.5 950.7h0M112.7 1000.4h0M106 1002.5h0M162.3 955.2h0M128.1 985.7h0M147.2 970h0M100.4 1009.3h0M185.4 939h0M213.5 914.4h0M120.5 991.3h0M114.2 997.1h0M255.1 882.3h0M255.3 878.7h0M99.2 1008.5h0M139.2 976.3h0M125.6 988h0M110.7 1000.5h0M134 979.7h0M158.4 961.4h0M117.3 994h0M111.4 999.7h0M214.9 917.1h0M155.5 963.4h0M110.2 1001.6h0M101.2 1007.5h0M120.1 992.4h0M229.3 904.4h0M206.1 921.7h0M109 1001.7h0M146.6 970.6h0M89.2 1016.8h0M219.7 914.3h0M228.7 906.9h0M108.8 1000.7h0M114.6 996.6h0M113.4 998.9h0M102.9 1005.3h0M165.5 955.4h0M117 994h0M88.5 1019.5h0M108.9 1001.6h0M157.6 960.7h0M167.4 953.1h0M92.3 1016.1h0M139.8 974.2h0M152 966h0M152.4 965.3h0M153.9 963.3h0M189.8 935.5h0M118.3 993.6h0M210.1 920.6h0M124 988.8h0M94.8 1013.2h0M155.2 965.7h0M115.1 995.5h0M152.8 966.6h0M117.3 994.9h0M127.8 985.6h0M139.1 978.4h0M166.9 954h0M110.4 1001.7h0M159.9 960.3h0M105.7 1003.2h0M191.1 933.6h0M108.6 1002.7h0M93.6 1013.1h0M95.5 1012.6h0M145.3 973.4h0M110.3 1001.6h0M142.8 974.2h0M110.1 999.5h0M126.4 987.4h0M214.6 916.5h0M223.9 906.7h0M95.9 1012.7h0M230.7 904h0M131.7 981.8h0M179.1 943.5h0M227.8 904.1h0M104.9 1005.2h0M122.4 989.8h0M218.4 912.9h0M135.8 979.5h0M219.8 911.1h0M205.4 921.7h0M375.7 788.7h0M155.3 963.7h0M94.3 1012.4h0M219.9 911.4h0M102.5 1006.9h0M104.3 1004.1h0M116.7 997.2h0M105.2 1004.4h0M97.9 1010.2h0M150.4 968.7h0M222.7 908.9h0M109.8 1001.6h0M115.9 996h0M151.1 966.1h0M110.2 1000.5h0M128.5 986.2h0M223.4 909.5h0M101.1 1007.8h0M134 981.9h0M109.3 1000.5h0M185.3 939.7h0M104 1006.2h0M201.5 924.7h0M120.2 992.5h0M226.6 904.3h0M117.6 995.2h0M128.1 984.7h0M97.9 1009.8h0M112.5 998.3h0M119.8 992.4h0M215.8 916.5h0M141.3 974.3h0M201 927.3h0M208.3 920.7h0M99.2 1010.3h0M112.7 998.4h0M203.3 925.2h0M182.9 941.7h0M138.2 975.9h0M119.1 992.3h0M129.8 985h0M90.2 1017h0M99.8 1008.7h0M118.5 994.1h0M97 1010.4h0M108.3 1002.6h0M196.2 932.1h0M186.5 937.6h0M177.5 945.3h0M139.3 975.7h0M226.2 907.5h0M107.4 1001.8h0M147.9 968.9h0M121.4 991.9h0M228.6 903.4h0M115.9 995.7h0M109.5 1001.9h0M185.1 938.3h0M199.8 927.7h0M174.1 947.6h0M189.3 933.5h0M102.1 1008.5h0M146.4 969.9h0M134.5 981.7h0M220 911.4h0M122.1 990.6h0M108.5 1002.4h0M113.5 998.9h0M132.9 982.3h0M270 868.4h0M170.6 950.6h0M173.2 950.1h0M125.6 987.9h0M120.5 991.6h0M227.1 904.6h0M125.8 988.2h0M100.1 1007.8h0M193 933.2h0M104.6 1004.3h0M121.2 992.6h0M146.1 970.1h0M204.2 926.1h0M92.2 1013.9h0M158.1 963.5h0M97.3 1010.6h0M152.3 966.8h0M145.1 971.7h0M132.3 981.2h0M120.3 990.8h0M136.6 978.3h0M239.8 894.2h0M116.5 994.5h0M129.1 984.2h0M104.9 1003.7h0M120.3 991.8h0M93.5 1014.6h0M220.7 909.5h0M114.4 996.3h0M227 906.5h0M99.6 1009.3h0M155.6 963.2h0M148.6 969.4h0M155.2 966.2h0M194.1 933.3h0M96.9 1010.8h0M176.4 946.1h0M94.4 1013.8h0M111.4 999.3h0M208.2 920.6h0M140.8 974.1h0M223.9 906.7h0M213.6 918.1h0M120.5 991.8h0M113.4 997.5h0M104.9 1005.1h0M94 1014.3h0M173.3 947.7h0M196.5 930.9h0M93 1013.9h0M131 983.2h0M203.5 924h0M150.5 967.4h0M120.8 990.4h0M235.4 897.9h0M122.4 990.8h0M113.5 997.8h0M127.6 985.2h0M115 997h0M120.2 993.5h0M127.7 985.9h0M98.8 1010.1h0M147 970.4h0M142.9 974.5h0M168.4 954.3h0M106.6 1004.7h0M95 1011.3h0M167.1 954.3h0M114.5 997.8h0M148.2 970h0M110.8 998.7h0M115 997.4h0M106.6 1003.7h0M130 983.5h0M150.4 968.4h0M108.5 1001.4h0M112.7 998.8h0M124.9 989.1h0M170.9 951.8h0M117.6 994.6h0M93 1014.3h0M132.8 982.3h0M123.6 989.5h0M323.3 827.3h0M141.4 973.4h0M94.4 1013.4h0M149.8 969.1h0M100.6 1007.9h0M117.6 993.8h0M95.3 1012.2h0M148 969h0M102.8 1007.5h0M229 902h0M101.3 1008.1h0M247.5 889.5h0M223.4 905.8h0M132 982h0M123.9 988.3h0M121 991.8h0M180.3 945.6h0M102.5 1006.3h0M117.6 993.8h0M93.4 1015.2h0M120 992.1h0M102.4 1006.5h0M220.3 911.4h0M126.6 987.6h0M109.7 1000.6h0M112.5 998.3h0M102.3 1006.2h0M97.9 1010.5h0M95.4 1012.3h0M174.4 947.5h0M100.4 1009.4h0M202.5 925.7h0M246.6 885.1h0M220.9 910.6h0M103.1 1005.4h0M196.7 931.5h0M145.4 970.4h0M229.5 902.2h0M110.4 998.4h0M148.5 969h0M148.1 969.5h0M104.7 1005h0M146.4 971.3h0M173.6 949.3h0M197 930.4h0M206.4 921.9h0M95.9 1012.1h0M183.4 940.1h0M111.8 999.3h0M187.8 938.1h0M104.5 1006.1h0M115.1 996.9h0M122.9 990.5h0M166.6 953.6h0M146.1 970.8h0M201.7 926.3h0M90.4 1016.1h0M112.2 997.9h0M179 944.3h0M109.6 1001.5h0M203 922.6h0M110.5 999.7h0M161.8 957.9h0M94.4 1011.3h0M221.9 910.3h0M98.9 1009.4h0M122.5 991.5h0M121.2 990.5h0M113 997.4h0M135.2 980.6h0M131.9 983h0M195.6 930.5h0M252.7 884.6h0M193.6 930.8h0M172 949.8h0M101.5 1007.6h0M107.4 1002.4h0M91.4 1016.8h0M97.9 1010.6h0M192.6 932.2h0M92.7 1014.3h0M107.1 1004.4h0M119.7 993.5h0M105.4 1004.5h0M115.1 997.9h0M109.3 1001.6h0M121 991.5h0M102.4 1008h0M94.3 1013.3h0M220 910.1h0M178.3 947.4h0M187.3 939h0M107.5 1001.4h0M231.7 904.2h0M205.3 921.6h0M121.7 992.1h0M113.2 997.3h0M195 932.1h0M93.1 1015.3h0M142.9 975.5h0M212.7 917.9h0M220.1 911.6h0M226.9 906h0M120.6 991.8h0M91 1016.4h0M115.2 995.4h0M106.6 1004h0M141 975h0M175.2 946.2h0M266.3 872.3h0M111.3 1000.7h0M114.5 995.2h0M365.8 794.8h0M313.1 834h0M288.9 861h0M302.1 844.9h0M380.3 779.6h0M319.5 832.1h0M387.4 770.7h0M404.6 767.3h0M396.6 763.9h0M329.6 822.7h0M342 813.8h0M347.6 808.1h0M272.7 869.1h0M370.1 792h0M376.7 787h0M288.8 855.7h0M309.1 835.9h0M352.1 802.6h0M398.9 762.1h0M311.9 837.6h0M387.8 775.5h0M269.5 871.9h0M339.6 813.3h0M303.2 843.1h0M385.4 771.4h0M286.8 855.9h0M273.3 866h0M315.1 830h0M370 791.2h0M366.8 796.4h0M489.7 682.8h0M492.1 687.5h0M460.9 710.2h0M465.1 708.6h0M473.8 709.8h0M448 721.3h0M505.9 719.6h0M424.6 741.4h0M417.5 748.5h0M407 757.8h0M398.8 764.2h0M393.5 768.5h0M388 772.5h0M205.2 937.4h0" stroke="#FF8C00" stroke-width="6.2" stroke-linecap="round" fill="none"/>
<line x1="84.1" y1="1021.6" x2="573.2" y2="627.3" stroke="#FF0000" stroke-width="3.8"/>
<line x1="84.1" y1="1021.6" x2="528.7" y2="627.3" stroke="#808080" stroke-width="3"/>
<line x1="84.1" y1="1021.6" x2="573.2" y2="666.7" stroke="#808080" stroke-width="3"/>
<rect x="574.4" y="560" width="20" height="461.6" fill="#fff"/>
<rect x="84.1" y="606.5" width="499.5" height="20" fill="#fff"/>
<rect x="60" y="1022.4" width="60" height="30" fill="#fff"/>
<rect x="301.5" y="875.3" width="262.1" height="134.6" fill="#fff" stroke="#A8A8A8" stroke-width="1.2"/>
<path d="M333.2 895.3h0" stroke="#FF8C00" stroke-width="6.2" stroke-linecap="round" fill="none"/>
<path d="M330.1 928.2h6.2M333.2 925.1v6.2M330.3 925.3l5.8 5.8M330.3 931.1l5.8 -5.8" stroke="#4DB8F5" stroke-width="1.5" fill="none"/>
<line x1="303.5" y1="959.6" x2="364.3" y2="959.6" stroke="#FF0000" stroke-width="4" stroke-linecap="round"/>
<line x1="303.5" y1="992.1" x2="364.3" y2="992.1" stroke="#808080" stroke-width="3" stroke-linecap="round"/>
<text font-size="24.5" text-anchor="start" transform="translate(377.4 904.1) scale(1 1.04)">Training data</text>
<text font-size="24.5" text-anchor="start" transform="translate(377.4 936.6) scale(1 1.04)">Testing data</text>
<text font-size="24.5" text-anchor="start" transform="translate(377.4 965.8) scale(1 1.04)">100% accuracy</text>
<text font-size="24.5" text-anchor="start" transform="translate(377.4 1002.5) scale(1 1.04)">90% accuracy</text>
<rect x="84.1" y="627.3" width="489.5" height="394.3" fill="none" stroke="#000" stroke-width="1.5"/>
<path d="M157.1 1021.6v-7M230.1 1021.6v-7M303.1 1021.6v-7M376.1 1021.6v-7M449.1 1021.6v-7M522.1 1021.6v-7M558.6 1021.6v-7" stroke="#000" stroke-width="1.5" fill="none"/>
<path d="M120.6 1021.6v-3.8M193.6 1021.6v-3.8M266.6 1021.6v-3.8M339.6 1021.6v-3.8M412.6 1021.6v-3.8M485.6 1021.6v-3.8" stroke="#000" stroke-width="1.5" fill="none"/>
<path d="M84.1 962.8h7M84.1 903.9h7M84.1 845h7M84.1 786.2h7M84.1 727.4h7M84.1 668.5h7M84.1 639.1h7" stroke="#000" stroke-width="1.5" fill="none"/>
<path d="M84.1 992.2h3.8M84.1 933.3h3.8M84.1 874.5h3.8M84.1 815.6h3.8M84.1 756.8h3.8M84.1 697.9h3.8" stroke="#000" stroke-width="1.5" fill="none"/>
<text font-size="28.3" text-anchor="middle" transform="translate(157.1 1054.5) scale(1 1.04)">1</text>
<text font-size="28.3" text-anchor="end" transform="translate(71 973) scale(1 1.04)">1</text>
<text font-size="28.3" text-anchor="middle" transform="translate(230.1 1054.5) scale(1 1.04)">2</text>
<text font-size="28.3" text-anchor="end" transform="translate(71 914.2) scale(1 1.04)">2</text>
<text font-size="28.3" text-anchor="middle" transform="translate(303.1 1054.5) scale(1 1.04)">3</text>
<text font-size="28.3" text-anchor="end" transform="translate(71 855.3) scale(1 1.04)">3</text>
<text font-size="28.3" text-anchor="middle" transform="translate(376.1 1054.5) scale(1 1.04)">4</text>
<text font-size="28.3" text-anchor="end" transform="translate(71 796.5) scale(1 1.04)">4</text>
<text font-size="28.3" text-anchor="middle" transform="translate(449.1 1054.5) scale(1 1.04)">5</text>
<text font-size="28.3" text-anchor="end" transform="translate(71 737.6) scale(1 1.04)">5</text>
<text font-size="28.3" text-anchor="middle" transform="translate(522.1 1054.5) scale(1 1.04)">6</text>
<text font-size="28.3" text-anchor="end" transform="translate(71 678.8) scale(1 1.04)">6</text>
<text font-size="28.3" text-anchor="middle" transform="translate(574.7 1054.5) scale(1 1.04)">1e5</text>
<text font-size="28.3" text-anchor="start" transform="translate(62.3 614.9) scale(1 1.04)">1e5</text>
<text font-size="28.3" transform="translate(263.5 1100.1) scale(1 1.04)">FEA Q<tspan font-size="20" dy="7.5">anchor</tspan></text>
<text font-size="28.3" transform="translate(21 896) rotate(-90) scale(1 1.04)">DL Q<tspan font-size="20" dy="8.5">anchor</tspan></text>
<path d="M759.6 439.3v-2.7h5.4v2.7zM786.7 439.3v-5.4h5.4v5.4zM792.1 439.3v-8.1h5.4v8.1zM797.6 439.3v-5.4h5.4v5.4zM803 439.3v-18.8h5.4v18.8zM808.4 439.3v-18.8h5.4v18.8zM813.8 439.3v-24.2h5.4v24.2zM819.2 439.3v-40.3h5.4v40.3zM824.7 439.3v-48.3h5.4v48.3zM830.1 439.3v-48.3h5.4v48.3zM835.5 439.3v-75.2h5.4v75.2zM840.9 439.3v-77.8h5.4v77.8zM846.3 439.3v-134.2h5.4v134.2zM851.8 439.3v-153h5.4v153zM857.2 439.3v-330.1h5.4v330.1zM862.6 439.3v-319.4h5.4v319.4zM868 439.3v-220.1h5.4v220.1zM873.4 439.3v-214.7h5.4v214.7zM878.9 439.3v-169.1h5.4v169.1zM884.3 439.3v-212h5.4v212zM889.7 439.3v-150.3h5.4v150.3zM895.1 439.3v-179.8h5.4v179.8zM900.5 439.3v-136.9h5.4v136.9zM906 439.3v-147.6h5.4v147.6zM911.4 439.3v-147.6h5.4v147.6zM916.8 439.3v-142.3h5.4v142.3zM922.2 439.3v-131.5h5.4v131.5zM927.6 439.3v-115.4h5.4v115.4zM933.1 439.3v-153h5.4v153zM938.5 439.3v-134.2h5.4v134.2zM943.9 439.3v-118.1h5.4v118.1zM949.3 439.3v-123.5h5.4v123.5zM954.7 439.3v-144.9h5.4v144.9zM960.2 439.3v-126.1h5.4v126.1zM965.6 439.3v-136.9h5.4v136.9zM971 439.3v-139.6h5.4v139.6zM976.4 439.3v-93.9h5.4v93.9zM981.8 439.3v-120.8h5.4v120.8zM987.3 439.3v-115.4h5.4v115.4zM992.7 439.3v-104.7h5.4v104.7zM998.1 439.3v-126.1h5.4v126.1zM1003.5 439.3v-126.1h5.4v126.1zM1008.9 439.3v-88.6h5.4v88.6zM1014.4 439.3v-128.8h5.4v128.8zM1019.8 439.3v-110h5.4v110zM1025.2 439.3v-107.4h5.4v107.4zM1030.6 439.3v-104.7h5.4v104.7zM1036 439.3v-120.8h5.4v120.8zM1041.5 439.3v-96.6h5.4v96.6zM1046.9 439.3v-112.7h5.4v112.7zM1052.3 439.3v-80.5h5.4v80.5zM1057.7 439.3v-102h5.4v102zM1063.1 439.3v-88.6h5.4v88.6zM1068.6 439.3v-104.7h5.4v104.7zM1074 439.3v-126.1h5.4v126.1zM1079.4 439.3v-85.9h5.4v85.9zM1084.8 439.3v-110h5.4v110zM1090.2 439.3v-93.9h5.4v93.9zM1095.7 439.3v-110h5.4v110zM1101.1 439.3v-88.6h5.4v88.6zM1106.5 439.3v-115.4h5.4v115.4zM1111.9 439.3v-83.2h5.4v83.2zM1117.3 439.3v-88.6h5.4v88.6zM1122.8 439.3v-107.4h5.4v107.4zM1128.2 439.3v-83.2h5.4v83.2zM1133.6 439.3v-85.9h5.4v85.9zM1139 439.3v-107.4h5.4v107.4zM1144.4 439.3v-88.6h5.4v88.6zM1149.9 439.3v-80.5h5.4v80.5zM1155.3 439.3v-56.4h5.4v56.4zM1160.7 439.3v-48.3h5.4v48.3zM1166.1 439.3v-67.1h5.4v67.1zM1171.5 439.3v-26.8h5.4v26.8zM1177 439.3v-16.1h5.4v16.1zM1182.4 439.3v-37.6h5.4v37.6zM1187.8 439.3v-8.1h5.4v8.1zM1193.2 439.3v-29.5h5.4v29.5zM1198.6 439.3v-16.1h5.4v16.1zM1214.9 439.3v-2.7h5.4v2.7z" fill="rgb(217,17,17)" fill-opacity="0.6" stroke="#0a1420" stroke-opacity="0.7" stroke-width="1"/>
<path d="M761.4 437.5C763.4 437.1 769.9 435.8 773.4 434.8C776.9 433.8 779.5 433 782.6 431.5C785.7 430 789 427.9 791.8 426C794.6 424.1 796.8 422.5 799.2 420C801.7 417.5 804.4 413.9 806.5 410.8C808.6 407.7 810.3 404.8 812 401.5C813.7 398.2 815 394.6 816.5 391C818 387.4 819.3 384.5 820.9 380C822.5 375.5 823.8 372.1 826 363.8C828.2 355.5 831.7 340.5 834.2 330C836.7 319.5 838.7 310.5 840.8 301C842.9 291.5 844.8 282.2 846.8 273C848.8 263.8 851.1 254.2 852.9 246C854.7 237.8 855.9 231 857.5 224C859.1 217 860.9 208.8 862.5 204C864.1 199.2 865.5 197.4 867 195.5C868.5 193.6 869.9 192.6 871.5 192.4C873.1 192.2 874.8 193 876.5 194.5C878.2 196 880.1 198.6 882 201.5C883.9 204.4 886 208.2 888 212C890 215.8 891.4 219 894.1 224.6C896.9 230.2 901 239.4 904.5 245.4C908 251.4 911.4 256.4 914.9 260.4C918.4 264.4 921.8 266.9 925.2 269.2C928.7 271.5 932.1 273 935.6 274.4C939.1 275.8 942.5 276.7 946 277.8C949.5 278.9 952.8 279.6 956.3 280.8C959.8 282 962.7 283.1 966.7 284.8C970.7 286.5 976.5 289.2 980.5 291C984.5 292.8 987.5 294.1 991 295.5C994.5 296.9 997.9 298.4 1001.4 299.7C1004.9 301 1008.4 302.3 1011.9 303.4C1015.4 304.5 1018.9 305.4 1022.4 306.5C1025.9 307.6 1029.3 308.8 1032.8 309.7C1036.3 310.6 1038.6 310.9 1043.3 311.8C1048 312.7 1054.5 314.3 1060.9 314.9C1067.3 315.5 1074.8 314.6 1081.8 315.4C1088.8 316.2 1095.8 317.9 1102.8 319.6C1109.8 321.4 1118.5 324 1123.7 325.9C1128.9 327.8 1130.7 328.5 1134.1 331C1137.5 333.5 1140.6 336.8 1144.2 340.7C1147.8 344.6 1152 349.6 1155.7 354.3C1159.4 359 1162.7 363.3 1166.2 368.9C1169.7 374.5 1173.1 381.9 1176.6 387.8C1180.1 393.7 1183.6 399.6 1187.1 404.5C1190.6 409.4 1194 413.4 1197.5 417.1C1201 420.8 1204.5 423.9 1208 426.5C1211.5 429.1 1215 431.1 1218.5 432.7C1222 434.3 1225.8 435.1 1228.9 435.9C1232 436.7 1235.9 437.1 1237.3 437.4" fill="none" stroke="#D40000" stroke-width="2.7" clip-path="url(#clipC)"/>
<path d="M765 439.3v-2.7h5.4v2.7zM775.9 439.3v-2.7h5.4v2.7zM781.3 439.3v-2.7h5.4v2.7zM792.1 439.3v-8.1h5.4v8.1zM797.6 439.3v-8.1h5.4v8.1zM803 439.3v-10.7h5.4v10.7zM808.4 439.3v-13.4h5.4v13.4zM813.8 439.3v-29.5h5.4v29.5zM819.2 439.3v-37.6h5.4v37.6zM824.7 439.3v-29.5h5.4v29.5zM830.1 439.3v-75.2h5.4v75.2zM835.5 439.3v-67.1h5.4v67.1zM840.9 439.3v-69.8h5.4v69.8zM846.3 439.3v-131.5h5.4v131.5zM851.8 439.3v-195.9h5.4v195.9zM857.2 439.3v-284.5h5.4v284.5zM862.6 439.3v-319.4h5.4v319.4zM868 439.3v-230.8h5.4v230.8zM873.4 439.3v-222.8h5.4v222.8zM878.9 439.3v-177.1h5.4v177.1zM884.3 439.3v-217.4h5.4v217.4zM889.7 439.3v-150.3h5.4v150.3zM895.1 439.3v-158.4h5.4v158.4zM900.5 439.3v-155.7h5.4v155.7zM906 439.3v-155.7h5.4v155.7zM911.4 439.3v-131.5h5.4v131.5zM916.8 439.3v-147.6h5.4v147.6zM922.2 439.3v-123.5h5.4v123.5zM927.6 439.3v-102h5.4v102zM933.1 439.3v-142.3h5.4v142.3zM938.5 439.3v-139.6h5.4v139.6zM943.9 439.3v-134.2h5.4v134.2zM949.3 439.3v-147.6h5.4v147.6zM954.7 439.3v-123.5h5.4v123.5zM960.2 439.3v-118.1h5.4v118.1zM965.6 439.3v-163.7h5.4v163.7zM971 439.3v-142.3h5.4v142.3zM976.4 439.3v-80.5h5.4v80.5zM981.8 439.3v-126.1h5.4v126.1zM987.3 439.3v-118.1h5.4v118.1zM992.7 439.3v-96.6h5.4v96.6zM998.1 439.3v-123.5h5.4v123.5zM1003.5 439.3v-134.2h5.4v134.2zM1008.9 439.3v-110h5.4v110zM1014.4 439.3v-102h5.4v102zM1019.8 439.3v-91.3h5.4v91.3zM1025.2 439.3v-118.1h5.4v118.1zM1030.6 439.3v-123.5h5.4v123.5zM1036 439.3v-115.4h5.4v115.4zM1041.5 439.3v-83.2h5.4v83.2zM1046.9 439.3v-104.7h5.4v104.7zM1052.3 439.3v-107.4h5.4v107.4zM1057.7 439.3v-85.9h5.4v85.9zM1063.1 439.3v-83.2h5.4v83.2zM1068.6 439.3v-112.7h5.4v112.7zM1074 439.3v-115.4h5.4v115.4zM1079.4 439.3v-107.4h5.4v107.4zM1084.8 439.3v-99.3h5.4v99.3zM1090.2 439.3v-104.7h5.4v104.7zM1095.7 439.3v-88.6h5.4v88.6zM1101.1 439.3v-115.4h5.4v115.4zM1106.5 439.3v-93.9h5.4v93.9zM1111.9 439.3v-83.2h5.4v83.2zM1117.3 439.3v-102h5.4v102zM1122.8 439.3v-107.4h5.4v107.4zM1128.2 439.3v-83.2h5.4v83.2zM1133.6 439.3v-77.8h5.4v77.8zM1139 439.3v-118.1h5.4v118.1zM1144.4 439.3v-80.5h5.4v80.5zM1149.9 439.3v-77.8h5.4v77.8zM1155.3 439.3v-59h5.4v59zM1160.7 439.3v-51h5.4v51zM1166.1 439.3v-56.4h5.4v56.4zM1171.5 439.3v-32.2h5.4v32.2zM1177 439.3v-32.2h5.4v32.2zM1182.4 439.3v-21.5h5.4v21.5zM1187.8 439.3v-16.1h5.4v16.1zM1193.2 439.3v-24.2h5.4v24.2zM1198.6 439.3v-13.4h5.4v13.4zM1214.9 439.3v-2.7h5.4v2.7z" fill="rgb(83,190,250)" fill-opacity="0.6" stroke="#0a1420" stroke-opacity="0.7" stroke-width="1"/>
<path d="M763.5 438.2C765.9 437.8 774 436.7 778 435.7C782 434.7 784.1 433.6 787.2 432C790.3 430.4 793.6 428.1 796.4 426C799.2 423.9 801.5 421.6 803.8 419.1C806.1 416.6 808.3 413.7 810.2 410.8C812.1 407.9 813.7 405.2 815.2 402C816.7 398.8 818 395.2 819.3 391.5C820.6 387.8 821.6 384.6 823.1 380C824.6 375.4 826.3 372.1 828.5 363.8C830.7 355.5 833.9 340.3 836.2 330C838.5 319.7 840.5 311.2 842.5 302C844.5 292.8 846.4 284.5 848.5 275C850.6 265.5 853.5 253.3 855.4 245C857.3 236.7 858.4 230.7 860 225C861.6 219.3 863.6 214.7 865.1 211.1C866.6 207.5 867.7 205.3 869 203.5C870.3 201.7 871.5 200.6 872.8 200.3C874 200 875.3 200.6 876.5 201.5C877.7 202.4 878.1 202.7 880 206C881.9 209.3 885.2 216.2 887.9 221.5C890.6 226.8 893.4 232.7 896.2 238.1C899 243.5 901.4 249.1 904.5 254.2C907.6 259.3 911.4 264.8 914.9 268.7C918.4 272.6 921.8 275 925.2 277.3C928.7 279.6 932.1 281.1 935.6 282.4C939.1 283.6 942.5 284 946 284.8C949.5 285.6 952.8 286 956.3 287C959.8 288 962.7 289.3 966.7 290.8C970.7 292.3 976.5 294.3 980.5 295.8C984.5 297.3 987.5 298.4 991 299.7C994.5 301 997.9 302.7 1001.4 303.9C1004.9 305.1 1008.4 306.1 1011.9 307.1C1015.4 308.2 1018.9 309.1 1022.4 310.2C1025.9 311.3 1029.3 312.9 1032.8 313.9C1036.3 314.9 1038.6 315.2 1043.3 316.2C1048 317.1 1054.5 319 1060.9 319.6C1067.3 320.2 1074.8 319.1 1081.8 319.8C1088.8 320.5 1095.8 322 1102.8 323.8C1109.8 325.6 1117.5 327.7 1123.7 330.5C1129.9 333.3 1135.5 337.2 1140 340.7C1144.5 344.1 1147 346.8 1150.5 351.2C1154 355.6 1157.4 361.2 1160.9 366.8C1164.4 372.4 1167.9 378.8 1171.4 384.6C1174.9 390.4 1178.3 396.3 1181.8 401.4C1185.3 406.5 1188.8 411 1192.3 415C1195.8 419 1199.3 422.4 1202.8 425.4C1206.3 428.3 1209.7 430.9 1213.2 432.7C1216.7 434.5 1220.2 435.5 1223.7 436.4C1227.2 437.3 1232.4 437.7 1234.1 438" fill="none" stroke="#4DB8F5" stroke-width="4" clip-path="url(#clipC)"/>
<rect x="721.9" y="36.8" width="542.5" height="402.5" fill="none" stroke="#3c3c3c" stroke-width="1.6"/>
<path d="M770.4 439.3v-7M869.2 439.3v-7M968 439.3v-7M1066.8 439.3v-7M1165.6 439.3v-7" stroke="#111" stroke-width="1.5" fill="none"/>
<path d="M819.8 439.3v-3.5M918.6 439.3v-3.5M1017.4 439.3v-3.5M1116.2 439.3v-3.5M1215 439.3v-3.5" stroke="#111" stroke-width="1.5" fill="none"/>
<path d="M721.9 385.6h7M721.9 331.9h7M721.9 278.3h7M721.9 224.6h7M721.9 170.9h7M721.9 117.2h7M721.9 63.5h7" stroke="#3c3c3c" stroke-width="1.5" fill="none"/>
<path d="M721.9 412.5h3.5M721.9 358.8h3.5M721.9 305.1h3.5M721.9 251.4h3.5M721.9 197.7h3.5M721.9 144.1h3.5M721.9 90.4h3.5" stroke="#3c3c3c" stroke-width="1.5" fill="none"/>
<text font-size="28.3" text-anchor="middle" transform="translate(770.4 470.9) scale(1 1.04)">1</text>
<text font-size="28.3" text-anchor="middle" transform="translate(869.2 470.9) scale(1 1.04)">2</text>
<text font-size="28.3" text-anchor="middle" transform="translate(968 470.9) scale(1 1.04)">3</text>
<text font-size="28.3" text-anchor="middle" transform="translate(1066.8 470.9) scale(1 1.04)">4</text>
<text font-size="28.3" text-anchor="middle" transform="translate(1165.6 470.9) scale(1 1.04)">5</text>
<text font-size="28.3" text-anchor="middle" transform="translate(1264.4 470.9) scale(1 1.04)">6</text>
<text font-size="28.3" text-anchor="end" transform="translate(708.7 448.3) scale(1 1.04)">0</text>
<text font-size="28.3" text-anchor="end" transform="translate(708.7 394.6) scale(1 1.04)">20</text>
<text font-size="28.3" text-anchor="end" transform="translate(708.7 340.9) scale(1 1.04)">40</text>
<text font-size="28.3" text-anchor="end" transform="translate(708.7 287.3) scale(1 1.04)">60</text>
<text font-size="28.3" text-anchor="end" transform="translate(708.7 233.6) scale(1 1.04)">80</text>
<text font-size="28.3" text-anchor="end" transform="translate(708.7 179.9) scale(1 1.04)">100</text>
<text font-size="28.3" text-anchor="end" transform="translate(708.7 126.2) scale(1 1.04)">120</text>
<text font-size="28.3" text-anchor="end" transform="translate(708.7 72.5) scale(1 1.04)">140</text>
<text font-size="28.3" text-anchor="middle" transform="translate(986 515) scale(1 1.04)">Frequency [MHz]</text>
<text font-size="28.3" text-anchor="middle" transform="translate(639.2 241.2) rotate(-90) scale(1 1.04)">Count</text>
<rect x="964.2" y="83.7" width="278.1" height="69.7" fill="#fff" stroke="#555" stroke-width="1.2"/>
<rect x="975.8" y="88.5" width="57.7" height="28.3" fill="rgb(217,17,17)" stroke="#0a1420" stroke-width="1" fill-opacity="0.6" stroke-opacity="0.8"/>
<rect x="975.8" y="121.3" width="57.7" height="28.1" fill="rgb(83,190,250)" stroke="#0a1420" stroke-width="1" fill-opacity="0.6" stroke-opacity="0.8"/>
<text font-size="24.5" text-anchor="start" transform="translate(1046.8 112.3) scale(1 1.04)">FEA distribution</text>
<text font-size="24.5" text-anchor="start" transform="translate(1046.8 144.2) scale(1 1.04)">DL distribution</text>
<path d="M728.4 1020.7v-88.5h6.8v88.5zM735.2 1020.7v-265.4h6.8v265.4zM742 1020.7v-352.2h6.8v352.2zM748.7 1020.7v-299.2h6.8v299.2zM755.5 1020.7v-294.3h6.8v294.3zM762.3 1020.7v-268.6h6.8v268.6zM769.1 1020.7v-262.2h6.8v262.2zM775.9 1020.7v-230h6.8v230zM782.6 1020.7v-191.4h6.8v191.4zM789.4 1020.7v-188.2h6.8v188.2zM796.2 1020.7v-143.1h6.8v143.1zM803 1020.7v-144.8h6.8v144.8zM809.8 1020.7v-138.3h6.8v138.3zM816.5 1020.7v-125.5h6.8v125.5zM823.3 1020.7v-120.6h6.8v120.6zM830.1 1020.7v-86.9h6.8v86.9zM836.9 1020.7v-78.8h6.8v78.8zM843.7 1020.7v-61.1h6.8v61.1zM850.4 1020.7v-77.2h6.8v77.2zM857.2 1020.7v-72.4h6.8v72.4zM864 1020.7v-86.9h6.8v86.9zM870.8 1020.7v-65.9h6.8v65.9zM877.6 1020.7v-86.9h6.8v86.9zM884.3 1020.7v-69.2h6.8v69.2zM891.1 1020.7v-78.8h6.8v78.8zM897.9 1020.7v-75.6h6.8v75.6zM904.7 1020.7v-98.1h6.8v98.1zM911.5 1020.7v-70.8h6.8v70.8zM918.2 1020.7v-69.2h6.8v69.2zM925 1020.7v-107.8h6.8v107.8zM931.8 1020.7v-115.8h6.8v115.8zM938.6 1020.7v-88.5h6.8v88.5zM945.4 1020.7v-53.1h6.8v53.1zM952.1 1020.7v-22.5h6.8v22.5zM958.9 1020.7v-29h6.8v29zM965.7 1020.7v-29h6.8v29zM972.5 1020.7v-20.9h6.8v20.9zM979.3 1020.7v-12.9h6.8v12.9zM986 1020.7v-12.9h6.8v12.9zM992.8 1020.7v-19.3h6.8v19.3zM999.6 1020.7v-14.5h6.8v14.5zM1006.4 1020.7v-14.5h6.8v14.5zM1013.2 1020.7v-11.3h6.8v11.3zM1019.9 1020.7v-3.2h6.8v3.2zM1026.7 1020.7v-8h6.8v8zM1033.5 1020.7v-1.6h6.8v1.6zM1040.3 1020.7v-3.2h6.8v3.2zM1047.1 1020.7v-14.5h6.8v14.5zM1053.8 1020.7v-1.6h6.8v1.6zM1060.6 1020.7v-3.2h6.8v3.2zM1067.4 1020.7v-3.2h6.8v3.2zM1074.2 1020.7v-1.6h6.8v1.6zM1081 1020.7v-1.6h6.8v1.6zM1087.7 1020.7v-1.6h6.8v1.6zM1094.5 1020.7v-1.6h6.8v1.6zM1101.3 1020.7v-1.6h6.8v1.6zM1108.1 1020.7v-1.6h6.8v1.6zM1162.3 1020.7v-1.6h6.8v1.6zM1169.1 1020.7v-1.6h6.8v1.6zM1182.7 1020.7v-1.6h6.8v1.6zM1189.4 1020.7v-3.2h6.8v3.2zM1203 1020.7v-1.6h6.8v1.6z" fill="rgb(215,15,15)" fill-opacity="0.5" stroke="#101820" stroke-opacity="0.7" stroke-width="1"/>
<path d="M721.3 933C721.5 931.8 721.7 930.8 722.3 926C722.9 921.2 724 911.7 725 904C726 896.3 727.1 888 728 880C728.9 872 729.7 864 730.5 856C731.3 848 731.9 839.7 732.7 832C733.5 824.3 734.4 817.7 735.3 810C736.2 802.3 736.5 801.1 737.9 786C739.3 770.9 741.8 736.5 743.8 719.5C745.8 702.5 747.4 692.3 749.8 683.8C752.2 675.3 755.6 669.6 758.1 668.3C760.6 667 762.6 670.7 765 676C767.4 681.3 769.8 690.8 772.4 700C775 709.2 777.6 719.7 780.7 731.1C783.8 742.5 787.6 756.4 791.1 768.5C794.6 780.6 798 793 801.5 803.7C805 814.4 808.4 823.4 811.9 832.8C815.4 842.1 818.8 851.5 822.2 859.8C825.7 868.1 829.1 875.4 832.6 882.6C836.1 889.9 839.5 897.4 843 903.3C846.5 909.2 849.9 914.5 853.4 917.8C856.9 921.1 860.2 922.3 863.7 923C867.2 923.7 868.9 922.9 874.1 922C879.3 921.1 888 919.5 894.9 917.8C901.8 916.1 910.4 913.5 915.6 911.6C920.8 909.7 922.5 906.3 926 906.6C929.5 906.9 933.2 909.7 936.3 913.2C939.4 916.7 942.4 923.4 944.6 927.5C946.9 931.6 947.9 932.7 949.8 937.6C951.7 942.5 954.1 951 956.2 956.8C958.3 962.6 960.5 967.9 962.6 972.2C964.7 976.5 966.9 979.4 969 982.4C971.1 985.4 972.2 987.5 975.4 990.1C978.6 992.7 983.9 995.7 988.2 997.8C992.5 999.9 996.7 1001.4 1001 1002.9C1005.3 1004.4 1009.5 1005.6 1013.8 1006.8C1018.1 1008 1022.3 1009.1 1026.6 1010C1030.9 1010.9 1035.1 1011.4 1039.4 1011.9C1043.7 1012.4 1046.9 1012.8 1052.2 1013.2C1057.5 1013.6 1064.4 1013.9 1071.5 1014.4C1078.6 1014.9 1087.8 1015.6 1095 1016.5C1102.2 1017.4 1111.7 1019 1115 1019.5" fill="none" stroke="#D40000" stroke-width="3" clip-path="url(#clipD)"/>
<path d="M728.4 1020.7v-88.5h6.8v88.5zM735.2 1020.7v-275h6.8v275zM742 1020.7v-341h6.8v341zM748.7 1020.7v-313.6h6.8v313.6zM755.5 1020.7v-276.6h6.8v276.6zM762.3 1020.7v-262.2h6.8v262.2zM769.1 1020.7v-271.8h6.8v271.8zM775.9 1020.7v-230h6.8v230zM782.6 1020.7v-176.9h6.8v176.9zM789.4 1020.7v-189.8h6.8v189.8zM796.2 1020.7v-156h6.8v156zM803 1020.7v-146.4h6.8v146.4zM809.8 1020.7v-135.1h6.8v135.1zM816.5 1020.7v-130.3h6.8v130.3zM823.3 1020.7v-115.8h6.8v115.8zM830.1 1020.7v-90.1h6.8v90.1zM836.9 1020.7v-80.4h6.8v80.4zM843.7 1020.7v-65.9h6.8v65.9zM850.4 1020.7v-65.9h6.8v65.9zM857.2 1020.7v-59.5h6.8v59.5zM864 1020.7v-90.1h6.8v90.1zM870.8 1020.7v-75.6h6.8v75.6zM877.6 1020.7v-86.9h6.8v86.9zM884.3 1020.7v-75.6h6.8v75.6zM891.1 1020.7v-82h6.8v82zM897.9 1020.7v-75.6h6.8v75.6zM904.7 1020.7v-86.9h6.8v86.9zM911.5 1020.7v-98.1h6.8v98.1zM918.2 1020.7v-64.3h6.8v64.3zM925 1020.7v-96.5h6.8v96.5zM931.8 1020.7v-123.8h6.8v123.8zM938.6 1020.7v-88.5h6.8v88.5zM945.4 1020.7v-49.9h6.8v49.9zM952.1 1020.7v-17.7h6.8v17.7zM958.9 1020.7v-32.2h6.8v32.2zM965.7 1020.7v-22.5h6.8v22.5zM972.5 1020.7v-20.9h6.8v20.9zM979.3 1020.7v-20.9h6.8v20.9zM986 1020.7v-14.5h6.8v14.5zM992.8 1020.7v-19.3h6.8v19.3zM999.6 1020.7v-17.7h6.8v17.7zM1006.4 1020.7v-9.7h6.8v9.7zM1013.2 1020.7v-11.3h6.8v11.3zM1019.9 1020.7v-9.7h6.8v9.7zM1026.7 1020.7v-1.6h6.8v1.6zM1033.5 1020.7v-3.2h6.8v3.2zM1040.3 1020.7v-4.8h6.8v4.8zM1047.1 1020.7v-4.8h6.8v4.8zM1053.8 1020.7v-3.2h6.8v3.2zM1060.6 1020.7v-3.2h6.8v3.2zM1067.4 1020.7v-6.4h6.8v6.4zM1074.2 1020.7v-1.6h6.8v1.6zM1087.7 1020.7v-1.6h6.8v1.6zM1094.5 1020.7v-1.6h6.8v1.6zM1101.3 1020.7v-1.6h6.8v1.6zM1108.1 1020.7v-1.6h6.8v1.6zM1142 1020.7v-1.6h6.8v1.6zM1209.8 1020.7v-1.6h6.8v1.6z" fill="rgb(85,193,249)" fill-opacity="0.5" stroke="#101820" stroke-opacity="0.7" stroke-width="1"/>
<path d="M721.3 950C721.5 948.8 721.5 948.7 722.3 942.5C723.1 936.3 724.7 923.4 726 913C727.3 902.6 729 889.5 730 880C731 870.5 731.4 864 732 856C732.6 848 733.2 839.7 733.9 832C734.6 824.3 735.4 817 736 810C736.6 803 736.5 801.1 737.8 790C739.1 778.9 741.6 759 743.8 743.3C746 727.6 748.6 706.4 751 695.7C753.4 685 755.7 680.4 758.1 679C760.5 677.6 762.8 682.4 765.2 687.4C767.6 692.4 769.8 699.6 772.4 709C775 718.4 777.6 731.6 780.7 743.6C783.8 755.6 787.6 769.1 791.1 780.9C794.6 792.6 798 804.1 801.5 814.1C805 824.1 808.4 832.5 811.9 841.1C815.4 849.8 818.8 858 822.2 866C825.7 874 829.1 881.5 832.6 888.8C836.1 896 839.5 903.6 843 909.5C846.5 915.4 849.9 921.2 853.4 924C856.9 926.8 858.5 926.6 863.7 926.1C868.9 925.6 877.6 922.7 884.5 921C891.4 919.3 898.3 917.5 905.2 915.8C912.1 914.1 920.8 910.8 926 910.8C931.2 910.8 933.5 913 936.3 915.8C939.1 918.6 940.4 922.8 942.6 927.5C944.9 932.2 947.5 938.3 949.8 944C952.1 949.7 954.1 956.4 956.2 961.9C958.3 967.4 960.5 973 962.6 977.3C964.7 981.6 965.8 984.6 969 987.6C972.2 990.6 977.5 993.1 981.8 995.2C986.1 997.3 990.3 998.8 994.6 1000.4C998.9 1002 1003.1 1003.3 1007.4 1004.8C1011.7 1006.3 1015.9 1008.1 1020.2 1009.3C1024.5 1010.5 1028.7 1011.1 1033 1011.9C1037.3 1012.6 1039.4 1013.3 1045.8 1013.8C1052.2 1014.3 1061.6 1014.6 1071.5 1015.1C1081.4 1015.6 1093.4 1016.1 1105 1016.8C1116.6 1017.4 1135 1018.6 1141 1019" fill="none" stroke="#4DB8F5" stroke-width="4" clip-path="url(#clipD)"/>
<rect x="722.3" y="618.6" width="542.1" height="402.1" fill="none" stroke="#000" stroke-width="1.6"/>
<path d="M835.3 1020.7v-7M948.3 1020.7v-7M1061.3 1020.7v-7M1174.3 1020.7v-7" stroke="#111" stroke-width="1.5" fill="none"/>
<path d="M778.8 1020.7v-3.5M891.8 1020.7v-3.5M1004.8 1020.7v-3.5M1117.8 1020.7v-3.5M1230.8 1020.7v-3.5" stroke="#111" stroke-width="1.5" fill="none"/>
<path d="M722.3 940.3h7M722.3 859.9h7M722.3 779.4h7M722.3 699h7" stroke="#000" stroke-width="1.5" fill="none"/>
<path d="M722.3 980.5h3.5M722.3 900.1h3.5M722.3 819.7h3.5M722.3 739.2h3.5M722.3 658.8h3.5" stroke="#000" stroke-width="1.5" fill="none"/>
<text font-size="28.3" text-anchor="middle" transform="translate(835.3 1054.7) scale(1 1.04)">1</text>
<text font-size="28.3" text-anchor="middle" transform="translate(948.3 1054.7) scale(1 1.04)">2</text>
<text font-size="28.3" text-anchor="middle" transform="translate(1061.3 1054.7) scale(1 1.04)">3</text>
<text font-size="28.3" text-anchor="middle" transform="translate(1174.3 1054.7) scale(1 1.04)">4</text>
<text font-size="28.3" text-anchor="middle" transform="translate(1246.5 1054.7) scale(1 1.04)">1e5</text>
<text font-size="28.3" text-anchor="end" transform="translate(708.7 1030) scale(1 1.04)">0</text>
<text font-size="28.3" text-anchor="end" transform="translate(708.7 949.6) scale(1 1.04)">50</text>
<text font-size="28.3" text-anchor="end" transform="translate(708.7 869.2) scale(1 1.04)">100</text>
<text font-size="28.3" text-anchor="end" transform="translate(708.7 788.7) scale(1 1.04)">150</text>
<text font-size="28.3" text-anchor="end" transform="translate(708.7 708.3) scale(1 1.04)">200</text>
<text font-size="28.3" text-anchor="end" transform="translate(708.7 627.9) scale(1 1.04)">250</text>
<text font-size="28.3" transform="translate(944.5 1100.1) scale(1 1.04)">Q<tspan font-size="20" dy="8.2">anchor</tspan></text>
<text font-size="28.3" text-anchor="middle" transform="translate(639.3 822.5) rotate(-90) scale(1 1.04)">Count</text>
<rect x="980.5" y="660.5" width="278.2" height="69.1" fill="#fff" stroke="#333" stroke-width="1.2"/>
<rect x="992.2" y="665.1" width="57.4" height="27.8" fill="rgb(215,15,15)" stroke="#101820" stroke-width="1" fill-opacity="0.5" stroke-opacity="0.6"/>
<rect x="992.2" y="697.9" width="57.4" height="28.1" fill="rgb(85,193,249)" stroke="#101820" stroke-width="1" fill-opacity="0.5" stroke-opacity="0.6"/>
<text font-size="24.5" text-anchor="start" transform="translate(1062.9 687.9) scale(1 1.04)">FEA distribution</text>
<text font-size="24.5" text-anchor="start" transform="translate(1062.9 721) scale(1 1.04)">DL distribution</text>
<path d="M1521 73.5V240.8M1517 73.5h8M1517 240.8h8" stroke="#FFC378" stroke-opacity="1" stroke-width="1.2" fill="none"/>
<path d="M1610.5 79.8V213M1606.5 79.8h8M1606.5 213h8" stroke="#FFC378" stroke-opacity="1" stroke-width="1.2" fill="none"/>
<path d="M1700.6 90.4V151.3M1696.6 90.4h8M1696.6 151.3h8" stroke="#FFC378" stroke-opacity="1" stroke-width="1.2" fill="none"/>
<path d="M1791 102.2V122.3M1787 102.2h8M1787 122.3h8" stroke="#FFC378" stroke-opacity="1" stroke-width="1.2" fill="none"/>
<path d="M1897.3 101.1V115.2M1893.3 101.1h8M1893.3 115.2h8" stroke="#FFC378" stroke-opacity="1" stroke-width="1.2" fill="none"/>
<polyline points="1521,156.7 1610.5,146.6 1700.6,120.9 1791,111.9 1897.3,109.4" fill="none" stroke="#FF8C00" stroke-width="3.2"/>
<circle cx="1521" cy="156.7" r="6.4" fill="#FF8C00"/>
<circle cx="1610.5" cy="146.6" r="6.4" fill="#FF8C00"/>
<circle cx="1700.6" cy="120.9" r="6.4" fill="#FF8C00"/>
<circle cx="1791" cy="111.9" r="6.4" fill="#FF8C00"/>
<circle cx="1897.3" cy="109.4" r="6.4" fill="#FF8C00"/>
<path d="M1521 107.5V394.5M1517 107.5h8M1517 394.5h8" stroke="rgb(130,205,252)" stroke-opacity="0.9" stroke-width="1.3" fill="none"/>
<path d="M1610.5 51.2V397.5M1606.5 51.2h8M1606.5 397.5h8" stroke="rgb(130,205,252)" stroke-opacity="0.9" stroke-width="1.3" fill="none"/>
<path d="M1700.6 86.4V262.2M1696.6 86.4h8M1696.6 262.2h8" stroke="rgb(130,205,252)" stroke-opacity="0.9" stroke-width="1.3" fill="none"/>
<path d="M1791 100.5V173.2M1787 100.5h8M1787 173.2h8" stroke="rgb(130,205,252)" stroke-opacity="0.9" stroke-width="1.3" fill="none"/>
<path d="M1897.3 98.5V145.5M1893.3 98.5h8M1893.3 145.5h8" stroke="rgb(130,205,252)" stroke-opacity="0.9" stroke-width="1.3" fill="none"/>
<polyline points="1521,250.9 1610.5,224 1700.6,174 1791,136.8 1897.3,122.3" fill="none" stroke="#4DB8F5" stroke-width="3.2"/>
<path d="M1514 250.9h14M1521 243.9v14M1514.6 244.5l12.8 12.8M1514.6 257.3l12.8 -12.8M1603.5 224h14M1610.5 217v14M1604.1 217.6l12.8 12.8M1604.1 230.4l12.8 -12.8M1693.6 174h14M1700.6 167v14M1694.2 167.6l12.8 12.8M1694.2 180.4l12.8 -12.8M1784 136.8h14M1791 129.8v14M1784.6 130.4l12.8 12.8M1784.6 143.2l12.8 -12.8M1890.3 122.3h14M1897.3 115.3v14M1890.9 115.9l12.8 12.8M1890.9 128.7l12.8 -12.8" stroke="#00A0FF" stroke-width="3" fill="none" stroke-linecap="round"/>
<rect x="1691.3" y="347.9" width="222.5" height="69.2" fill="#fff" stroke="#8a8a8a" stroke-width="1.2"/>
<line x1="1693.9" y1="366.4" x2="1753.7" y2="366.4" stroke="#FF8C00" stroke-width="3.2" stroke-linecap="round"/>
<circle cx="1723.4" cy="366.4" r="6.4" fill="#FF8C00"/>
<line x1="1693.9" y1="399.2" x2="1753.7" y2="399.2" stroke="#4DB8F5" stroke-width="3.2" stroke-linecap="round"/>
<path d="M1716.4 399.2h14M1723.4 392.2v14M1717 392.8l12.8 12.8M1717 405.6l12.8 -12.8" stroke="#00A0FF" stroke-width="3" fill="none" stroke-linecap="round"/>
<text font-size="24.5" text-anchor="start" transform="translate(1765.6 375.5) scale(1 1.04)">Training set</text>
<text font-size="24.5" text-anchor="start" transform="translate(1765.6 408.4) scale(1 1.04)">Testing set</text>
<rect x="1431.5" y="45.1" width="489.4" height="393.4" fill="none" stroke="#000" stroke-width="1.5"/>
<path d="M1431.5 438.5v-8M1619.5 438.5v-8M1807.5 438.5v-8" stroke="#000" stroke-width="1.5" fill="none"/>
<path d="M1488.1 438.5v-4.3M1521.2 438.5v-4.3M1544.7 438.5v-4.3M1562.9 438.5v-4.3M1577.8 438.5v-4.3M1590.4 438.5v-4.3M1601.3 438.5v-4.3M1610.9 438.5v-4.3M1676.1 438.5v-4.3M1709.2 438.5v-4.3M1732.7 438.5v-4.3M1750.9 438.5v-4.3M1765.8 438.5v-4.3M1778.4 438.5v-4.3M1789.3 438.5v-4.3M1798.9 438.5v-4.3M1864.1 438.5v-4.3M1897.2 438.5v-4.3" stroke="#000" stroke-width="1.5" fill="none"/>
<path d="M1431.5 402.3h8M1431.5 327.7h8M1431.5 253.1h8M1431.5 178.5h8M1431.5 103.9h8" stroke="#000" stroke-width="1.5" fill="none"/>
<path d="M1431.5 365h4.3M1431.5 290.4h4.3M1431.5 215.8h4.3M1431.5 141.2h4.3M1431.5 66.6h4.3" stroke="#000" stroke-width="1.5" fill="none"/>
<text font-size="28.3" text-anchor="middle" transform="translate(1431.5 471.3) scale(1 1.04)">100</text>
<text font-size="28.3" text-anchor="middle" transform="translate(1619.5 471.3) scale(1 1.04)">1000</text>
<text font-size="28.3" text-anchor="middle" transform="translate(1807.5 471.3) scale(1 1.04)">10000</text>
<text font-size="28.3" text-anchor="end" transform="translate(1418.8 413.7) scale(1 1.04)">0.80</text>
<text font-size="28.3" text-anchor="end" transform="translate(1418.8 339.1) scale(1 1.04)">0.85</text>
<text font-size="28.3" text-anchor="end" transform="translate(1418.8 264.5) scale(1 1.04)">0.90</text>
<text font-size="28.3" text-anchor="end" transform="translate(1418.8 189.9) scale(1 1.04)">0.95</text>
<text font-size="28.3" text-anchor="end" transform="translate(1418.8 115.3) scale(1 1.04)">1.00</text>
<text font-size="28.3" text-anchor="middle" transform="translate(1653.2 513.9) scale(1 1.04)">Sample amount</text>
<text font-size="28.3" text-anchor="middle" transform="translate(1335.7 248.9) rotate(-90) scale(1 1.04)">Accuracy</text>
<path d="M1520.6 658.4V826.4M1516.6 658.4h8M1516.6 826.4h8" stroke="#FF9A20" stroke-opacity="0.55" stroke-width="1.3" fill="none"/>
<path d="M1608.8 636.2V748.2M1604.8 636.2h8M1604.8 748.2h8" stroke="#FF9A20" stroke-opacity="0.55" stroke-width="1.3" fill="none"/>
<path d="M1697.8 654.4V726.3M1693.8 654.4h8M1693.8 726.3h8" stroke="#FF9A20" stroke-opacity="0.55" stroke-width="1.3" fill="none"/>
<path d="M1786 660.4V697.4M1782 660.4h8M1782 697.4h8" stroke="#FF9A20" stroke-opacity="0.55" stroke-width="1.3" fill="none"/>
<path d="M1892 662.7V685.8M1888 662.7h8M1888 685.8h8" stroke="#FF9A20" stroke-opacity="0.55" stroke-width="1.3" fill="none"/>
<polyline points="1520.6,742.3 1608.8,692 1697.8,690.1 1786,678.6 1892,674" fill="none" stroke="#FF8C00" stroke-width="3.2"/>
<circle cx="1520.6" cy="742.3" r="6.4" fill="#FF8C00"/>
<circle cx="1608.8" cy="692" r="6.4" fill="#FF8C00"/>
<circle cx="1697.8" cy="690.1" r="6.4" fill="#FF8C00"/>
<circle cx="1786" cy="678.6" r="6.4" fill="#FF8C00"/>
<circle cx="1892" cy="674" r="6.4" fill="#FF8C00"/>
<path d="M1520.6 743.1V1005.8M1516.6 743.1h8M1516.6 1005.8h8" stroke="rgb(175,222,252)" stroke-opacity="0.8" stroke-width="1.8" fill="none"/>
<path d="M1608.8 690.9V978.5M1604.8 690.9h8M1604.8 978.5h8" stroke="rgb(175,222,252)" stroke-opacity="0.8" stroke-width="1.8" fill="none"/>
<path d="M1697.8 678.2V887.3M1693.8 678.2h8M1693.8 887.3h8" stroke="rgb(175,222,252)" stroke-opacity="0.8" stroke-width="1.8" fill="none"/>
<path d="M1786 665.3V781.1M1782 665.3h8M1782 781.1h8" stroke="rgb(175,222,252)" stroke-opacity="0.8" stroke-width="1.8" fill="none"/>
<path d="M1892 666.2V723.1M1888 666.2h8M1888 723.1h8" stroke="rgb(175,222,252)" stroke-opacity="0.8" stroke-width="1.8" fill="none"/>
<polyline points="1520.6,875.1 1608.8,834.6 1697.8,782.9 1786,723.3 1892,695.6" fill="none" stroke="#4DB8F5" stroke-width="3.2"/>
<path d="M1513.6 875.1h14M1520.6 868.1v14M1514.2 868.7l12.8 12.8M1514.2 881.5l12.8 -12.8M1601.8 834.6h14M1608.8 827.6v14M1602.4 828.2l12.8 12.8M1602.4 841l12.8 -12.8M1690.8 782.9h14M1697.8 775.9v14M1691.4 776.5l12.8 12.8M1691.4 789.3l12.8 -12.8M1779 723.3h14M1786 716.3v14M1779.6 716.9l12.8 12.8M1779.6 729.7l12.8 -12.8M1885 695.6h14M1892 688.6v14M1885.6 689.2l12.8 12.8M1885.6 702l12.8 -12.8" stroke="#00A0FF" stroke-width="3" fill="none" stroke-linecap="round"/>
<rect x="1682.1" y="926.8" width="220" height="68.6" fill="#fff" stroke="#8a8a8a" stroke-width="1.2"/>
<line x1="1684.7" y1="945.3" x2="1743.4" y2="945.3" stroke="#FF8C00" stroke-width="3.2" stroke-linecap="round"/>
<circle cx="1713.9" cy="945.3" r="6.4" fill="#FF8C00"/>
<line x1="1684.7" y1="977.4" x2="1743.4" y2="977.4" stroke="#4DB8F5" stroke-width="3.2" stroke-linecap="round"/>
<path d="M1706.9 977.4h14M1713.9 970.4v14M1707.5 971l12.8 12.8M1707.5 983.8l12.8 -12.8" stroke="#00A0FF" stroke-width="3" fill="none" stroke-linecap="round"/>
<text font-size="24.5" text-anchor="start" transform="translate(1755.9 954.7) scale(1 1.04)">Training set</text>
<text font-size="24.5" text-anchor="start" transform="translate(1755.9 986.9) scale(1 1.04)">Testing set</text>
<rect x="1432" y="629.9" width="483.2" height="390" fill="none" stroke="#000" stroke-width="1.5"/>
<path d="M1432 1019.9v-8M1617.7 1019.9v-8M1803.4 1019.9v-8" stroke="#000" stroke-width="1.5" fill="none"/>
<path d="M1487.9 1019.9v-4.3M1520.6 1019.9v-4.3M1543.8 1019.9v-4.3M1561.8 1019.9v-4.3M1576.5 1019.9v-4.3M1588.9 1019.9v-4.3M1599.7 1019.9v-4.3M1609.2 1019.9v-4.3M1673.6 1019.9v-4.3M1706.3 1019.9v-4.3M1729.5 1019.9v-4.3M1747.5 1019.9v-4.3M1762.2 1019.9v-4.3M1774.6 1019.9v-4.3M1785.4 1019.9v-4.3M1794.9 1019.9v-4.3M1859.3 1019.9v-4.3M1892 1019.9v-4.3" stroke="#000" stroke-width="1.5" fill="none"/>
<path d="M1432 983.6h8M1432 938.3h8M1432 892.9h8M1432 847.5h8M1432 802.2h8M1432 756.8h8M1432 711.5h8M1432 666.1h8" stroke="#000" stroke-width="1.5" fill="none"/>
<path d="M1432 1006.3h4.3M1432 960.9h4.3M1432 915.6h4.3M1432 870.2h4.3M1432 824.9h4.3M1432 779.5h4.3M1432 734.1h4.3M1432 688.8h4.3M1432 643.4h4.3" stroke="#000" stroke-width="1.5" fill="none"/>
<text font-size="28.3" text-anchor="middle" transform="translate(1432 1054.7) scale(1 1.04)">100</text>
<text font-size="28.3" text-anchor="middle" transform="translate(1617.7 1054.7) scale(1 1.04)">1000</text>
<text font-size="28.3" text-anchor="middle" transform="translate(1803.4 1054.7) scale(1 1.04)">10000</text>
<text font-size="28.3" text-anchor="end" transform="translate(1418.8 993.2) scale(1 1.04)">0.65</text>
<text font-size="28.3" text-anchor="end" transform="translate(1418.8 947.9) scale(1 1.04)">0.70</text>
<text font-size="28.3" text-anchor="end" transform="translate(1418.8 902.5) scale(1 1.04)">0.75</text>
<text font-size="28.3" text-anchor="end" transform="translate(1418.8 857.1) scale(1 1.04)">0.80</text>
<text font-size="28.3" text-anchor="end" transform="translate(1418.8 811.8) scale(1 1.04)">0.85</text>
<text font-size="28.3" text-anchor="end" transform="translate(1418.8 766.4) scale(1 1.04)">0.90</text>
<text font-size="28.3" text-anchor="end" transform="translate(1418.8 721.1) scale(1 1.04)">0.95</text>
<text font-size="28.3" text-anchor="end" transform="translate(1418.8 675.7) scale(1 1.04)">1.00</text>
<text font-size="28.3" text-anchor="middle" transform="translate(1665.5 1099.5) scale(1 1.04)">Sample amount</text>
<text font-size="28.3" text-anchor="middle" transform="translate(1335.7 824) rotate(-90) scale(1 1.04)">Accuracy</text>
</svg>
</body></html>
